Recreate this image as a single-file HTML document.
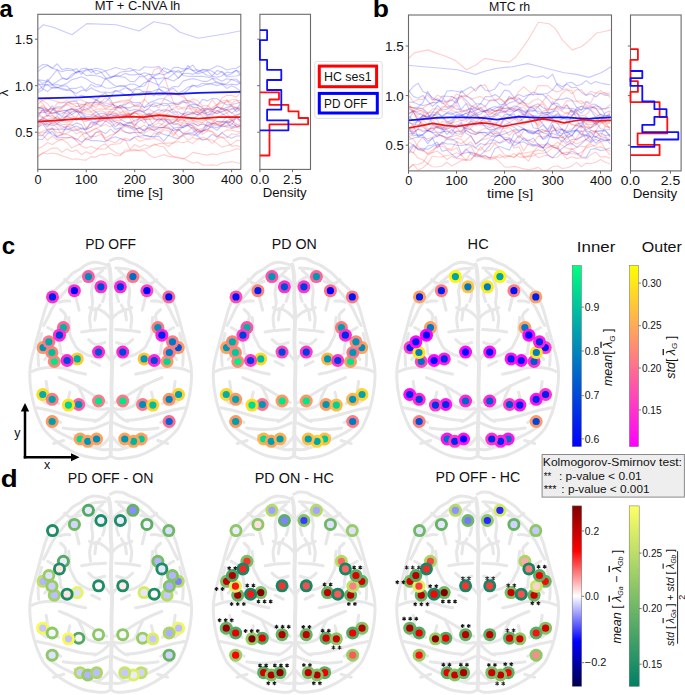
<!DOCTYPE html><html><head><meta charset="utf-8"><style>html,body{margin:0;padding:0;background:#fff;overflow:hidden;width:685px;height:695px;}svg{display:block;}text{font-family:"Liberation Sans",sans-serif;}</style></head><body>
<svg width="685" height="695" viewBox="0 0 685 695">
<rect width="685" height="695" fill="#fff"/>
<defs>
<linearGradient id="gwinter" x1="0" y1="1" x2="0" y2="0"><stop offset="0" stop-color="rgb(0,0,255)"/><stop offset="1" stop-color="rgb(0,255,128)"/></linearGradient>
<linearGradient id="gspring" x1="0" y1="1" x2="0" y2="0"><stop offset="0" stop-color="rgb(255,0,255)"/><stop offset="1" stop-color="rgb(255,255,0)"/></linearGradient>
<linearGradient id="gseismic" x1="0" y1="1" x2="0" y2="0"><stop offset="0" stop-color="rgb(0,0,77)"/><stop offset="0.25" stop-color="rgb(0,0,255)"/><stop offset="0.5" stop-color="rgb(255,255,255)"/><stop offset="0.75" stop-color="rgb(255,0,0)"/><stop offset="1" stop-color="rgb(128,0,0)"/></linearGradient>
<linearGradient id="gsummer" x1="0" y1="1" x2="0" y2="0"><stop offset="0" stop-color="rgb(0,128,102)"/><stop offset="1" stop-color="rgb(255,255,102)"/></linearGradient>
<filter id="soft" x="-10%" y="-10%" width="120%" height="120%"><feGaussianBlur stdDeviation="0.7"/></filter>
</defs>
<text x="-0.41" y="17.00" font-size="23.5" font-weight="bold" font-style="normal" fill="#000" textLength="13.20" lengthAdjust="spacingAndGlyphs">a</text>
<text x="94.76" y="10.00" font-size="12.0" font-weight="normal" font-style="normal" fill="#111" textLength="85.56" lengthAdjust="spacingAndGlyphs">MT + C-NVA lh</text>
<clipPath id="ca"><rect x="37.8" y="14.3" width="203" height="155.1"/></clipPath><g clip-path="url(#ca)">
<polyline points="37.8,71.6 42.6,67.8 47.5,65.4 52.3,68.3 57.2,70.0 62.0,71.8 66.9,70.1 71.7,70.5 76.6,68.6 81.4,74.4 86.2,69.2 91.1,69.9 95.9,68.3 100.8,69.3 105.6,70.8 110.5,69.5 115.3,67.5 120.2,68.8 125.0,69.7 129.9,68.0 134.7,71.0 139.5,75.1 144.4,72.8 149.2,74.0 154.1,78.4 158.9,78.6 163.8,77.8 168.6,79.1 173.5,81.0 178.3,78.1 183.1,73.5 188.0,73.2 192.8,74.4 197.7,72.1 202.5,69.4 207.4,70.3 212.2,68.5 217.1,65.8 221.9,67.2 226.8,70.0 231.6,68.8 236.4,68.2 241.3,65.3" fill="none" stroke="rgb(0,0,255)" stroke-width="1.15" stroke-opacity="0.21" stroke-linejoin="round" />
<polyline points="37.8,79.9 42.6,80.4 47.5,81.3 52.3,84.4 57.2,81.6 62.0,78.4 66.9,79.5 71.7,74.4 76.6,72.1 81.4,71.0 86.2,70.7 91.1,69.0 95.9,74.1 100.8,72.5 105.6,71.3 110.5,77.1 115.3,75.5 120.2,75.9 125.0,73.4 129.9,74.9 134.7,74.9 139.5,73.8 144.4,76.5 149.2,74.3 154.1,74.7 158.9,73.3 163.8,75.0 168.6,71.9 173.5,70.9 178.3,72.3 183.1,71.1 188.0,68.4 192.8,65.0 197.7,71.7 202.5,70.0 207.4,69.8 212.2,71.3 217.1,74.9 221.9,71.3 226.8,75.6 231.6,73.8 236.4,70.3 241.3,75.8" fill="none" stroke="rgb(0,0,255)" stroke-width="1.15" stroke-opacity="0.21" stroke-linejoin="round" />
<polyline points="37.8,79.7 42.6,83.6 47.5,81.4 52.3,75.6 57.2,69.6 62.0,77.5 66.9,79.4 71.7,76.7 76.6,71.7 81.4,71.8 86.2,75.6 91.1,75.1 95.9,75.7 100.8,76.7 105.6,79.2 110.5,77.3 115.3,76.2 120.2,76.7 125.0,77.4 129.9,81.4 134.7,81.7 139.5,76.5 144.4,77.0 149.2,81.5 154.1,75.8 158.9,74.2 163.8,67.7 168.6,69.6 173.5,72.6 178.3,78.1 183.1,73.2 188.0,65.4 192.8,70.6 197.7,73.9 202.5,72.3 207.4,75.7 212.2,76.4 217.1,77.2 221.9,76.0 226.8,72.1 231.6,72.7 236.4,70.2 241.3,72.7" fill="none" stroke="rgb(0,0,255)" stroke-width="1.15" stroke-opacity="0.21" stroke-linejoin="round" />
<polyline points="37.8,82.5 42.6,88.8 47.5,91.6 52.3,87.4 57.2,88.1 62.0,85.4 66.9,83.4 71.7,79.7 76.6,78.4 81.4,76.8 86.2,78.8 91.1,81.9 95.9,84.3 100.8,85.4 105.6,88.0 110.5,88.3 115.3,87.3 120.2,85.5 125.0,85.9 129.9,90.5 134.7,88.8 139.5,86.7 144.4,82.7 149.2,81.1 154.1,83.3 158.9,85.2 163.8,79.0 168.6,77.8 173.5,73.9 178.3,70.1 183.1,75.5 188.0,76.2 192.8,76.4 197.7,76.4 202.5,76.3 207.4,77.3 212.2,78.0 217.1,83.3 221.9,83.4 226.8,85.2 231.6,84.1 236.4,84.9 241.3,82.4" fill="none" stroke="rgb(0,0,255)" stroke-width="1.15" stroke-opacity="0.21" stroke-linejoin="round" />
<polyline points="37.8,84.5 42.6,84.5 47.5,84.5 52.3,85.2 57.2,87.5 62.0,88.2 66.9,89.9 71.7,88.3 76.6,88.3 81.4,86.5 86.2,91.3 91.1,87.7 95.9,90.4 100.8,92.3 105.6,92.0 110.5,92.9 115.3,90.9 120.2,92.2 125.0,94.7 129.9,95.9 134.7,89.8 139.5,89.3 144.4,92.9 149.2,91.8 154.1,96.0 158.9,88.3 163.8,93.3 168.6,90.6 173.5,88.3 178.3,93.0 183.1,90.9 188.0,87.1 192.8,85.9 197.7,85.7 202.5,83.3 207.4,84.1 212.2,84.1 217.1,85.6 221.9,84.3 226.8,88.4 231.6,85.8 236.4,88.1 241.3,91.8" fill="none" stroke="rgb(0,0,255)" stroke-width="1.15" stroke-opacity="0.21" stroke-linejoin="round" />
<polyline points="37.8,90.7 42.6,86.3 47.5,85.1 52.3,88.2 57.2,87.2 62.0,89.6 66.9,90.5 71.7,90.5 76.6,97.2 81.4,95.2 86.2,97.1 91.1,97.6 95.9,100.1 100.8,102.1 105.6,101.9 110.5,96.9 115.3,90.7 120.2,90.8 125.0,87.7 129.9,89.1 134.7,94.8 139.5,93.3 144.4,91.3 149.2,92.2 154.1,90.8 158.9,89.0 163.8,91.6 168.6,95.3 173.5,94.5 178.3,93.9 183.1,93.8 188.0,90.0 192.8,85.0 197.7,87.2 202.5,85.8 207.4,84.0 212.2,83.3 217.1,81.8 221.9,84.6 226.8,83.6 231.6,79.2 236.4,79.3 241.3,83.3" fill="none" stroke="rgb(0,0,255)" stroke-width="1.15" stroke-opacity="0.21" stroke-linejoin="round" />
<polyline points="37.8,67.9 42.6,64.5 47.5,64.9 52.3,68.2 57.2,63.8 62.0,69.6 66.9,68.3 71.7,69.0 76.6,73.3 81.4,68.7 86.2,68.1 91.1,72.6 95.9,70.2 100.8,71.8 105.6,77.7 110.5,78.2 115.3,75.5 120.2,72.3 125.0,71.4 129.9,71.1 134.7,69.5 139.5,70.5 144.4,66.8 149.2,67.3 154.1,67.2 158.9,66.4 163.8,70.9 168.6,73.2 173.5,67.6 178.3,67.3 183.1,69.1 188.0,68.4 192.8,70.6 197.7,69.7 202.5,72.2 207.4,70.9 212.2,76.0 217.1,70.4 221.9,72.2 226.8,77.0 231.6,76.2 236.4,76.0 241.3,74.2" fill="none" stroke="rgb(0,0,255)" stroke-width="1.15" stroke-opacity="0.21" stroke-linejoin="round" />
<polyline points="37.8,92.4 42.6,90.0 47.5,79.3 52.3,84.9 57.2,84.5 62.0,86.1 66.9,85.8 71.7,91.2 76.6,93.4 81.4,90.5 86.2,89.7 91.1,84.4 95.9,87.0 100.8,86.4 105.6,78.3 110.5,82.5 115.3,86.0 120.2,86.2 125.0,86.4 129.9,84.0 134.7,84.2 139.5,86.8 144.4,86.0 149.2,78.7 154.1,77.0 158.9,87.0 163.8,87.1 168.6,89.2 173.5,86.6 178.3,86.8 183.1,81.1 188.0,79.6 192.8,78.6 197.7,79.8 202.5,81.3 207.4,81.3 212.2,78.7 217.1,78.8 221.9,81.3 226.8,78.7 231.6,79.7 236.4,81.2 241.3,84.3" fill="none" stroke="rgb(0,0,255)" stroke-width="1.15" stroke-opacity="0.21" stroke-linejoin="round" />
<polyline points="37.8,107.1 42.6,108.4 47.5,116.5 52.3,110.1 57.2,106.8 62.0,106.9 66.9,102.8 71.7,101.8 76.6,101.2 81.4,110.0 86.2,109.4 91.1,106.4 95.9,100.6 100.8,95.5 105.6,93.1 110.5,99.7 115.3,108.0 120.2,105.2 125.0,104.9 129.9,101.6 134.7,102.7 139.5,102.4 144.4,107.7 149.2,105.4 154.1,106.6 158.9,104.9 163.8,103.2 168.6,103.9 173.5,103.0 178.3,103.3 183.1,101.1 188.0,100.3 192.8,103.1 197.7,105.3 202.5,99.4 207.4,100.9 212.2,98.5 217.1,98.7 221.9,101.9 226.8,105.0 231.6,104.4 236.4,103.5 241.3,101.7" fill="none" stroke="rgb(0,0,255)" stroke-width="1.15" stroke-opacity="0.21" stroke-linejoin="round" />
<polyline points="37.8,112.4 42.6,112.7 47.5,111.6 52.3,105.9 57.2,112.8 62.0,110.1 66.9,110.8 71.7,108.6 76.6,109.5 81.4,107.8 86.2,103.1 91.1,103.0 95.9,102.7 100.8,102.6 105.6,105.7 110.5,104.3 115.3,105.4 120.2,107.9 125.0,107.6 129.9,107.9 134.7,105.4 139.5,105.7 144.4,107.3 149.2,102.9 154.1,100.9 158.9,98.7 163.8,98.8 168.6,100.9 173.5,103.3 178.3,104.7 183.1,102.3 188.0,102.9 192.8,107.7 197.7,107.3 202.5,110.8 207.4,109.0 212.2,111.5 217.1,113.5 221.9,111.2 226.8,109.9 231.6,113.4 236.4,109.3 241.3,102.2" fill="none" stroke="rgb(0,0,255)" stroke-width="1.15" stroke-opacity="0.21" stroke-linejoin="round" />
<polyline points="37.8,117.1 42.6,109.4 47.5,111.7 52.3,112.9 57.2,112.7 62.0,116.7 66.9,110.8 71.7,108.9 76.6,111.6 81.4,112.1 86.2,116.5 91.1,116.0 95.9,111.4 100.8,116.6 105.6,116.3 110.5,114.2 115.3,109.7 120.2,105.4 125.0,108.0 129.9,110.9 134.7,109.2 139.5,110.5 144.4,111.4 149.2,107.5 154.1,102.6 158.9,103.5 163.8,105.8 168.6,104.9 173.5,112.3 178.3,111.8 183.1,114.7 188.0,105.7 192.8,104.4 197.7,105.3 202.5,107.1 207.4,116.0 212.2,112.1 217.1,106.3 221.9,109.5 226.8,107.4 231.6,105.7 236.4,111.8 241.3,108.2" fill="none" stroke="rgb(0,0,255)" stroke-width="1.15" stroke-opacity="0.21" stroke-linejoin="round" />
<polyline points="37.8,107.9 42.6,108.7 47.5,110.1 52.3,108.7 57.2,114.2 62.0,113.7 66.9,110.6 71.7,114.7 76.6,111.5 81.4,113.1 86.2,118.8 91.1,117.6 95.9,119.1 100.8,116.7 105.6,118.9 110.5,114.4 115.3,116.0 120.2,114.1 125.0,115.4 129.9,115.5 134.7,111.4 139.5,111.0 144.4,112.4 149.2,115.8 154.1,111.6 158.9,109.6 163.8,111.1 168.6,110.6 173.5,113.8 178.3,116.1 183.1,117.3 188.0,114.8 192.8,113.2 197.7,114.8 202.5,111.9 207.4,109.5 212.2,109.5 217.1,107.0 221.9,108.8 226.8,109.7 231.6,108.7 236.4,109.3 241.3,107.5" fill="none" stroke="rgb(0,0,255)" stroke-width="1.15" stroke-opacity="0.21" stroke-linejoin="round" />
<polyline points="37.8,123.4 42.6,117.3 47.5,119.8 52.3,119.7 57.2,123.6 62.0,120.1 66.9,115.2 71.7,112.3 76.6,110.8 81.4,117.5 86.2,120.0 91.1,120.8 95.9,123.0 100.8,117.9 105.6,117.2 110.5,117.3 115.3,115.7 120.2,119.2 125.0,121.7 129.9,123.5 134.7,120.3 139.5,118.5 144.4,116.3 149.2,113.0 154.1,118.5 158.9,120.0 163.8,118.9 168.6,122.9 173.5,123.2 178.3,118.4 183.1,114.6 188.0,111.8 192.8,113.0 197.7,114.8 202.5,111.9 207.4,114.5 212.2,114.1 217.1,110.6 221.9,113.5 226.8,116.4 231.6,116.7 236.4,114.9 241.3,113.9" fill="none" stroke="rgb(0,0,255)" stroke-width="1.15" stroke-opacity="0.21" stroke-linejoin="round" />
<polyline points="37.8,120.4 42.6,119.0 47.5,124.0 52.3,125.7 57.2,124.1 62.0,126.0 66.9,128.6 71.7,130.1 76.6,130.5 81.4,128.7 86.2,129.8 91.1,127.1 95.9,121.0 100.8,121.5 105.6,118.0 110.5,118.1 115.3,122.2 120.2,122.8 125.0,125.3 129.9,122.3 134.7,125.4 139.5,120.9 144.4,119.5 149.2,125.8 154.1,122.7 158.9,118.2 163.8,121.4 168.6,118.9 173.5,124.7 178.3,123.4 183.1,127.8 188.0,125.1 192.8,129.4 197.7,135.0 202.5,130.8 207.4,122.4 212.2,124.1 217.1,121.4 221.9,121.4 226.8,122.7 231.6,121.0 236.4,116.9 241.3,121.8" fill="none" stroke="rgb(0,0,255)" stroke-width="1.15" stroke-opacity="0.21" stroke-linejoin="round" />
<polyline points="37.8,122.0 42.6,121.6 47.5,127.0 52.3,121.2 57.2,115.7 62.0,121.1 66.9,116.4 71.7,118.3 76.6,120.4 81.4,116.6 86.2,117.9 91.1,118.6 95.9,115.2 100.8,113.4 105.6,113.3 110.5,120.7 115.3,126.9 120.2,122.7 125.0,126.2 129.9,125.4 134.7,128.7 139.5,128.3 144.4,131.6 149.2,124.6 154.1,127.9 158.9,127.5 163.8,127.5 168.6,122.9 173.5,128.0 178.3,127.3 183.1,127.3 188.0,125.0 192.8,123.4 197.7,125.2 202.5,124.3 207.4,125.7 212.2,123.9 217.1,124.5 221.9,126.7 226.8,126.3 231.6,124.7 236.4,117.4 241.3,120.8" fill="none" stroke="rgb(0,0,255)" stroke-width="1.15" stroke-opacity="0.21" stroke-linejoin="round" />
<polyline points="37.8,127.2 42.6,123.4 47.5,130.5 52.3,134.8 57.2,136.5 62.0,134.8 66.9,126.3 71.7,125.7 76.6,122.9 81.4,124.8 86.2,132.5 91.1,137.8 95.9,132.5 100.8,130.9 105.6,133.7 110.5,129.1 115.3,133.1 120.2,128.6 125.0,124.3 129.9,127.3 134.7,130.4 139.5,127.4 144.4,130.5 149.2,127.3 154.1,130.7 158.9,127.6 163.8,127.3 168.6,128.5 173.5,130.7 178.3,129.1 183.1,133.9 188.0,133.0 192.8,132.6 197.7,129.3 202.5,132.2 207.4,126.1 212.2,127.2 217.1,130.3 221.9,125.5 226.8,121.2 231.6,123.1 236.4,126.5 241.3,126.5" fill="none" stroke="rgb(0,0,255)" stroke-width="1.15" stroke-opacity="0.21" stroke-linejoin="round" />
<polyline points="37.8,135.6 42.6,135.7 47.5,129.8 52.3,129.1 57.2,129.4 62.0,129.0 66.9,130.0 71.7,127.8 76.6,126.0 81.4,128.8 86.2,129.3 91.1,122.2 95.9,123.3 100.8,126.1 105.6,121.0 110.5,123.8 115.3,129.4 120.2,127.9 125.0,131.9 129.9,133.6 134.7,132.2 139.5,132.6 144.4,135.0 149.2,136.1 154.1,137.0 158.9,132.0 163.8,134.4 168.6,135.7 173.5,128.2 178.3,131.0 183.1,126.5 188.0,123.6 192.8,126.3 197.7,132.4 202.5,130.8 207.4,129.0 212.2,126.6 217.1,127.8 221.9,125.0 226.8,122.3 231.6,128.2 236.4,124.5 241.3,125.9" fill="none" stroke="rgb(0,0,255)" stroke-width="1.15" stroke-opacity="0.21" stroke-linejoin="round" />
<polyline points="37.8,139.2 42.6,139.5 47.5,133.6 52.3,131.6 57.2,137.9 62.0,137.3 66.9,137.5 71.7,137.8 76.6,138.9 81.4,142.3 86.2,138.5 91.1,140.6 95.9,140.5 100.8,141.1 105.6,141.9 110.5,138.4 115.3,136.8 120.2,138.5 125.0,140.5 129.9,140.7 134.7,136.8 139.5,136.2 144.4,135.5 149.2,136.5 154.1,137.0 158.9,136.1 163.8,141.2 168.6,135.3 173.5,137.6 178.3,138.6 183.1,134.1 188.0,133.8 192.8,134.1 197.7,136.1 202.5,140.2 207.4,138.5 212.2,134.3 217.1,137.1 221.9,132.8 226.8,136.5 231.6,138.2 236.4,136.0 241.3,135.8" fill="none" stroke="rgb(0,0,255)" stroke-width="1.15" stroke-opacity="0.21" stroke-linejoin="round" />
<polyline points="37.8,97.2 42.6,100.5 47.5,103.9 52.3,109.1 57.2,110.9 62.0,111.8 66.9,113.7 71.7,109.4 76.6,109.3 81.4,113.6 86.2,102.3 91.1,104.6 95.9,107.7 100.8,101.9 105.6,97.7 110.5,102.2 115.3,106.6 120.2,108.3 125.0,102.7 129.9,103.2 134.7,105.2 139.5,104.1 144.4,99.3 149.2,104.2 154.1,104.5 158.9,108.0 163.8,99.1 168.6,93.6 173.5,92.2 178.3,94.7 183.1,94.1 188.0,102.5 192.8,101.1 197.7,105.3 202.5,108.5 207.4,108.8 212.2,107.9 217.1,104.2 221.9,101.0 226.8,100.0 231.6,103.3 236.4,100.4 241.3,100.8" fill="none" stroke="rgb(255,0,0)" stroke-width="1.15" stroke-opacity="0.19" stroke-linejoin="round" />
<polyline points="37.8,99.4 42.6,103.1 47.5,111.1 52.3,110.7 57.2,103.1 62.0,102.0 66.9,103.1 71.7,100.8 76.6,100.2 81.4,99.8 86.2,102.3 91.1,102.4 95.9,102.2 100.8,104.4 105.6,107.3 110.5,106.0 115.3,102.7 120.2,101.1 125.0,100.3 129.9,99.7 134.7,93.4 139.5,95.2 144.4,94.3 149.2,91.1 154.1,94.0 158.9,95.5 163.8,94.5 168.6,92.0 173.5,93.9 178.3,95.1 183.1,96.8 188.0,101.7 192.8,98.9 197.7,100.6 202.5,105.9 207.4,105.5 212.2,109.7 217.1,110.7 221.9,108.6 226.8,109.7 231.6,104.9 236.4,108.4 241.3,106.1" fill="none" stroke="rgb(255,0,0)" stroke-width="1.15" stroke-opacity="0.19" stroke-linejoin="round" />
<polyline points="37.8,104.3 42.6,100.2 47.5,98.9 52.3,100.2 57.2,101.6 62.0,103.2 66.9,100.4 71.7,104.2 76.6,103.2 81.4,104.4 86.2,104.3 91.1,105.8 95.9,99.1 100.8,103.2 105.6,103.3 110.5,103.3 115.3,102.3 120.2,102.0 125.0,101.8 129.9,99.9 134.7,106.6 139.5,106.6 144.4,110.7 149.2,109.0 154.1,112.3 158.9,114.1 163.8,112.5 168.6,106.6 173.5,104.8 178.3,104.4 183.1,100.4 188.0,105.1 192.8,112.4 197.7,112.4 202.5,111.9 207.4,106.7 212.2,99.8 217.1,105.9 221.9,98.1 226.8,95.2 231.6,95.4 236.4,97.1 241.3,91.6" fill="none" stroke="rgb(255,0,0)" stroke-width="1.15" stroke-opacity="0.19" stroke-linejoin="round" />
<polyline points="37.8,109.5 42.6,110.9 47.5,110.1 52.3,113.8 57.2,111.4 62.0,111.2 66.9,109.8 71.7,108.7 76.6,111.8 81.4,107.4 86.2,110.7 91.1,107.8 95.9,112.5 100.8,110.6 105.6,112.4 110.5,111.4 115.3,112.5 120.2,117.6 125.0,118.5 129.9,115.8 134.7,112.2 139.5,115.3 144.4,119.5 149.2,119.1 154.1,116.9 158.9,116.5 163.8,116.6 168.6,112.1 173.5,108.3 178.3,106.1 183.1,109.1 188.0,108.5 192.8,108.8 197.7,112.5 202.5,108.8 207.4,108.2 212.2,109.3 217.1,104.8 221.9,103.3 226.8,101.9 231.6,99.8 236.4,99.6 241.3,105.0" fill="none" stroke="rgb(255,0,0)" stroke-width="1.15" stroke-opacity="0.19" stroke-linejoin="round" />
<polyline points="37.8,114.5 42.6,110.7 47.5,113.7 52.3,113.2 57.2,111.8 62.0,107.2 66.9,104.3 71.7,103.4 76.6,106.3 81.4,104.9 86.2,105.1 91.1,107.4 95.9,104.3 100.8,104.7 105.6,109.1 110.5,105.9 115.3,108.3 120.2,107.5 125.0,113.7 129.9,113.4 134.7,116.3 139.5,118.5 144.4,123.2 149.2,113.6 154.1,113.8 158.9,112.7 163.8,109.1 168.6,110.3 173.5,109.2 178.3,114.5 183.1,113.3 188.0,114.5 192.8,112.4 197.7,111.8 202.5,116.5 207.4,121.6 212.2,122.6 217.1,117.7 221.9,115.0 226.8,113.1 231.6,119.5 236.4,126.5 241.3,125.1" fill="none" stroke="rgb(255,0,0)" stroke-width="1.15" stroke-opacity="0.19" stroke-linejoin="round" />
<polyline points="37.8,115.9 42.6,117.2 47.5,115.5 52.3,115.7 57.2,118.7 62.0,120.1 66.9,118.3 71.7,117.2 76.6,116.7 81.4,109.8 86.2,111.7 91.1,112.1 95.9,115.5 100.8,116.2 105.6,114.3 110.5,112.8 115.3,113.7 120.2,112.8 125.0,113.1 129.9,118.7 134.7,126.8 139.5,117.3 144.4,114.3 149.2,114.5 154.1,119.3 158.9,121.7 163.8,116.1 168.6,123.5 173.5,122.2 178.3,117.8 183.1,116.6 188.0,114.0 192.8,114.5 197.7,107.8 202.5,112.4 207.4,116.7 212.2,115.4 217.1,111.2 221.9,112.2 226.8,109.8 231.6,112.5 236.4,116.3 241.3,112.0" fill="none" stroke="rgb(255,0,0)" stroke-width="1.15" stroke-opacity="0.19" stroke-linejoin="round" />
<polyline points="37.8,108.7 42.6,105.6 47.5,109.7 52.3,115.1 57.2,119.2 62.0,119.1 66.9,116.4 71.7,114.7 76.6,119.6 81.4,118.0 86.2,117.4 91.1,116.7 95.9,116.5 100.8,116.9 105.6,114.6 110.5,114.4 115.3,113.9 120.2,116.5 125.0,114.9 129.9,115.3 134.7,122.1 139.5,118.8 144.4,118.7 149.2,114.7 154.1,115.3 158.9,115.4 163.8,114.6 168.6,114.6 173.5,116.0 178.3,121.5 183.1,113.7 188.0,119.0 192.8,118.9 197.7,115.6 202.5,114.0 207.4,112.2 212.2,110.1 217.1,107.0 221.9,107.7 226.8,99.8 231.6,106.6 236.4,107.6 241.3,110.3" fill="none" stroke="rgb(255,0,0)" stroke-width="1.15" stroke-opacity="0.19" stroke-linejoin="round" />
<polyline points="37.8,120.5 42.6,119.2 47.5,114.9 52.3,117.7 57.2,119.8 62.0,117.4 66.9,116.1 71.7,111.2 76.6,110.1 81.4,111.5 86.2,114.1 91.1,114.5 95.9,115.9 100.8,120.3 105.6,119.8 110.5,119.9 115.3,120.1 120.2,120.9 125.0,115.5 129.9,114.2 134.7,112.6 139.5,115.7 144.4,119.2 149.2,119.8 154.1,118.7 158.9,119.6 163.8,119.8 168.6,116.7 173.5,116.2 178.3,119.5 183.1,120.4 188.0,121.7 192.8,120.3 197.7,123.1 202.5,122.4 207.4,119.4 212.2,119.0 217.1,121.4 221.9,122.3 226.8,121.0 231.6,118.9 236.4,116.4 241.3,117.3" fill="none" stroke="rgb(255,0,0)" stroke-width="1.15" stroke-opacity="0.19" stroke-linejoin="round" />
<polyline points="37.8,126.5 42.6,120.3 47.5,119.3 52.3,118.2 57.2,117.7 62.0,121.6 66.9,122.3 71.7,120.9 76.6,117.4 81.4,117.8 86.2,128.6 91.1,127.2 95.9,124.3 100.8,119.0 105.6,117.0 110.5,109.7 115.3,107.6 120.2,106.4 125.0,106.7 129.9,114.6 134.7,113.2 139.5,113.0 144.4,116.5 149.2,115.5 154.1,115.3 158.9,118.0 163.8,118.9 168.6,120.1 173.5,119.3 178.3,120.9 183.1,118.9 188.0,125.5 192.8,125.0 197.7,129.3 202.5,128.6 207.4,124.8 212.2,123.5 217.1,123.0 221.9,122.1 226.8,116.5 231.6,121.0 236.4,117.9 241.3,123.4" fill="none" stroke="rgb(255,0,0)" stroke-width="1.15" stroke-opacity="0.19" stroke-linejoin="round" />
<polyline points="37.8,123.9 42.6,123.0 47.5,125.1 52.3,123.7 57.2,121.2 62.0,124.7 66.9,124.1 71.7,124.6 76.6,129.2 81.4,127.8 86.2,128.5 91.1,123.0 95.9,125.1 100.8,119.4 105.6,121.4 110.5,116.0 115.3,115.8 120.2,115.9 125.0,114.9 129.9,114.0 134.7,111.8 139.5,109.3 144.4,113.2 149.2,118.6 154.1,126.6 158.9,126.3 163.8,122.8 168.6,121.2 173.5,120.8 178.3,121.7 183.1,123.2 188.0,123.4 192.8,121.6 197.7,126.2 202.5,122.8 207.4,126.2 212.2,125.2 217.1,125.8 221.9,125.4 226.8,127.1 231.6,128.6 236.4,127.1 241.3,128.4" fill="none" stroke="rgb(255,0,0)" stroke-width="1.15" stroke-opacity="0.19" stroke-linejoin="round" />
<polyline points="37.8,112.8 42.6,117.1 47.5,121.2 52.3,123.9 57.2,127.6 62.0,134.9 66.9,133.2 71.7,130.1 76.6,133.7 81.4,131.5 86.2,133.8 91.1,131.6 95.9,128.8 100.8,126.2 105.6,124.5 110.5,126.9 115.3,123.5 120.2,125.3 125.0,124.0 129.9,122.0 134.7,123.7 139.5,128.2 144.4,125.3 149.2,128.9 154.1,130.8 158.9,132.9 163.8,128.1 168.6,127.9 173.5,134.4 178.3,129.6 183.1,121.7 188.0,116.6 192.8,120.6 197.7,121.4 202.5,120.6 207.4,118.8 212.2,120.2 217.1,124.9 221.9,122.5 226.8,121.1 231.6,126.4 236.4,127.2 241.3,125.7" fill="none" stroke="rgb(255,0,0)" stroke-width="1.15" stroke-opacity="0.19" stroke-linejoin="round" />
<polyline points="37.8,126.7 42.6,125.2 47.5,123.3 52.3,122.6 57.2,123.9 62.0,128.3 66.9,126.1 71.7,122.2 76.6,117.7 81.4,119.9 86.2,121.6 91.1,118.6 95.9,116.5 100.8,117.9 105.6,117.9 110.5,122.0 115.3,121.3 120.2,124.7 125.0,125.3 129.9,125.7 134.7,126.9 139.5,132.4 144.4,133.0 149.2,130.1 154.1,129.0 158.9,129.2 163.8,126.9 168.6,124.5 173.5,122.3 178.3,125.2 183.1,125.0 188.0,125.9 192.8,128.0 197.7,131.3 202.5,129.9 207.4,131.0 212.2,123.3 217.1,123.9 221.9,124.6 226.8,125.6 231.6,120.0 236.4,123.7 241.3,124.2" fill="none" stroke="rgb(255,0,0)" stroke-width="1.15" stroke-opacity="0.19" stroke-linejoin="round" />
<polyline points="37.8,133.2 42.6,132.7 47.5,132.1 52.3,127.9 57.2,132.9 62.0,132.2 66.9,126.3 71.7,128.8 76.6,129.6 81.4,132.5 86.2,140.3 91.1,138.0 95.9,132.0 100.8,133.0 105.6,138.1 110.5,135.1 115.3,133.5 120.2,129.3 125.0,126.4 129.9,128.1 134.7,127.2 139.5,133.6 144.4,129.0 149.2,128.6 154.1,125.3 158.9,122.9 163.8,125.5 168.6,127.0 173.5,130.5 178.3,137.0 183.1,135.6 188.0,133.6 192.8,136.2 197.7,132.2 202.5,131.2 207.4,129.4 212.2,131.9 217.1,137.1 221.9,132.7 226.8,129.9 231.6,130.2 236.4,131.4 241.3,131.9" fill="none" stroke="rgb(255,0,0)" stroke-width="1.15" stroke-opacity="0.19" stroke-linejoin="round" />
<polyline points="37.8,133.8 42.6,135.1 47.5,140.3 52.3,136.3 57.2,139.7 62.0,139.1 66.9,138.5 71.7,136.5 76.6,140.2 81.4,135.1 86.2,132.8 91.1,130.8 95.9,127.9 100.8,131.5 105.6,140.7 110.5,137.9 115.3,133.1 120.2,129.9 125.0,132.2 129.9,132.7 134.7,132.0 139.5,137.4 144.4,138.2 149.2,138.7 154.1,132.9 158.9,134.8 163.8,130.0 168.6,130.8 173.5,136.1 178.3,129.1 183.1,132.9 188.0,131.2 192.8,126.9 197.7,130.0 202.5,134.2 207.4,131.0 212.2,131.4 217.1,135.2 221.9,137.7 226.8,137.7 231.6,133.8 236.4,134.5 241.3,132.3" fill="none" stroke="rgb(255,0,0)" stroke-width="1.15" stroke-opacity="0.19" stroke-linejoin="round" />
<polyline points="37.8,133.4 42.6,131.3 47.5,129.1 52.3,128.1 57.2,136.6 62.0,133.7 66.9,134.4 71.7,136.4 76.6,141.0 81.4,146.0 86.2,148.2 91.1,146.3 95.9,148.6 100.8,149.1 105.6,148.8 110.5,144.4 115.3,144.2 120.2,143.5 125.0,138.2 129.9,139.6 134.7,137.5 139.5,141.4 144.4,139.7 149.2,139.2 154.1,138.5 158.9,140.1 163.8,143.1 168.6,142.9 173.5,143.3 178.3,138.7 183.1,135.6 188.0,140.1 192.8,137.5 197.7,139.2 202.5,137.3 207.4,139.0 212.2,143.4 217.1,138.6 221.9,136.8 226.8,140.9 231.6,146.1 236.4,145.5 241.3,147.2" fill="none" stroke="rgb(255,0,0)" stroke-width="1.15" stroke-opacity="0.19" stroke-linejoin="round" />
<polyline points="37.8,148.6 42.6,146.5 47.5,142.5 52.3,144.6 57.2,141.3 62.0,139.4 66.9,142.4 71.7,148.1 76.6,145.4 81.4,143.9 86.2,138.0 91.1,136.1 95.9,136.4 100.8,134.2 105.6,140.1 110.5,141.0 115.3,143.0 120.2,138.9 125.0,139.0 129.9,149.3 134.7,144.5 139.5,147.3 144.4,144.7 149.2,146.2 154.1,145.3 158.9,143.6 163.8,143.4 168.6,146.5 173.5,142.3 178.3,141.8 183.1,142.7 188.0,141.2 192.8,143.6 197.7,138.6 202.5,139.5 207.4,139.8 212.2,140.0 217.1,143.6 221.9,147.1 226.8,145.8 231.6,144.4 236.4,140.6 241.3,140.2" fill="none" stroke="rgb(255,0,0)" stroke-width="1.15" stroke-opacity="0.19" stroke-linejoin="round" />
<polyline points="37.8,156.2 42.6,153.6 47.5,150.7 52.3,148.1 57.2,148.1 62.0,152.3 66.9,148.9 71.7,151.6 76.6,150.0 81.4,154.7 86.2,151.8 91.1,153.9 95.9,150.3 100.8,145.7 105.6,143.9 110.5,149.0 115.3,152.3 120.2,154.5 125.0,151.9 129.9,150.9 134.7,150.6 139.5,150.0 144.4,148.7 149.2,147.6 154.1,143.9 158.9,146.0 163.8,146.8 168.6,153.2 173.5,156.5 178.3,157.2 183.1,159.1 188.0,156.6 192.8,152.4 197.7,153.4 202.5,154.3 207.4,155.1 212.2,153.9 217.1,154.8 221.9,152.8 226.8,151.7 231.6,150.7 236.4,148.8 241.3,149.5" fill="none" stroke="rgb(255,0,0)" stroke-width="1.15" stroke-opacity="0.19" stroke-linejoin="round" />
<polyline points="37.8,156.8 42.6,152.8 47.5,154.0 52.3,153.0 57.2,153.9 62.0,155.9 66.9,157.3 71.7,159.2 76.6,158.7 81.4,159.8 86.2,160.1 91.1,156.6 95.9,157.1 100.8,154.5 105.6,154.6 110.5,153.3 115.3,155.7 120.2,155.8 125.0,150.0 129.9,149.9 134.7,149.4 139.5,150.9 144.4,150.5 149.2,154.9 154.1,157.5 158.9,156.5 163.8,154.8 168.6,156.4 173.5,157.1 178.3,158.0 183.1,158.3 188.0,160.8 192.8,163.3 197.7,162.0 202.5,164.9 207.4,165.3 212.2,164.9 217.1,165.5 221.9,162.9 226.8,162.6 231.6,161.5 236.4,162.8 241.3,163.2" fill="none" stroke="rgb(255,0,0)" stroke-width="1.15" stroke-opacity="0.19" stroke-linejoin="round" />
<polyline points="37.8,107.8 42.6,107.4 47.5,109.4 52.3,108.5 57.2,108.4 62.0,108.4 66.9,104.4 71.7,107.0 76.6,106.6 81.4,106.3 86.2,107.9 91.1,111.8 95.9,109.4 100.8,108.9 105.6,109.1 110.5,109.3 115.3,109.5 120.2,112.2 125.0,110.8 129.9,115.2 134.7,112.2 139.5,110.5 144.4,99.7 149.2,81.9 154.1,69.7 158.9,67.9 163.8,74.7 168.6,89.5 173.5,102.3 178.3,109.6 183.1,107.4 188.0,106.8 192.8,106.5 197.7,110.8 202.5,109.0 207.4,113.0 212.2,111.0 217.1,114.0 221.9,107.7 226.8,113.1 231.6,109.0 236.4,107.2 241.3,113.0" fill="none" stroke="rgb(255,0,0)" stroke-width="1.15" stroke-opacity="0.19" stroke-linejoin="round" />
<polyline points="37.7,29.8 43.4,24.8 53.3,27.3 72.0,34.7 86.8,23.6 116.6,24.8 139.0,31.0 153.8,21.8 170.0,24.8 180.0,32.2 198.4,38.3 226.0,33.7 241.3,30.7" fill="none" stroke="rgb(0,0,255)" stroke-width="1.15" stroke-opacity="0.21" stroke-linejoin="round" />
<polyline points="37.2,98.3 59.6,97.8 79.4,97.3 99.3,96.3 119.1,95.3 139.0,94.3 158.8,93.3 178.7,93.8 198.5,92.8 218.4,92.3 241.2,91.8" fill="none" stroke="#1414f0" stroke-width="1.7" stroke-opacity="1" stroke-linejoin="round" />
<polyline points="37.2,121.6 54.6,120.6 74.4,119.1 94.3,118.6 114.1,117.6 129.0,116.6 143.9,117.1 158.8,115.1 178.7,117.1 198.5,118.6 218.4,117.1 241.2,117.1" fill="none" stroke="#f01414" stroke-width="1.7" stroke-opacity="1" stroke-linejoin="round" />
</g>
<rect x="37.8" y="14.3" width="203" height="155.1" fill="none" stroke="#6a6a6a" stroke-width="1.1"/>
<line x1="35" y1="39.20" x2="37.8" y2="39.20" stroke="#6a6a6a" stroke-width="1"/>
<text x="14.82" y="44.40" font-size="12.5" font-weight="normal" font-style="normal" fill="#111" textLength="18.10" lengthAdjust="spacingAndGlyphs">1.5</text>
<line x1="35" y1="85.70" x2="37.8" y2="85.70" stroke="#6a6a6a" stroke-width="1"/>
<text x="14.83" y="90.90" font-size="12.5" font-weight="normal" font-style="normal" fill="#111" textLength="18.03" lengthAdjust="spacingAndGlyphs">1.0</text>
<line x1="35" y1="132.20" x2="37.8" y2="132.20" stroke="#6a6a6a" stroke-width="1"/>
<text x="15.29" y="137.40" font-size="12.5" font-weight="normal" font-style="normal" fill="#111" textLength="17.62" lengthAdjust="spacingAndGlyphs">0.5</text>
<line x1="37.80" y1="169.4" x2="37.80" y2="172.2" stroke="#6a6a6a" stroke-width="1"/>
<text x="34.44" y="183.70" font-size="12.5" font-weight="normal" font-style="normal" fill="#111" textLength="7.07" lengthAdjust="spacingAndGlyphs">0</text>
<line x1="86.25" y1="169.4" x2="86.25" y2="172.2" stroke="#6a6a6a" stroke-width="1"/>
<text x="74.88" y="183.70" font-size="12.5" font-weight="normal" font-style="normal" fill="#111" textLength="22.64" lengthAdjust="spacingAndGlyphs">100</text>
<line x1="134.70" y1="169.4" x2="134.70" y2="172.2" stroke="#6a6a6a" stroke-width="1"/>
<text x="123.68" y="183.70" font-size="12.5" font-weight="normal" font-style="normal" fill="#111" textLength="22.28" lengthAdjust="spacingAndGlyphs">200</text>
<line x1="183.15" y1="169.4" x2="183.15" y2="172.2" stroke="#6a6a6a" stroke-width="1"/>
<text x="172.27" y="183.70" font-size="12.5" font-weight="normal" font-style="normal" fill="#111" textLength="22.14" lengthAdjust="spacingAndGlyphs">300</text>
<line x1="231.60" y1="169.4" x2="231.60" y2="172.2" stroke="#6a6a6a" stroke-width="1"/>
<text x="220.99" y="183.70" font-size="12.5" font-weight="normal" font-style="normal" fill="#111" textLength="21.87" lengthAdjust="spacingAndGlyphs">400</text>
<text x="116.99" y="196.50" font-size="12.5" font-weight="normal" font-style="normal" fill="#111" textLength="46.05" lengthAdjust="spacingAndGlyphs">time [s]</text>
<text x="0" y="0" font-size="13.5" fill="#111" transform="translate(8.3,92.8) rotate(-90)" text-anchor="middle">λ</text>
<rect x="259.9" y="14.3" width="50.6" height="155.1" fill="none" stroke="#6a6a6a" stroke-width="1.1"/>
<line x1="257.2" y1="39.20" x2="259.9" y2="39.20" stroke="#6a6a6a" stroke-width="1"/>
<line x1="257.2" y1="85.70" x2="259.9" y2="85.70" stroke="#6a6a6a" stroke-width="1"/>
<line x1="257.2" y1="132.20" x2="259.9" y2="132.20" stroke="#6a6a6a" stroke-width="1"/>
<line x1="259.9" y1="169.4" x2="259.9" y2="172.2" stroke="#6a6a6a" stroke-width="1"/>
<text x="250.46" y="183.60" font-size="12.5" font-weight="normal" font-style="normal" fill="#111" textLength="18.92" lengthAdjust="spacingAndGlyphs">0.0</text>
<line x1="292.5" y1="169.4" x2="292.5" y2="172.2" stroke="#6a6a6a" stroke-width="1"/>
<text x="283.03" y="183.60" font-size="12.5" font-weight="normal" font-style="normal" fill="#111" textLength="18.61" lengthAdjust="spacingAndGlyphs">2.5</text>
<text x="262.75" y="197.10" font-size="12.5" font-weight="normal" font-style="normal" fill="#111" textLength="43.95" lengthAdjust="spacingAndGlyphs">Density</text>
<polyline points="259.9,92.3 279.0,92.3 279.0,99.5 269.5,99.5 269.5,104.9 288.4,104.9 288.4,111.3 298.6,111.3 298.6,118.0 308.1,118.0 308.1,124.4 269.5,124.4 269.5,155.5 259.9,155.5" fill="none" stroke="#ff1010" stroke-width="1.8" stroke-opacity="1" stroke-linejoin="round" />
<polyline points="259.9,30.2 267.1,30.2 267.1,40.1 259.9,40.1 259.9,59.8 267.1,59.8 267.1,69.8 281.3,69.8 281.3,80.0 267.1,80.0 267.1,90.0 281.3,90.0 281.3,109.7 267.1,109.7 267.1,120.3 288.4,120.3 288.4,130.3 259.9,130.3" fill="none" stroke="#1010ff" stroke-width="1.8" stroke-opacity="1" stroke-linejoin="round" />
<rect x="314.8" y="61.4" width="67.4" height="56.9" rx="2.5" fill="#fff" stroke="#dedede" stroke-width="1"/>
<rect x="319.3" y="66.1" width="57.3" height="20.6" fill="#fff" stroke="#ff0000" stroke-width="3"/>
<rect x="319.3" y="93.4" width="58" height="19.6" fill="#fff" stroke="#0000ff" stroke-width="3"/>
<text x="324.01" y="80.70" font-size="12.2" font-weight="normal" font-style="normal" fill="#111" textLength="47.54" lengthAdjust="spacingAndGlyphs">HC ses1</text>
<text x="324.05" y="108.10" font-size="12.2" font-weight="normal" font-style="normal" fill="#111" textLength="43.34" lengthAdjust="spacingAndGlyphs">PD OFF</text>
<text x="372.88" y="17.20" font-size="23" font-weight="bold" font-style="normal" fill="#000" textLength="16.21" lengthAdjust="spacingAndGlyphs">b</text>
<text x="489.01" y="10.80" font-size="12.0" font-weight="normal" font-style="normal" fill="#111" textLength="41.23" lengthAdjust="spacingAndGlyphs">MTC rh</text>
<clipPath id="cb"><rect x="408.5" y="15" width="203" height="155.9"/></clipPath><g clip-path="url(#cb)">
<polyline points="408.5,92.4 413.3,86.5 418.1,83.1 422.9,91.5 427.7,93.5 432.5,97.6 437.3,100.2 442.1,100.7 446.9,91.1 451.7,90.5 456.5,91.3 461.3,92.4 466.1,89.3 470.9,86.7 475.7,91.0 480.5,84.9 485.3,90.2 490.1,91.1 494.9,88.9 499.7,82.2 504.5,85.0 509.3,84.7 514.1,80.4 518.9,79.8 523.7,77.2 528.5,75.5 533.3,77.3 538.1,77.1 542.9,75.8 547.7,78.6 552.5,74.2 557.3,85.0 562.1,89.1 566.9,83.0 571.7,82.2 576.5,85.7 581.3,84.5 586.1,80.6 590.9,84.1 595.7,81.5 600.5,83.0 605.3,84.1 610.1,84.8" fill="none" stroke="rgb(0,0,255)" stroke-width="1.15" stroke-opacity="0.21" stroke-linejoin="round" />
<polyline points="408.5,90.4 413.3,96.4 418.1,98.2 422.9,95.5 427.7,100.8 432.5,106.4 437.3,102.2 442.1,101.2 446.9,101.1 451.7,99.8 456.5,103.2 461.3,90.4 466.1,95.9 470.9,98.1 475.7,103.6 480.5,104.0 485.3,96.5 490.1,96.7 494.9,94.6 499.7,97.2 504.5,90.1 509.3,91.1 514.1,97.6 518.9,94.5 523.7,96.7 528.5,94.5 533.3,94.7 538.1,94.3 542.9,94.5 547.7,98.8 552.5,104.5 557.3,99.2 562.1,99.4 566.9,97.9 571.7,99.7 576.5,107.3 581.3,110.3 586.1,102.0 590.9,104.2 595.7,104.3 600.5,108.7 605.3,108.4 610.1,107.5" fill="none" stroke="rgb(0,0,255)" stroke-width="1.15" stroke-opacity="0.21" stroke-linejoin="round" />
<polyline points="408.5,102.1 413.3,102.2 418.1,104.2 422.9,105.5 427.7,104.5 432.5,102.5 437.3,102.6 442.1,96.0 446.9,96.2 451.7,96.5 456.5,99.5 461.3,95.9 466.1,100.2 470.9,105.6 475.7,107.6 480.5,103.5 485.3,106.4 490.1,100.1 494.9,99.8 499.7,104.7 504.5,104.0 509.3,96.4 514.1,99.6 518.9,103.7 523.7,100.5 528.5,95.2 533.3,92.0 538.1,94.1 542.9,94.0 547.7,93.3 552.5,89.9 557.3,83.7 562.1,86.7 566.9,84.1 571.7,87.8 576.5,87.3 581.3,92.2 586.1,95.4 590.9,93.8 595.7,97.0 600.5,93.3 605.3,95.4 610.1,94.7" fill="none" stroke="rgb(0,0,255)" stroke-width="1.15" stroke-opacity="0.21" stroke-linejoin="round" />
<polyline points="408.5,106.4 413.3,107.8 418.1,107.1 422.9,102.8 427.7,91.3 432.5,99.4 437.3,99.9 442.1,102.1 446.9,106.8 451.7,105.6 456.5,109.4 461.3,109.1 466.1,103.7 470.9,112.4 475.7,110.2 480.5,107.7 485.3,111.3 490.1,108.2 494.9,106.5 499.7,108.0 504.5,102.9 509.3,108.9 514.1,105.9 518.9,107.0 523.7,111.2 528.5,110.9 533.3,111.4 538.1,107.1 542.9,113.0 547.7,112.4 552.5,113.0 557.3,105.4 562.1,110.1 566.9,105.2 571.7,112.5 576.5,109.9 581.3,109.8 586.1,107.6 590.9,110.3 595.7,117.3 600.5,121.1 605.3,112.8 610.1,110.7" fill="none" stroke="rgb(0,0,255)" stroke-width="1.15" stroke-opacity="0.21" stroke-linejoin="round" />
<polyline points="408.5,114.4 413.3,110.5 418.1,113.1 422.9,115.2 427.7,118.4 432.5,112.7 437.3,105.4 442.1,110.0 446.9,109.2 451.7,106.1 456.5,99.8 461.3,110.6 466.1,110.2 470.9,108.1 475.7,113.9 480.5,111.8 485.3,110.9 490.1,108.4 494.9,111.0 499.7,109.5 504.5,112.0 509.3,109.6 514.1,109.4 518.9,111.0 523.7,115.9 528.5,109.1 533.3,105.7 538.1,103.8 542.9,107.7 547.7,109.6 552.5,104.1 557.3,103.1 562.1,107.8 566.9,108.3 571.7,108.4 576.5,109.7 581.3,113.2 586.1,108.4 590.9,106.9 595.7,108.5 600.5,114.5 605.3,115.7 610.1,114.7" fill="none" stroke="rgb(0,0,255)" stroke-width="1.15" stroke-opacity="0.21" stroke-linejoin="round" />
<polyline points="408.5,108.8 413.3,111.6 418.1,107.9 422.9,108.8 427.7,113.0 432.5,124.4 437.3,126.8 442.1,130.0 446.9,127.0 451.7,122.8 456.5,115.3 461.3,115.0 466.1,119.2 470.9,108.6 475.7,108.4 480.5,110.5 485.3,112.0 490.1,117.6 494.9,114.0 499.7,112.2 504.5,105.9 509.3,102.9 514.1,101.5 518.9,98.8 523.7,102.8 528.5,106.6 533.3,107.9 538.1,113.6 542.9,113.7 547.7,114.4 552.5,111.0 557.3,111.1 562.1,118.6 566.9,116.7 571.7,109.7 576.5,117.2 581.3,118.7 586.1,116.7 590.9,120.5 595.7,120.3 600.5,117.8 605.3,121.2 610.1,117.5" fill="none" stroke="rgb(0,0,255)" stroke-width="1.15" stroke-opacity="0.21" stroke-linejoin="round" />
<polyline points="408.5,115.6 413.3,120.6 418.1,119.9 422.9,115.8 427.7,116.9 432.5,115.7 437.3,114.0 442.1,115.7 446.9,112.9 451.7,112.7 456.5,117.3 461.3,115.7 466.1,113.2 470.9,111.5 475.7,115.2 480.5,114.2 485.3,110.3 490.1,111.2 494.9,108.5 499.7,106.1 504.5,108.8 509.3,108.5 514.1,111.6 518.9,109.3 523.7,111.5 528.5,114.8 533.3,115.6 538.1,116.3 542.9,115.3 547.7,114.3 552.5,119.1 557.3,121.1 562.1,119.1 566.9,117.1 571.7,117.0 576.5,108.0 581.3,106.3 586.1,109.0 590.9,108.4 595.7,105.8 600.5,107.1 605.3,115.5 610.1,115.6" fill="none" stroke="rgb(0,0,255)" stroke-width="1.15" stroke-opacity="0.21" stroke-linejoin="round" />
<polyline points="408.5,120.2 413.3,111.8 418.1,121.0 422.9,114.8 427.7,116.8 432.5,113.9 437.3,116.6 442.1,116.9 446.9,113.3 451.7,114.6 456.5,111.9 461.3,114.2 466.1,117.4 470.9,119.1 475.7,121.6 480.5,122.0 485.3,116.4 490.1,122.2 494.9,128.6 499.7,127.1 504.5,119.2 509.3,115.6 514.1,111.7 518.9,109.0 523.7,114.7 528.5,115.8 533.3,127.7 538.1,128.9 542.9,125.0 547.7,130.5 552.5,136.8 557.3,138.8 562.1,134.3 566.9,127.0 571.7,115.7 576.5,111.5 581.3,119.9 586.1,129.7 590.9,127.5 595.7,122.2 600.5,128.7 605.3,129.5 610.1,129.7" fill="none" stroke="rgb(0,0,255)" stroke-width="1.15" stroke-opacity="0.21" stroke-linejoin="round" />
<polyline points="408.5,123.0 413.3,123.5 418.1,121.5 422.9,118.1 427.7,118.8 432.5,117.0 437.3,111.3 442.1,117.3 446.9,122.1 451.7,120.4 456.5,114.4 461.3,115.6 466.1,113.3 470.9,116.3 475.7,114.5 480.5,118.4 485.3,116.9 490.1,116.7 494.9,116.5 499.7,113.0 504.5,111.3 509.3,115.7 514.1,114.0 518.9,121.7 523.7,118.3 528.5,109.6 533.3,110.4 538.1,111.2 542.9,113.3 547.7,112.3 552.5,115.9 557.3,114.9 562.1,117.3 566.9,119.7 571.7,119.7 576.5,120.3 581.3,126.6 586.1,118.3 590.9,118.5 595.7,125.0 600.5,120.5 605.3,120.8 610.1,120.2" fill="none" stroke="rgb(0,0,255)" stroke-width="1.15" stroke-opacity="0.21" stroke-linejoin="round" />
<polyline points="408.5,121.4 413.3,125.5 418.1,136.9 422.9,134.4 427.7,131.1 432.5,125.5 437.3,128.1 442.1,128.2 446.9,125.6 451.7,126.4 456.5,126.7 461.3,124.9 466.1,128.5 470.9,121.1 475.7,125.2 480.5,124.6 485.3,125.5 490.1,127.7 494.9,124.5 499.7,120.1 504.5,114.9 509.3,114.3 514.1,117.9 518.9,115.5 523.7,122.8 528.5,122.5 533.3,120.4 538.1,118.6 542.9,123.9 547.7,129.5 552.5,121.3 557.3,123.5 562.1,129.7 566.9,132.9 571.7,130.5 576.5,123.9 581.3,123.5 586.1,118.4 590.9,118.2 595.7,117.1 600.5,114.2 605.3,117.4 610.1,117.1" fill="none" stroke="rgb(0,0,255)" stroke-width="1.15" stroke-opacity="0.21" stroke-linejoin="round" />
<polyline points="408.5,130.9 413.3,132.4 418.1,129.1 422.9,131.7 427.7,130.6 432.5,132.8 437.3,132.0 442.1,133.0 446.9,128.1 451.7,127.8 456.5,127.6 461.3,122.0 466.1,133.4 470.9,136.1 475.7,143.9 480.5,140.5 485.3,136.3 490.1,132.4 494.9,130.6 499.7,133.2 504.5,126.1 509.3,125.5 514.1,127.1 518.9,131.3 523.7,129.3 528.5,130.9 533.3,132.0 538.1,130.5 542.9,129.4 547.7,132.1 552.5,127.0 557.3,130.9 562.1,134.3 566.9,132.1 571.7,130.9 576.5,130.2 581.3,131.4 586.1,130.7 590.9,132.3 595.7,137.3 600.5,132.9 605.3,135.5 610.1,134.9" fill="none" stroke="rgb(0,0,255)" stroke-width="1.15" stroke-opacity="0.21" stroke-linejoin="round" />
<polyline points="408.5,127.8 413.3,128.6 418.1,118.5 422.9,127.0 427.7,131.1 432.5,130.9 437.3,125.8 442.1,128.1 446.9,134.7 451.7,129.5 456.5,133.7 461.3,134.2 466.1,130.2 470.9,133.3 475.7,134.8 480.5,132.3 485.3,133.0 490.1,131.7 494.9,135.5 499.7,135.3 504.5,138.9 509.3,143.6 514.1,134.1 518.9,131.9 523.7,128.3 528.5,133.0 533.3,132.9 538.1,133.6 542.9,138.9 547.7,135.3 552.5,137.5 557.3,137.1 562.1,142.1 566.9,136.0 571.7,132.1 576.5,130.6 581.3,134.6 586.1,136.2 590.9,130.5 595.7,132.0 600.5,131.0 605.3,130.7 610.1,135.5" fill="none" stroke="rgb(0,0,255)" stroke-width="1.15" stroke-opacity="0.21" stroke-linejoin="round" />
<polyline points="408.5,127.3 413.3,135.9 418.1,135.0 422.9,135.3 427.7,140.9 432.5,138.4 437.3,135.8 442.1,135.5 446.9,138.2 451.7,135.9 456.5,131.8 461.3,131.6 466.1,126.3 470.9,125.2 475.7,124.5 480.5,121.9 485.3,127.0 490.1,130.4 494.9,129.5 499.7,128.7 504.5,124.7 509.3,122.8 514.1,124.7 518.9,126.0 523.7,128.7 528.5,131.1 533.3,133.3 538.1,130.3 542.9,132.7 547.7,134.1 552.5,133.5 557.3,135.3 562.1,135.7 566.9,142.8 571.7,139.4 576.5,139.1 581.3,137.1 586.1,135.0 590.9,141.0 595.7,130.9 600.5,130.7 605.3,130.5 610.1,137.1" fill="none" stroke="rgb(0,0,255)" stroke-width="1.15" stroke-opacity="0.21" stroke-linejoin="round" />
<polyline points="408.5,134.1 413.3,133.1 418.1,135.3 422.9,134.6 427.7,129.9 432.5,132.6 437.3,136.9 442.1,131.4 446.9,131.3 451.7,133.0 456.5,124.5 461.3,126.3 466.1,129.0 470.9,129.4 475.7,132.4 480.5,132.2 485.3,132.4 490.1,135.7 494.9,136.7 499.7,135.3 504.5,133.9 509.3,132.0 514.1,129.7 518.9,130.0 523.7,129.3 528.5,132.2 533.3,134.1 538.1,130.4 542.9,139.4 547.7,137.2 552.5,124.4 557.3,134.3 562.1,128.8 566.9,137.4 571.7,135.8 576.5,129.5 581.3,125.2 586.1,131.3 590.9,137.7 595.7,143.2 600.5,139.0 605.3,140.1 610.1,139.4" fill="none" stroke="rgb(0,0,255)" stroke-width="1.15" stroke-opacity="0.21" stroke-linejoin="round" />
<polyline points="408.5,139.6 413.3,138.3 418.1,136.9 422.9,137.3 427.7,143.6 432.5,137.9 437.3,148.1 442.1,142.2 446.9,144.0 451.7,144.0 456.5,145.2 461.3,145.5 466.1,144.6 470.9,144.9 475.7,147.9 480.5,143.5 485.3,145.0 490.1,139.6 494.9,140.5 499.7,143.2 504.5,141.3 509.3,138.3 514.1,142.3 518.9,143.1 523.7,137.9 528.5,142.2 533.3,145.1 538.1,143.8 542.9,147.6 547.7,154.9 552.5,157.9 557.3,153.1 562.1,148.4 566.9,145.0 571.7,143.1 576.5,147.2 581.3,143.8 586.1,139.5 590.9,142.5 595.7,139.3 600.5,141.2 605.3,140.9 610.1,140.0" fill="none" stroke="rgb(0,0,255)" stroke-width="1.15" stroke-opacity="0.21" stroke-linejoin="round" />
<polyline points="408.5,153.8 413.3,146.0 418.1,149.0 422.9,148.4 427.7,149.5 432.5,146.6 437.3,144.4 442.1,144.3 446.9,138.8 451.7,138.9 456.5,141.7 461.3,153.7 466.1,152.8 470.9,152.1 475.7,153.9 480.5,155.2 485.3,150.5 490.1,145.0 494.9,137.4 499.7,134.4 504.5,139.4 509.3,139.5 514.1,146.0 518.9,142.8 523.7,141.7 528.5,144.7 533.3,145.1 538.1,146.0 542.9,148.2 547.7,142.1 552.5,130.3 557.3,130.1 562.1,129.1 566.9,131.8 571.7,136.0 576.5,129.1 581.3,134.0 586.1,134.7 590.9,137.3 595.7,136.5 600.5,138.5 605.3,137.4 610.1,144.0" fill="none" stroke="rgb(0,0,255)" stroke-width="1.15" stroke-opacity="0.21" stroke-linejoin="round" />
<polyline points="408.5,149.5 413.3,144.5 418.1,149.0 422.9,151.2 427.7,145.8 432.5,145.0 437.3,142.1 442.1,151.3 446.9,150.1 451.7,154.2 456.5,157.8 461.3,154.3 466.1,148.9 470.9,154.0 475.7,156.7 480.5,156.9 485.3,155.5 490.1,158.6 494.9,148.5 499.7,146.5 504.5,148.2 509.3,150.1 514.1,141.7 518.9,135.4 523.7,140.0 528.5,140.7 533.3,138.1 538.1,144.5 542.9,147.5 547.7,143.0 552.5,146.7 557.3,148.6 562.1,153.3 566.9,155.0 571.7,151.2 576.5,153.5 581.3,157.0 586.1,157.4 590.9,149.3 595.7,148.6 600.5,150.6 605.3,149.7 610.1,148.0" fill="none" stroke="rgb(0,0,255)" stroke-width="1.15" stroke-opacity="0.21" stroke-linejoin="round" />
<polyline points="408.5,94.8 413.3,102.1 418.1,99.4 422.9,99.4 427.7,95.1 432.5,100.6 437.3,95.2 442.1,97.2 446.9,103.7 451.7,96.5 456.5,98.4 461.3,96.2 466.1,96.7 470.9,92.1 475.7,88.4 480.5,85.5 485.3,84.9 490.1,93.7 494.9,100.8 499.7,98.8 504.5,101.9 509.3,98.7 514.1,97.3 518.9,102.6 523.7,105.2 528.5,107.6 533.3,108.5 538.1,106.5 542.9,101.4 547.7,94.8 552.5,98.8 557.3,100.4 562.1,93.1 566.9,90.1 571.7,90.4 576.5,100.9 581.3,103.8 586.1,101.4 590.9,102.5 595.7,93.0 600.5,93.2 605.3,92.6 610.1,97.7" fill="none" stroke="rgb(255,0,0)" stroke-width="1.15" stroke-opacity="0.19" stroke-linejoin="round" />
<polyline points="408.5,106.9 413.3,108.1 418.1,108.9 422.9,108.0 427.7,104.7 432.5,102.8 437.3,98.1 442.1,103.9 446.9,102.1 451.7,100.6 456.5,94.0 461.3,96.0 466.1,95.4 470.9,99.5 475.7,97.7 480.5,96.4 485.3,99.4 490.1,101.0 494.9,100.6 499.7,97.8 504.5,102.5 509.3,98.0 514.1,99.3 518.9,91.4 523.7,86.9 528.5,90.9 533.3,94.9 538.1,85.6 542.9,85.6 547.7,85.9 552.5,90.1 557.3,92.1 562.1,89.9 566.9,88.9 571.7,93.9 576.5,89.5 581.3,89.8 586.1,95.0 590.9,91.3 595.7,93.0 600.5,90.5 605.3,93.9 610.1,92.8" fill="none" stroke="rgb(255,0,0)" stroke-width="1.15" stroke-opacity="0.19" stroke-linejoin="round" />
<polyline points="408.5,114.1 413.3,110.9 418.1,115.0 422.9,112.4 427.7,119.8 432.5,116.9 437.3,111.8 442.1,108.8 446.9,103.9 451.7,108.0 456.5,102.0 461.3,97.1 466.1,103.2 470.9,106.5 475.7,108.3 480.5,107.8 485.3,106.6 490.1,115.0 494.9,110.9 499.7,110.6 504.5,113.1 509.3,108.1 514.1,108.7 518.9,104.1 523.7,102.5 528.5,104.3 533.3,100.5 538.1,98.8 542.9,102.1 547.7,108.5 552.5,109.8 557.3,106.7 562.1,107.3 566.9,100.7 571.7,100.9 576.5,101.2 581.3,100.8 586.1,104.9 590.9,105.5 595.7,107.8 600.5,115.6 605.3,119.6 610.1,113.9" fill="none" stroke="rgb(255,0,0)" stroke-width="1.15" stroke-opacity="0.19" stroke-linejoin="round" />
<polyline points="408.5,112.2 413.3,112.1 418.1,117.5 422.9,118.1 427.7,113.1 432.5,111.9 437.3,113.5 442.1,106.5 446.9,107.4 451.7,109.3 456.5,104.8 461.3,112.8 466.1,109.9 470.9,114.3 475.7,116.4 480.5,117.6 485.3,115.3 490.1,113.7 494.9,111.5 499.7,110.3 504.5,104.5 509.3,98.9 514.1,98.4 518.9,97.8 523.7,101.9 528.5,108.0 533.3,106.0 538.1,106.6 542.9,103.9 547.7,112.4 552.5,101.1 557.3,108.0 562.1,108.2 566.9,104.6 571.7,111.2 576.5,113.0 581.3,120.4 586.1,123.7 590.9,128.3 595.7,123.8 600.5,119.5 605.3,118.6 610.1,111.5" fill="none" stroke="rgb(255,0,0)" stroke-width="1.15" stroke-opacity="0.19" stroke-linejoin="round" />
<polyline points="408.5,106.2 413.3,107.8 418.1,109.8 422.9,111.5 427.7,113.5 432.5,108.8 437.3,108.9 442.1,111.0 446.9,112.2 451.7,110.4 456.5,112.3 461.3,111.3 466.1,111.7 470.9,107.2 475.7,104.3 480.5,111.0 485.3,111.9 490.1,109.5 494.9,111.6 499.7,108.9 504.5,108.4 509.3,107.1 514.1,108.4 518.9,108.1 523.7,107.0 528.5,113.2 533.3,116.0 538.1,118.6 542.9,111.1 547.7,110.1 552.5,109.1 557.3,109.0 562.1,111.2 566.9,113.8 571.7,110.2 576.5,111.7 581.3,106.0 586.1,106.4 590.9,107.0 595.7,108.6 600.5,109.3 605.3,109.4 610.1,104.3" fill="none" stroke="rgb(255,0,0)" stroke-width="1.15" stroke-opacity="0.19" stroke-linejoin="round" />
<polyline points="408.5,103.4 413.3,111.1 418.1,111.4 422.9,109.9 427.7,115.1 432.5,118.1 437.3,119.8 442.1,128.8 446.9,123.7 451.7,122.5 456.5,121.7 461.3,120.4 466.1,118.7 470.9,109.2 475.7,110.2 480.5,108.5 485.3,112.5 490.1,112.1 494.9,114.5 499.7,115.7 504.5,119.6 509.3,122.4 514.1,119.4 518.9,116.0 523.7,114.4 528.5,117.7 533.3,116.3 538.1,126.6 542.9,120.8 547.7,120.1 552.5,118.4 557.3,113.5 562.1,116.0 566.9,112.4 571.7,115.2 576.5,113.5 581.3,115.9 586.1,114.9 590.9,109.6 595.7,113.9 600.5,117.0 605.3,118.3 610.1,116.8" fill="none" stroke="rgb(255,0,0)" stroke-width="1.15" stroke-opacity="0.19" stroke-linejoin="round" />
<polyline points="408.5,106.9 413.3,112.0 418.1,121.1 422.9,123.4 427.7,128.4 432.5,128.7 437.3,126.9 442.1,129.0 446.9,129.6 451.7,134.2 456.5,130.6 461.3,131.1 466.1,125.1 470.9,120.5 475.7,123.6 480.5,124.3 485.3,123.4 490.1,120.2 494.9,126.2 499.7,125.2 504.5,117.8 509.3,118.8 514.1,118.5 518.9,119.0 523.7,123.5 528.5,119.6 533.3,118.9 538.1,118.8 542.9,116.7 547.7,114.8 552.5,122.7 557.3,120.6 562.1,122.7 566.9,121.7 571.7,124.0 576.5,126.3 581.3,121.7 586.1,121.5 590.9,122.3 595.7,122.9 600.5,122.2 605.3,121.9 610.1,129.8" fill="none" stroke="rgb(255,0,0)" stroke-width="1.15" stroke-opacity="0.19" stroke-linejoin="round" />
<polyline points="408.5,130.3 413.3,129.9 418.1,125.7 422.9,120.0 427.7,124.6 432.5,116.8 437.3,118.0 442.1,117.3 446.9,120.9 451.7,123.9 456.5,118.2 461.3,120.2 466.1,121.3 470.9,117.2 475.7,111.7 480.5,120.2 485.3,121.6 490.1,122.0 494.9,115.0 499.7,107.0 504.5,110.7 509.3,111.9 514.1,110.8 518.9,108.9 523.7,113.2 528.5,111.8 533.3,116.9 538.1,128.8 542.9,132.8 547.7,129.7 552.5,124.9 557.3,133.3 562.1,138.0 566.9,134.6 571.7,145.2 576.5,137.8 581.3,130.2 586.1,140.1 590.9,133.0 595.7,131.2 600.5,123.4 605.3,121.8 610.1,122.6" fill="none" stroke="rgb(255,0,0)" stroke-width="1.15" stroke-opacity="0.19" stroke-linejoin="round" />
<polyline points="408.5,128.1 413.3,124.6 418.1,124.6 422.9,125.0 427.7,130.5 432.5,128.1 437.3,127.8 442.1,121.3 446.9,122.6 451.7,123.9 456.5,126.8 461.3,124.4 466.1,125.7 470.9,128.5 475.7,122.6 480.5,117.4 485.3,121.1 490.1,126.0 494.9,122.3 499.7,126.2 504.5,116.6 509.3,119.3 514.1,117.7 518.9,124.2 523.7,125.0 528.5,121.6 533.3,121.3 538.1,124.4 542.9,116.4 547.7,116.1 552.5,119.3 557.3,123.1 562.1,124.9 566.9,120.6 571.7,124.7 576.5,125.1 581.3,128.3 586.1,123.6 590.9,124.9 595.7,122.4 600.5,121.4 605.3,124.6 610.1,122.7" fill="none" stroke="rgb(255,0,0)" stroke-width="1.15" stroke-opacity="0.19" stroke-linejoin="round" />
<polyline points="408.5,126.8 413.3,132.2 418.1,129.0 422.9,115.1 427.7,119.7 432.5,119.5 437.3,127.3 442.1,126.1 446.9,129.4 451.7,126.6 456.5,127.7 461.3,133.0 466.1,128.0 470.9,129.4 475.7,133.7 480.5,132.8 485.3,136.1 490.1,133.3 494.9,132.9 499.7,133.9 504.5,130.5 509.3,135.6 514.1,130.6 518.9,138.6 523.7,130.4 528.5,129.7 533.3,130.9 538.1,133.8 542.9,130.8 547.7,131.4 552.5,131.9 557.3,127.5 562.1,129.9 566.9,130.9 571.7,129.1 576.5,125.1 581.3,126.9 586.1,127.0 590.9,127.6 595.7,125.3 600.5,120.4 605.3,126.4 610.1,127.8" fill="none" stroke="rgb(255,0,0)" stroke-width="1.15" stroke-opacity="0.19" stroke-linejoin="round" />
<polyline points="408.5,136.7 413.3,134.2 418.1,129.0 422.9,130.3 427.7,130.5 432.5,127.4 437.3,133.3 442.1,136.2 446.9,137.4 451.7,136.7 456.5,135.3 461.3,136.9 466.1,130.1 470.9,133.4 475.7,134.2 480.5,130.3 485.3,128.3 490.1,129.6 494.9,129.1 499.7,127.2 504.5,128.6 509.3,127.4 514.1,131.9 518.9,132.0 523.7,138.0 528.5,140.1 533.3,142.6 538.1,136.1 542.9,137.1 547.7,135.1 552.5,137.9 557.3,137.5 562.1,137.4 566.9,139.4 571.7,134.9 576.5,140.3 581.3,136.4 586.1,126.2 590.9,130.5 595.7,130.8 600.5,136.6 605.3,135.8 610.1,141.2" fill="none" stroke="rgb(255,0,0)" stroke-width="1.15" stroke-opacity="0.19" stroke-linejoin="round" />
<polyline points="408.5,136.7 413.3,139.2 418.1,146.7 422.9,150.3 427.7,154.3 432.5,152.1 437.3,145.9 442.1,146.1 446.9,149.4 451.7,150.6 456.5,147.7 461.3,155.8 466.1,149.9 470.9,146.1 475.7,154.7 480.5,146.7 485.3,151.8 490.1,150.1 494.9,143.2 499.7,149.1 504.5,154.7 509.3,156.0 514.1,157.0 518.9,153.9 523.7,153.0 528.5,152.3 533.3,151.6 538.1,149.9 542.9,151.3 547.7,147.6 552.5,146.1 557.3,149.0 562.1,139.7 566.9,145.0 571.7,141.1 576.5,144.0 581.3,141.7 586.1,139.3 590.9,136.1 595.7,131.3 600.5,136.7 605.3,125.9 610.1,127.4" fill="none" stroke="rgb(255,0,0)" stroke-width="1.15" stroke-opacity="0.19" stroke-linejoin="round" />
<polyline points="408.5,149.2 413.3,153.0 418.1,142.7 422.9,137.2 427.7,138.8 432.5,137.3 437.3,134.1 442.1,136.0 446.9,139.3 451.7,140.4 456.5,138.2 461.3,139.4 466.1,144.8 470.9,142.0 475.7,148.5 480.5,150.2 485.3,144.4 490.1,143.5 494.9,142.8 499.7,142.7 504.5,139.3 509.3,140.5 514.1,148.2 518.9,146.4 523.7,156.8 528.5,161.2 533.3,151.8 538.1,146.4 542.9,147.5 547.7,147.0 552.5,146.1 557.3,142.1 562.1,145.2 566.9,148.1 571.7,149.4 576.5,147.8 581.3,146.0 586.1,147.0 590.9,143.6 595.7,147.4 600.5,146.9 605.3,148.8 610.1,151.3" fill="none" stroke="rgb(255,0,0)" stroke-width="1.15" stroke-opacity="0.19" stroke-linejoin="round" />
<polyline points="408.5,142.3 413.3,145.0 418.1,149.9 422.9,149.6 427.7,153.5 432.5,150.0 437.3,146.3 442.1,142.7 446.9,148.4 451.7,149.1 456.5,141.5 461.3,144.0 466.1,140.0 470.9,135.7 475.7,144.2 480.5,140.3 485.3,139.1 490.1,137.7 494.9,133.3 499.7,134.8 504.5,137.6 509.3,137.6 514.1,141.4 518.9,141.0 523.7,150.9 528.5,143.4 533.3,146.8 538.1,145.0 542.9,144.6 547.7,145.1 552.5,145.5 557.3,145.9 562.1,153.2 566.9,154.5 571.7,148.4 576.5,152.6 581.3,156.1 586.1,145.9 590.9,141.6 595.7,136.9 600.5,139.6 605.3,140.5 610.1,139.3" fill="none" stroke="rgb(255,0,0)" stroke-width="1.15" stroke-opacity="0.19" stroke-linejoin="round" />
<polyline points="408.5,151.8 413.3,152.5 418.1,158.0 422.9,159.7 427.7,163.8 432.5,156.0 437.3,157.0 442.1,156.9 446.9,155.2 451.7,154.8 456.5,152.7 461.3,155.1 466.1,160.2 470.9,152.6 475.7,155.3 480.5,156.6 485.3,158.8 490.1,159.6 494.9,158.2 499.7,154.5 504.5,158.0 509.3,156.0 514.1,157.8 518.9,152.6 523.7,157.1 528.5,155.9 533.3,152.8 538.1,157.7 542.9,156.3 547.7,155.1 552.5,157.5 557.3,157.3 562.1,152.9 566.9,152.1 571.7,153.8 576.5,154.3 581.3,152.5 586.1,148.1 590.9,146.4 595.7,145.2 600.5,141.4 605.3,149.3 610.1,155.1" fill="none" stroke="rgb(255,0,0)" stroke-width="1.15" stroke-opacity="0.19" stroke-linejoin="round" />
<polyline points="408.5,169.3 413.3,164.4 418.1,170.1 422.9,167.8 427.7,163.5 432.5,166.7 437.3,167.0 442.1,166.0 446.9,162.2 451.7,166.1 456.5,163.5 461.3,160.4 466.1,159.7 470.9,159.0 475.7,155.3 480.5,155.4 485.3,156.3 490.1,157.9 494.9,156.2 499.7,157.7 504.5,156.0 509.3,156.4 514.1,153.6 518.9,157.1 523.7,157.3 528.5,156.6 533.3,155.9 538.1,153.2 542.9,153.3 547.7,151.9 552.5,147.6 557.3,147.6 562.1,153.3 566.9,158.8 571.7,156.8 576.5,158.4 581.3,157.7 586.1,158.5 590.9,154.7 595.7,152.1 600.5,157.0 605.3,156.6 610.1,158.1" fill="none" stroke="rgb(255,0,0)" stroke-width="1.15" stroke-opacity="0.19" stroke-linejoin="round" />
<polyline points="408.5,167.9 413.3,164.7 418.1,164.5 422.9,162.6 427.7,155.0 432.5,152.5 437.3,151.2 442.1,154.7 446.9,159.7 451.7,156.4 456.5,158.4 461.3,158.9 466.1,160.5 470.9,160.3 475.7,153.3 480.5,155.9 485.3,157.9 490.1,157.9 494.9,157.7 499.7,161.9 504.5,166.9 509.3,167.3 514.1,166.4 518.9,167.5 523.7,168.9 528.5,169.8 533.3,168.9 538.1,167.4 542.9,170.7 547.7,170.0 552.5,166.8 557.3,165.7 562.1,168.5 566.9,167.7 571.7,166.1 576.5,162.4 581.3,166.7 586.1,163.1 590.9,163.8 595.7,162.3 600.5,159.6 605.3,162.2 610.1,164.0" fill="none" stroke="rgb(255,0,0)" stroke-width="1.15" stroke-opacity="0.19" stroke-linejoin="round" />
<polyline points="408.1,65.2 423.4,66.7 441.8,68.2 457.1,69.8 475.5,74.4 484.7,71.3 497.0,68.2 512.3,66.7 527.6,63.6 536.8,65.8 546.0,68.2 564.4,72.8 576.7,74.4 588.9,77.4 601.2,72.8 611.0,66.7" fill="none" stroke="rgb(0,0,255)" stroke-width="1.15" stroke-opacity="0.21" stroke-linejoin="round" />
<polyline points="408.1,59.0 414.2,52.9 428.0,49.9 435.7,52.9 444.9,56.0 455.6,60.6 466.3,69.8 475.5,65.2 484.7,58.4 497.0,60.6 509.2,62.1 515.4,57.5 527.6,40.7 538.4,22.3 549.1,23.8 555.2,28.4 562.9,40.7 572.1,49.9 581.3,46.8 588.9,40.7 596.6,33.0 604.3,31.5 611.0,29.9" fill="none" stroke="rgb(255,0,0)" stroke-width="1.15" stroke-opacity="0.19" stroke-linejoin="round" />
<polyline points="408.1,120.4 420.3,119.4 435.7,117.9 451.0,117.3 466.3,117.3 481.6,117.9 497.0,119.7 509.2,117.9 518.4,116.7 530.7,117.3 543.0,117.9 553.7,117.3 564.4,117.3 576.7,118.2 588.9,118.8 599.7,117.9 611.0,117.3" fill="none" stroke="#1414f0" stroke-width="1.7" stroke-opacity="1" stroke-linejoin="round" />
<polyline points="408.1,128.0 420.3,125.9 432.6,123.4 444.9,125.3 457.1,126.5 469.4,124.3 481.6,122.8 492.4,124.0 503.1,126.5 515.4,124.0 527.6,121.9 543.0,118.8 555.2,121.0 564.4,122.8 573.6,121.0 582.8,119.7 595.1,121.0 611.0,120.4" fill="none" stroke="#f01414" stroke-width="1.7" stroke-opacity="1" stroke-linejoin="round" />
</g>
<rect x="408.5" y="15" width="203" height="155.9" fill="none" stroke="#6a6a6a" stroke-width="1.1"/>
<line x1="405.7" y1="46.00" x2="408.5" y2="46.00" stroke="#6a6a6a" stroke-width="1"/>
<text x="384.99" y="51.20" font-size="12.5" font-weight="normal" font-style="normal" fill="#111" textLength="18.75" lengthAdjust="spacingAndGlyphs">1.5</text>
<line x1="405.7" y1="95.60" x2="408.5" y2="95.60" stroke="#6a6a6a" stroke-width="1"/>
<text x="384.99" y="100.80" font-size="12.5" font-weight="normal" font-style="normal" fill="#111" textLength="18.68" lengthAdjust="spacingAndGlyphs">1.0</text>
<line x1="405.7" y1="145.20" x2="408.5" y2="145.20" stroke="#6a6a6a" stroke-width="1"/>
<text x="385.47" y="150.40" font-size="12.5" font-weight="normal" font-style="normal" fill="#111" textLength="18.25" lengthAdjust="spacingAndGlyphs">0.5</text>
<line x1="408.50" y1="170.9" x2="408.50" y2="173.7" stroke="#6a6a6a" stroke-width="1"/>
<text x="405.24" y="184.90" font-size="12.5" font-weight="normal" font-style="normal" fill="#111" textLength="7.07" lengthAdjust="spacingAndGlyphs">0</text>
<line x1="456.50" y1="170.9" x2="456.50" y2="173.7" stroke="#6a6a6a" stroke-width="1"/>
<text x="445.29" y="184.90" font-size="12.5" font-weight="normal" font-style="normal" fill="#111" textLength="22.53" lengthAdjust="spacingAndGlyphs">100</text>
<line x1="504.50" y1="170.9" x2="504.50" y2="173.7" stroke="#6a6a6a" stroke-width="1"/>
<text x="493.64" y="184.90" font-size="12.5" font-weight="normal" font-style="normal" fill="#111" textLength="22.18" lengthAdjust="spacingAndGlyphs">200</text>
<line x1="552.50" y1="170.9" x2="552.50" y2="173.7" stroke="#6a6a6a" stroke-width="1"/>
<text x="541.77" y="184.90" font-size="12.5" font-weight="normal" font-style="normal" fill="#111" textLength="22.04" lengthAdjust="spacingAndGlyphs">300</text>
<line x1="600.50" y1="170.9" x2="600.50" y2="173.7" stroke="#6a6a6a" stroke-width="1"/>
<text x="590.04" y="184.90" font-size="12.5" font-weight="normal" font-style="normal" fill="#111" textLength="21.76" lengthAdjust="spacingAndGlyphs">400</text>
<text x="487.09" y="197.80" font-size="12.5" font-weight="normal" font-style="normal" fill="#111" textLength="46.05" lengthAdjust="spacingAndGlyphs">time [s]</text>
<rect x="630.5" y="15" width="50.6" height="155.9" fill="none" stroke="#6a6a6a" stroke-width="1.1"/>
<line x1="627.8" y1="46.00" x2="630.5" y2="46.00" stroke="#6a6a6a" stroke-width="1"/>
<line x1="627.8" y1="95.60" x2="630.5" y2="95.60" stroke="#6a6a6a" stroke-width="1"/>
<line x1="627.8" y1="145.20" x2="630.5" y2="145.20" stroke="#6a6a6a" stroke-width="1"/>
<line x1="630.5" y1="170.9" x2="630.5" y2="173.7" stroke="#6a6a6a" stroke-width="1"/>
<text x="620.75" y="184.90" font-size="12.5" font-weight="normal" font-style="normal" fill="#111" textLength="19.24" lengthAdjust="spacingAndGlyphs">0.0</text>
<line x1="670.4" y1="170.9" x2="670.4" y2="173.7" stroke="#6a6a6a" stroke-width="1"/>
<text x="660.80" y="184.90" font-size="12.5" font-weight="normal" font-style="normal" fill="#111" textLength="19.46" lengthAdjust="spacingAndGlyphs">2.5</text>
<text x="632.73" y="197.90" font-size="12.5" font-weight="normal" font-style="normal" fill="#111" textLength="44.46" lengthAdjust="spacingAndGlyphs">Density</text>
<polyline points="630.5,49.1 637.9,49.1 637.9,59.8 630.5,59.8 630.5,81.2 637.9,81.2 637.9,91.9 630.5,91.9 630.5,102.1 659.6,102.1 659.6,117.2 667.3,117.2 667.3,133.4 637.6,133.4 637.6,144.8 659.6,144.8 659.6,155.2 630.5,155.2" fill="none" stroke="#ff1010" stroke-width="1.8" stroke-opacity="1" stroke-linejoin="round" />
<polyline points="630.5,71.0 642.3,71.0 642.3,78.1 630.5,78.1 630.5,85.9 642.3,85.9 642.3,101.3 654.4,101.3 654.4,109.2 666.5,109.2 666.5,116.8 654.4,116.8 654.4,124.8 642.3,124.8 642.3,132.2 678.3,132.2 678.3,139.5 654.4,139.5 654.4,146.9 630.5,146.9" fill="none" stroke="#1010ff" stroke-width="1.8" stroke-opacity="1" stroke-linejoin="round" />
<text x="1.84" y="253.70" font-size="23" font-weight="bold" font-style="normal" fill="#000" textLength="13.42" lengthAdjust="spacingAndGlyphs">c</text>
<text x="85.29" y="249.00" font-size="14.3" font-weight="normal" font-style="normal" fill="#111" textLength="50.78" lengthAdjust="spacingAndGlyphs">PD OFF</text>
<text x="271.86" y="248.80" font-size="14.3" font-weight="normal" font-style="normal" fill="#111" textLength="45.00" lengthAdjust="spacingAndGlyphs">PD ON</text>
<text x="467.63" y="248.80" font-size="14.3" font-weight="normal" font-style="normal" fill="#111" textLength="21.04" lengthAdjust="spacingAndGlyphs">HC</text>
<g transform="translate(110.65,257.50)" fill="none" stroke="#e7e7e7" stroke-width="3" stroke-linecap="round" stroke-linejoin="round" filter="url(#soft)">
<path d="M-3.00,7.80 C-4.17,7.43 -7.67,6.10 -10.00,5.60 C-12.33,5.10 -14.67,4.57 -17.00,4.80 C-19.33,5.03 -21.75,5.88 -24.00,7.00 C-26.25,8.12 -28.23,10.08 -30.50,11.50 C-32.77,12.92 -35.43,13.83 -37.60,15.50 C-39.77,17.17 -41.43,19.50 -43.50,21.50 C-45.57,23.50 -48.17,25.83 -50.00,27.50 C-51.83,29.17 -52.87,29.68 -54.50,31.50 C-56.13,33.32 -58.08,35.38 -59.80,38.40 C-61.52,41.42 -63.35,45.67 -64.80,49.60 C-66.25,53.53 -67.30,57.77 -68.50,62.00 C-69.70,66.23 -70.83,70.67 -72.00,75.00 C-73.17,79.33 -74.42,84.00 -75.50,88.00 C-76.58,92.00 -77.67,95.33 -78.50,99.00 C-79.33,102.67 -80.12,106.33 -80.50,110.00 C-80.88,113.67 -80.92,117.33 -80.80,121.00 C-80.68,124.67 -80.30,128.33 -79.80,132.00 C-79.30,135.67 -78.63,139.33 -77.80,143.00 C-76.97,146.67 -75.93,150.58 -74.80,154.00 C-73.67,157.42 -72.30,160.58 -71.00,163.50 C-69.70,166.42 -68.75,169.00 -67.00,171.50 C-65.25,174.00 -62.75,176.33 -60.50,178.50 C-58.25,180.67 -55.92,182.67 -53.50,184.50 C-51.08,186.33 -48.75,187.83 -46.00,189.50 C-43.25,191.17 -40.17,193.00 -37.00,194.50 C-33.83,196.00 -30.50,197.50 -27.00,198.50 C-23.50,199.50 -19.50,200.08 -16.00,200.50 C-12.50,200.92 -8.67,201.33 -6.00,201.00 C-3.33,200.67 -1.00,198.92 0.00,198.50"/><path d="M-0.30,3.00 C0.58,2.65 2.95,1.18 5.00,0.90 C7.05,0.62 9.67,0.65 12.00,1.30 C14.33,1.95 16.83,3.82 19.00,4.80 C21.17,5.78 23.08,6.25 25.00,7.20 C26.92,8.15 28.40,9.12 30.50,10.50 C32.60,11.88 35.43,13.67 37.60,15.50 C39.77,17.33 41.43,19.50 43.50,21.50 C45.57,23.50 48.17,25.83 50.00,27.50 C51.83,29.17 52.87,29.68 54.50,31.50 C56.13,33.32 58.08,35.38 59.80,38.40 C61.52,41.42 63.35,45.67 64.80,49.60 C66.25,53.53 67.30,57.77 68.50,62.00 C69.70,66.23 70.83,70.67 72.00,75.00 C73.17,79.33 74.42,84.00 75.50,88.00 C76.58,92.00 77.67,95.33 78.50,99.00 C79.33,102.67 80.12,106.33 80.50,110.00 C80.88,113.67 80.92,117.33 80.80,121.00 C80.68,124.67 80.30,128.33 79.80,132.00 C79.30,135.67 78.63,139.33 77.80,143.00 C76.97,146.67 75.93,150.58 74.80,154.00 C73.67,157.42 72.30,160.58 71.00,163.50 C69.70,166.42 68.75,169.00 67.00,171.50 C65.25,174.00 62.75,176.33 60.50,178.50 C58.25,180.67 55.92,182.67 53.50,184.50 C51.08,186.33 48.75,187.83 46.00,189.50 C43.25,191.17 40.17,193.00 37.00,194.50 C33.83,196.00 30.50,197.50 27.00,198.50 C23.50,199.50 19.50,200.08 16.00,200.50 C12.50,200.92 8.67,201.33 6.00,201.00 C3.33,200.67 1.00,198.92 0.00,198.50"/>
<path d="M-2,7 C2,20 -1,35 0.5,50 C2,65 -1,80 0.8,95 C2.5,110 0,125 1,140 C2,155 -1,170 0.5,185 L0,197" stroke-width="4"/>
<path d="M0.5,30 C-3,24 -7,20 -12,18 M0.5,30 C4,24 8,21 13,19 M0.8,62 C-4,56 -9,52 -15,51 M0.8,62 C5,56 10,53 16,52 M0.8,104 C-4,97 -8,93 -13,92 M0.8,104 C5,97 9,94 14,93 M1,150 C-5,158 -10,162 -16,164 M1,150 C6,158 11,162 17,164 M0.5,178 C-4,184 -8,188 -13,190 M0.5,178 C5,184 9,188 14,190" stroke-width="3"/>
<path d="M-5.30,10.60 C-7.50,10.83 -14.78,10.90 -18.50,12.00 C-22.22,13.10 -24.77,15.23 -27.60,17.20 C-30.43,19.17 -32.77,21.33 -35.50,23.80 C-38.23,26.27 -41.37,29.15 -44.00,32.00 C-46.63,34.85 -48.98,37.88 -51.30,40.90 C-53.62,43.92 -55.93,46.82 -57.90,50.10 C-59.87,53.38 -61.58,57.62 -63.10,60.60 C-64.62,63.58 -66.35,66.77 -67.00,68.00"/>
<path d="M5.30,10.60 C7.50,10.83 14.78,10.90 18.50,12.00 C22.22,13.10 24.77,15.23 27.60,17.20 C30.43,19.17 32.77,21.33 35.50,23.80 C38.23,26.27 41.37,29.15 44.00,32.00 C46.63,34.85 48.98,37.88 51.30,40.90 C53.62,43.92 55.93,46.82 57.90,50.10 C59.87,53.38 61.58,57.62 63.10,60.60 C64.62,63.58 66.35,66.77 67.00,68.00"/>
<path d="M-69.00,76.00 C-69.42,77.67 -70.92,82.33 -71.50,86.00 C-72.08,89.67 -72.42,94.33 -72.50,98.00 C-72.58,101.67 -72.08,106.33 -72.00,108.00"/>
<path d="M69.00,76.00 C69.42,77.67 70.92,82.33 71.50,86.00 C72.08,89.67 72.42,94.33 72.50,98.00 C72.58,101.67 72.08,106.33 72.00,108.00"/>
<path d="M-35.50,36.90 C-35.17,38.25 -34.15,42.37 -33.50,45.00 C-32.85,47.63 -31.92,51.42 -31.60,52.70"/>
<path d="M35.50,36.90 C35.17,38.25 34.15,42.37 33.50,45.00 C32.85,47.63 31.92,51.42 31.60,52.70"/>
<path d="M-51.30,44.80 C-50.42,44.58 -47.75,43.72 -46.00,43.50 C-44.25,43.28 -41.67,43.50 -40.80,43.50"/>
<path d="M51.30,44.80 C50.42,44.58 47.75,43.72 46.00,43.50 C44.25,43.28 41.67,43.50 40.80,43.50"/>
<path d="M-21.10,50.10 C-20.00,50.53 -16.25,53.15 -14.50,52.70 C-12.75,52.25 -11.25,48.28 -10.60,47.40"/>
<path d="M21.10,50.10 C20.00,50.53 16.25,53.15 14.50,52.70 C12.75,52.25 11.25,48.28 10.60,47.40"/>
<path d="M-14.50,52.70 C-14.72,54.33 -15.58,60.87 -15.80,62.50"/>
<path d="M14.50,52.70 C14.72,54.33 15.58,60.87 15.80,62.50"/>
<path d="M-42.00,60.00 C-41.83,61.67 -41.20,67.13 -41.00,70.00 C-40.80,72.87 -41.47,74.70 -40.80,77.20 C-40.13,79.70 -38.10,82.82 -37.00,85.00 C-35.90,87.18 -35.70,88.63 -34.20,90.30 C-32.70,91.97 -30.18,93.68 -28.00,95.00 C-25.82,96.32 -23.77,97.53 -21.10,98.20 C-18.43,98.87 -13.52,98.87 -12.00,99.00"/>
<path d="M42.00,60.00 C41.83,61.67 41.20,67.13 41.00,70.00 C40.80,72.87 41.47,74.70 40.80,77.20 C40.13,79.70 38.10,82.82 37.00,85.00 C35.90,87.18 35.70,88.63 34.20,90.30 C32.70,91.97 30.18,93.68 28.00,95.00 C25.82,96.32 23.77,97.53 21.10,98.20 C18.43,98.87 13.52,98.87 12.00,99.00"/>
<path d="M-29.00,74.60 C-27.50,74.33 -22.83,73.35 -20.00,73.00 C-17.17,72.65 -14.50,72.67 -12.00,72.50 C-9.50,72.33 -6.17,72.08 -5.00,72.00"/>
<path d="M29.00,74.60 C27.50,74.33 22.83,73.35 20.00,73.00 C17.17,72.65 14.50,72.67 12.00,72.50 C9.50,72.33 6.17,72.08 5.00,72.00"/>
<path d="M-79.00,114.00 C-77.50,113.50 -73.52,111.67 -70.00,111.00 C-66.48,110.33 -61.57,110.08 -57.90,110.00 C-54.23,109.92 -50.85,110.05 -48.00,110.50 C-45.15,110.95 -43.30,111.95 -40.80,112.70 C-38.30,113.45 -35.63,114.35 -33.00,115.00 C-30.37,115.65 -26.33,116.33 -25.00,116.60"/>
<path d="M79.00,114.00 C77.50,113.50 73.52,111.67 70.00,111.00 C66.48,110.33 61.57,110.08 57.90,110.00 C54.23,109.92 50.85,110.05 48.00,110.50 C45.15,110.95 43.30,111.95 40.80,112.70 C38.30,113.45 35.63,114.35 33.00,115.00 C30.37,115.65 26.33,116.33 25.00,116.60"/>
<path d="M-51.30,120.10 C-49.75,120.75 -45.72,122.25 -42.00,124.00 C-38.28,125.75 -33.37,128.18 -29.00,130.60 C-24.63,133.02 -19.97,136.10 -15.80,138.50 C-11.63,140.90 -5.97,143.92 -4.00,145.00"/>
<path d="M51.30,120.10 C49.75,120.75 45.72,122.25 42.00,124.00 C38.28,125.75 33.37,128.18 29.00,130.60 C24.63,133.02 19.97,136.10 15.80,138.50 C11.63,140.90 5.97,143.92 4.00,145.00"/>
<path d="M-32.90,128.00 C-32.08,129.67 -29.53,134.72 -28.00,138.00 C-26.47,141.28 -26.60,145.42 -23.70,147.70 C-20.80,149.98 -14.05,151.15 -10.60,151.70 C-7.15,152.25 -4.27,151.12 -3.00,151.00"/>
<path d="M32.90,128.00 C32.08,129.67 29.53,134.72 28.00,138.00 C26.47,141.28 26.60,145.42 23.70,147.70 C20.80,149.98 14.05,151.15 10.60,151.70 C7.15,152.25 4.27,151.12 3.00,151.00"/>
<path d="M-73.60,150.30 C-71.42,150.75 -65.32,151.80 -60.50,153.00 C-55.68,154.20 -49.95,156.08 -44.70,157.50 C-39.45,158.92 -34.03,160.58 -29.00,161.50 C-23.97,162.42 -16.92,162.75 -14.50,163.00"/>
<path d="M73.60,150.30 C71.42,150.75 65.32,151.80 60.50,153.00 C55.68,154.20 49.95,156.08 44.70,157.50 C39.45,158.92 34.03,160.58 29.00,161.50 C23.97,162.42 16.92,162.75 14.50,163.00"/>
<path d="M-64.50,124.00 C-64.27,125.55 -63.33,131.75 -63.10,133.30"/>
<path d="M64.50,124.00 C64.27,125.55 63.33,131.75 63.10,133.30"/>
<path d="M-40.80,134.60 C-41.02,135.47 -41.88,138.93 -42.10,139.80"/>
<path d="M40.80,134.60 C41.02,135.47 41.88,138.93 42.10,139.80"/>
<path d="M-60.50,169.30 C-58.32,170.62 -52.48,174.58 -47.40,177.20 C-42.32,179.82 -36.13,182.58 -30.00,185.00 C-23.87,187.42 -15.27,190.53 -10.60,191.70 C-5.93,192.87 -3.43,191.95 -2.00,192.00"/>
<path d="M60.50,169.30 C58.32,170.62 52.48,174.58 47.40,177.20 C42.32,179.82 36.13,182.58 30.00,185.00 C23.87,187.42 15.27,190.53 10.60,191.70 C5.93,192.87 3.43,191.95 2.00,192.00"/>
<path d="M-47.40,170.60 C-44.77,170.83 -36.87,172.00 -31.60,172.00 C-26.33,172.00 -20.62,171.70 -15.80,170.60 C-10.98,169.50 -4.88,166.27 -2.70,165.40"/>
<path d="M47.40,170.60 C44.77,170.83 36.87,172.00 31.60,172.00 C26.33,172.00 20.62,171.70 15.80,170.60 C10.98,169.50 4.88,166.27 2.70,165.40"/>
<path d="M-8.00,13.00 C-9.17,14.17 -13.17,16.67 -15.00,20.00 C-16.83,23.33 -18.50,28.67 -19.00,33.00 C-19.50,37.33 -17.67,41.50 -18.00,46.00 C-18.33,50.50 -20.67,56.00 -21.00,60.00 C-21.33,64.00 -20.17,68.33 -20.00,70.00"/>
<path d="M8.00,13.00 C9.17,14.17 13.17,16.67 15.00,20.00 C16.83,23.33 18.50,28.67 19.00,33.00 C19.50,37.33 17.67,41.50 18.00,46.00 C18.33,50.50 20.67,56.00 21.00,60.00 C21.33,64.00 20.17,68.33 20.00,70.00"/>
<path d="M-60.00,80.00 C-58.67,80.67 -53.67,81.67 -52.00,84.00 C-50.33,86.33 -50.33,92.33 -50.00,94.00"/>
<path d="M60.00,80.00 C58.67,80.67 53.67,81.67 52.00,84.00 C50.33,86.33 50.33,92.33 50.00,94.00"/>
<path d="M-66.00,132.00 C-64.67,133.33 -60.33,137.67 -58.00,140.00 C-55.67,142.33 -53.00,145.00 -52.00,146.00"/>
<path d="M66.00,132.00 C64.67,133.33 60.33,137.67 58.00,140.00 C55.67,142.33 53.00,145.00 52.00,146.00"/>
<path d="M-50.00,52.00 C-49.17,53.00 -45.50,55.33 -45.00,58.00 C-44.50,60.67 -46.67,66.33 -47.00,68.00"/>
<path d="M50.00,52.00 C49.17,53.00 45.50,55.33 45.00,58.00 C44.50,60.67 46.67,66.33 47.00,68.00"/>
<path d="M-60.00,95.00 C-61.00,96.17 -65.00,100.83 -66.00,102.00"/>
<path d="M60.00,95.00 C61.00,96.17 65.00,100.83 66.00,102.00"/>
<path d="M-50.00,96.00 C-48.83,96.67 -45.00,98.33 -43.00,100.00 C-41.00,101.67 -38.83,105.00 -38.00,106.00"/>
<path d="M50.00,96.00 C48.83,96.67 45.00,98.33 43.00,100.00 C41.00,101.67 38.83,105.00 38.00,106.00"/>
<path d="M-22.00,82.00 C-20.83,82.83 -17.67,86.50 -15.00,87.00 C-12.33,87.50 -7.50,85.33 -6.00,85.00"/>
<path d="M22.00,82.00 C20.83,82.83 17.67,86.50 15.00,87.00 C12.33,87.50 7.50,85.33 6.00,85.00"/>
<path d="M-19.00,104.00 C-17.67,104.67 -12.33,107.33 -11.00,108.00"/>
<path d="M19.00,104.00 C17.67,104.67 12.33,107.33 11.00,108.00"/>
<path d="M-72.00,140.00 C-70.67,141.00 -65.33,145.00 -64.00,146.00"/>
<path d="M72.00,140.00 C70.67,141.00 65.33,145.00 64.00,146.00"/>
<path d="M-36.00,178.00 C-34.17,178.50 -28.67,180.83 -25.00,181.00 C-21.33,181.17 -15.83,179.33 -14.00,179.00"/>
<path d="M36.00,178.00 C34.17,178.50 28.67,180.83 25.00,181.00 C21.33,181.17 15.83,179.33 14.00,179.00"/>
<path d="M-57.00,186.00 C-55.33,185.50 -48.67,183.50 -47.00,183.00"/>
<path d="M57.00,186.00 C55.33,185.50 48.67,183.50 47.00,183.00"/>
<path d="M-9.00,26.00 C-8.50,27.67 -6.17,33.00 -6.00,36.00 C-5.83,39.00 -7.67,42.67 -8.00,44.00"/>
<path d="M9.00,26.00 C8.50,27.67 6.17,33.00 6.00,36.00 C5.83,39.00 7.67,42.67 8.00,44.00"/>
<path d="M-63.00,70.00 C-61.83,70.67 -57.17,73.33 -56.00,74.00"/>
<path d="M63.00,70.00 C61.83,70.67 57.17,73.33 56.00,74.00"/>
<path d="M-30.00,24.00 C-31.67,24.33 -37.33,26.33 -40.00,26.00 C-42.67,25.67 -45.00,22.67 -46.00,22.00"/>
<path d="M30.00,24.00 C31.67,24.33 37.33,26.33 40.00,26.00 C42.67,25.67 45.00,22.67 46.00,22.00"/>
<path d="M-58.00,160.00 C-56.67,160.83 -51.33,164.17 -50.00,165.00"/>
<path d="M58.00,160.00 C56.67,160.83 51.33,164.17 50.00,165.00"/>
</g>
<circle cx="88.40" cy="276.60" r="6.5" fill="rgb(255,90,165)"/><circle cx="88.40" cy="276.60" r="3.6" fill="rgb(0,140,185)"/>
<circle cx="74.40" cy="290.70" r="6.5" fill="rgb(255,50,200)"/><circle cx="74.40" cy="290.70" r="3.6" fill="rgb(0,0,255)"/>
<circle cx="52.50" cy="296.90" r="6.5" fill="rgb(255,50,200)"/><circle cx="52.50" cy="296.90" r="3.6" fill="rgb(0,30,235)"/>
<circle cx="100.90" cy="286.80" r="6.5" fill="rgb(255,50,200)"/><circle cx="100.90" cy="286.80" r="3.6" fill="rgb(0,70,220)"/>
<circle cx="63.40" cy="327.60" r="6.5" fill="rgb(255,100,150)"/><circle cx="63.40" cy="327.60" r="3.6" fill="rgb(0,180,160)"/>
<circle cx="43.05" cy="347.60" r="6.5" fill="rgb(255,150,100)"/><circle cx="43.05" cy="347.60" r="3.6" fill="rgb(0,145,180)"/>
<circle cx="54.25" cy="361.50" r="6.5" fill="rgb(255,135,120)"/><circle cx="54.25" cy="361.50" r="3.6" fill="rgb(0,230,140)"/>
<circle cx="51.95" cy="352.50" r="6.5" fill="rgb(255,130,120)"/><circle cx="51.95" cy="352.50" r="3.6" fill="rgb(0,190,155)"/>
<circle cx="48.85" cy="341.80" r="6.5" fill="rgb(255,120,135)"/><circle cx="48.85" cy="341.80" r="3.6" fill="rgb(0,170,165)"/>
<circle cx="59.45" cy="335.20" r="6.5" fill="rgb(255,40,210)"/><circle cx="59.45" cy="335.20" r="3.6" fill="rgb(0,60,225)"/>
<circle cx="77.25" cy="358.90" r="6.5" fill="rgb(255,200,55)"/><circle cx="77.25" cy="358.90" r="3.6" fill="rgb(0,180,160)"/>
<circle cx="67.05" cy="360.50" r="6.5" fill="rgb(255,40,210)"/><circle cx="67.05" cy="360.50" r="3.6" fill="rgb(0,70,220)"/>
<circle cx="98.55" cy="352.10" r="6.5" fill="rgb(255,40,210)"/><circle cx="98.55" cy="352.10" r="3.6" fill="rgb(0,85,213)"/>
<circle cx="42.75" cy="394.50" r="6.5" fill="rgb(255,220,35)"/><circle cx="42.75" cy="394.50" r="3.6" fill="rgb(0,175,165)"/>
<circle cx="52.15" cy="399.30" r="6.5" fill="rgb(255,125,130)"/><circle cx="52.15" cy="399.30" r="3.6" fill="rgb(0,165,170)"/>
<circle cx="78.75" cy="404.50" r="6.5" fill="rgb(255,95,160)"/><circle cx="78.75" cy="404.50" r="3.6" fill="rgb(0,145,180)"/>
<circle cx="68.45" cy="405.10" r="6.5" fill="rgb(255,225,30)"/><circle cx="68.45" cy="405.10" r="3.6" fill="rgb(0,210,150)"/>
<circle cx="98.55" cy="401.00" r="6.5" fill="rgb(255,120,135)"/><circle cx="98.55" cy="401.00" r="3.6" fill="rgb(0,230,140)"/>
<circle cx="52.15" cy="421.50" r="6.5" fill="rgb(255,150,100)"/><circle cx="52.15" cy="421.50" r="3.6" fill="rgb(0,160,170)"/>
<circle cx="80.15" cy="439.00" r="6.5" fill="rgb(255,160,95)"/><circle cx="80.15" cy="439.00" r="3.6" fill="rgb(0,220,145)"/>
<circle cx="87.75" cy="441.30" r="6.5" fill="rgb(255,160,95)"/><circle cx="87.75" cy="441.30" r="3.6" fill="rgb(0,150,175)"/>
<circle cx="96.55" cy="439.00" r="6.5" fill="rgb(255,160,95)"/><circle cx="96.55" cy="439.00" r="3.6" fill="rgb(0,140,185)"/>
<circle cx="132.90" cy="276.60" r="6.5" fill="rgb(255,120,135)"/><circle cx="132.90" cy="276.60" r="3.6" fill="rgb(0,110,200)"/>
<circle cx="146.90" cy="290.70" r="6.5" fill="rgb(255,70,190)"/><circle cx="146.90" cy="290.70" r="3.6" fill="rgb(0,0,255)"/>
<circle cx="168.80" cy="296.90" r="6.5" fill="rgb(255,100,150)"/><circle cx="168.80" cy="296.90" r="3.6" fill="rgb(0,20,240)"/>
<circle cx="120.40" cy="286.80" r="6.5" fill="rgb(255,40,210)"/><circle cx="120.40" cy="286.80" r="3.6" fill="rgb(0,50,230)"/>
<circle cx="157.90" cy="327.60" r="6.5" fill="rgb(255,120,135)"/><circle cx="157.90" cy="327.60" r="3.6" fill="rgb(0,145,180)"/>
<circle cx="178.25" cy="347.60" r="6.5" fill="rgb(255,150,100)"/><circle cx="178.25" cy="347.60" r="3.6" fill="rgb(0,80,220)"/>
<circle cx="167.05" cy="361.50" r="6.5" fill="rgb(255,150,100)"/><circle cx="167.05" cy="361.50" r="3.6" fill="rgb(0,215,150)"/>
<circle cx="169.35" cy="352.50" r="6.5" fill="rgb(255,125,130)"/><circle cx="169.35" cy="352.50" r="3.6" fill="rgb(0,120,195)"/>
<circle cx="172.45" cy="341.80" r="6.5" fill="rgb(255,125,130)"/><circle cx="172.45" cy="341.80" r="3.6" fill="rgb(0,120,195)"/>
<circle cx="161.85" cy="335.20" r="6.5" fill="rgb(255,30,220)"/><circle cx="161.85" cy="335.20" r="3.6" fill="rgb(0,30,240)"/>
<circle cx="144.05" cy="358.90" r="6.5" fill="rgb(255,195,60)"/><circle cx="144.05" cy="358.90" r="3.6" fill="rgb(0,150,180)"/>
<circle cx="154.25" cy="360.50" r="6.5" fill="rgb(255,40,210)"/><circle cx="154.25" cy="360.50" r="3.6" fill="rgb(0,70,220)"/>
<circle cx="122.75" cy="352.10" r="6.5" fill="rgb(255,40,210)"/><circle cx="122.75" cy="352.10" r="3.6" fill="rgb(0,70,220)"/>
<circle cx="178.55" cy="394.50" r="6.5" fill="rgb(255,210,45)"/><circle cx="178.55" cy="394.50" r="3.6" fill="rgb(0,160,175)"/>
<circle cx="169.15" cy="399.30" r="6.5" fill="rgb(255,150,100)"/><circle cx="169.15" cy="399.30" r="3.6" fill="rgb(0,130,190)"/>
<circle cx="142.55" cy="404.50" r="6.5" fill="rgb(255,120,135)"/><circle cx="142.55" cy="404.50" r="3.6" fill="rgb(0,140,185)"/>
<circle cx="152.85" cy="405.10" r="6.5" fill="rgb(255,210,45)"/><circle cx="152.85" cy="405.10" r="3.6" fill="rgb(0,190,155)"/>
<circle cx="122.75" cy="401.00" r="6.5" fill="rgb(255,120,135)"/><circle cx="122.75" cy="401.00" r="3.6" fill="rgb(0,230,140)"/>
<circle cx="169.15" cy="421.50" r="6.5" fill="rgb(255,105,150)"/><circle cx="169.15" cy="421.50" r="3.6" fill="rgb(0,100,210)"/>
<circle cx="141.15" cy="439.00" r="6.5" fill="rgb(255,160,95)"/><circle cx="141.15" cy="439.00" r="3.6" fill="rgb(0,200,155)"/>
<circle cx="133.55" cy="441.30" r="6.5" fill="rgb(255,165,90)"/><circle cx="133.55" cy="441.30" r="3.6" fill="rgb(0,180,160)"/>
<circle cx="124.75" cy="439.00" r="6.5" fill="rgb(255,165,90)"/><circle cx="124.75" cy="439.00" r="3.6" fill="rgb(0,150,180)"/>
<g transform="translate(294.15,257.50)" fill="none" stroke="#e7e7e7" stroke-width="3" stroke-linecap="round" stroke-linejoin="round" filter="url(#soft)">
<path d="M-3.00,7.80 C-4.17,7.43 -7.67,6.10 -10.00,5.60 C-12.33,5.10 -14.67,4.57 -17.00,4.80 C-19.33,5.03 -21.75,5.88 -24.00,7.00 C-26.25,8.12 -28.23,10.08 -30.50,11.50 C-32.77,12.92 -35.43,13.83 -37.60,15.50 C-39.77,17.17 -41.43,19.50 -43.50,21.50 C-45.57,23.50 -48.17,25.83 -50.00,27.50 C-51.83,29.17 -52.87,29.68 -54.50,31.50 C-56.13,33.32 -58.08,35.38 -59.80,38.40 C-61.52,41.42 -63.35,45.67 -64.80,49.60 C-66.25,53.53 -67.30,57.77 -68.50,62.00 C-69.70,66.23 -70.83,70.67 -72.00,75.00 C-73.17,79.33 -74.42,84.00 -75.50,88.00 C-76.58,92.00 -77.67,95.33 -78.50,99.00 C-79.33,102.67 -80.12,106.33 -80.50,110.00 C-80.88,113.67 -80.92,117.33 -80.80,121.00 C-80.68,124.67 -80.30,128.33 -79.80,132.00 C-79.30,135.67 -78.63,139.33 -77.80,143.00 C-76.97,146.67 -75.93,150.58 -74.80,154.00 C-73.67,157.42 -72.30,160.58 -71.00,163.50 C-69.70,166.42 -68.75,169.00 -67.00,171.50 C-65.25,174.00 -62.75,176.33 -60.50,178.50 C-58.25,180.67 -55.92,182.67 -53.50,184.50 C-51.08,186.33 -48.75,187.83 -46.00,189.50 C-43.25,191.17 -40.17,193.00 -37.00,194.50 C-33.83,196.00 -30.50,197.50 -27.00,198.50 C-23.50,199.50 -19.50,200.08 -16.00,200.50 C-12.50,200.92 -8.67,201.33 -6.00,201.00 C-3.33,200.67 -1.00,198.92 0.00,198.50"/><path d="M-0.30,3.00 C0.58,2.65 2.95,1.18 5.00,0.90 C7.05,0.62 9.67,0.65 12.00,1.30 C14.33,1.95 16.83,3.82 19.00,4.80 C21.17,5.78 23.08,6.25 25.00,7.20 C26.92,8.15 28.40,9.12 30.50,10.50 C32.60,11.88 35.43,13.67 37.60,15.50 C39.77,17.33 41.43,19.50 43.50,21.50 C45.57,23.50 48.17,25.83 50.00,27.50 C51.83,29.17 52.87,29.68 54.50,31.50 C56.13,33.32 58.08,35.38 59.80,38.40 C61.52,41.42 63.35,45.67 64.80,49.60 C66.25,53.53 67.30,57.77 68.50,62.00 C69.70,66.23 70.83,70.67 72.00,75.00 C73.17,79.33 74.42,84.00 75.50,88.00 C76.58,92.00 77.67,95.33 78.50,99.00 C79.33,102.67 80.12,106.33 80.50,110.00 C80.88,113.67 80.92,117.33 80.80,121.00 C80.68,124.67 80.30,128.33 79.80,132.00 C79.30,135.67 78.63,139.33 77.80,143.00 C76.97,146.67 75.93,150.58 74.80,154.00 C73.67,157.42 72.30,160.58 71.00,163.50 C69.70,166.42 68.75,169.00 67.00,171.50 C65.25,174.00 62.75,176.33 60.50,178.50 C58.25,180.67 55.92,182.67 53.50,184.50 C51.08,186.33 48.75,187.83 46.00,189.50 C43.25,191.17 40.17,193.00 37.00,194.50 C33.83,196.00 30.50,197.50 27.00,198.50 C23.50,199.50 19.50,200.08 16.00,200.50 C12.50,200.92 8.67,201.33 6.00,201.00 C3.33,200.67 1.00,198.92 0.00,198.50"/>
<path d="M-2,7 C2,20 -1,35 0.5,50 C2,65 -1,80 0.8,95 C2.5,110 0,125 1,140 C2,155 -1,170 0.5,185 L0,197" stroke-width="4"/>
<path d="M0.5,30 C-3,24 -7,20 -12,18 M0.5,30 C4,24 8,21 13,19 M0.8,62 C-4,56 -9,52 -15,51 M0.8,62 C5,56 10,53 16,52 M0.8,104 C-4,97 -8,93 -13,92 M0.8,104 C5,97 9,94 14,93 M1,150 C-5,158 -10,162 -16,164 M1,150 C6,158 11,162 17,164 M0.5,178 C-4,184 -8,188 -13,190 M0.5,178 C5,184 9,188 14,190" stroke-width="3"/>
<path d="M-5.30,10.60 C-7.50,10.83 -14.78,10.90 -18.50,12.00 C-22.22,13.10 -24.77,15.23 -27.60,17.20 C-30.43,19.17 -32.77,21.33 -35.50,23.80 C-38.23,26.27 -41.37,29.15 -44.00,32.00 C-46.63,34.85 -48.98,37.88 -51.30,40.90 C-53.62,43.92 -55.93,46.82 -57.90,50.10 C-59.87,53.38 -61.58,57.62 -63.10,60.60 C-64.62,63.58 -66.35,66.77 -67.00,68.00"/>
<path d="M5.30,10.60 C7.50,10.83 14.78,10.90 18.50,12.00 C22.22,13.10 24.77,15.23 27.60,17.20 C30.43,19.17 32.77,21.33 35.50,23.80 C38.23,26.27 41.37,29.15 44.00,32.00 C46.63,34.85 48.98,37.88 51.30,40.90 C53.62,43.92 55.93,46.82 57.90,50.10 C59.87,53.38 61.58,57.62 63.10,60.60 C64.62,63.58 66.35,66.77 67.00,68.00"/>
<path d="M-69.00,76.00 C-69.42,77.67 -70.92,82.33 -71.50,86.00 C-72.08,89.67 -72.42,94.33 -72.50,98.00 C-72.58,101.67 -72.08,106.33 -72.00,108.00"/>
<path d="M69.00,76.00 C69.42,77.67 70.92,82.33 71.50,86.00 C72.08,89.67 72.42,94.33 72.50,98.00 C72.58,101.67 72.08,106.33 72.00,108.00"/>
<path d="M-35.50,36.90 C-35.17,38.25 -34.15,42.37 -33.50,45.00 C-32.85,47.63 -31.92,51.42 -31.60,52.70"/>
<path d="M35.50,36.90 C35.17,38.25 34.15,42.37 33.50,45.00 C32.85,47.63 31.92,51.42 31.60,52.70"/>
<path d="M-51.30,44.80 C-50.42,44.58 -47.75,43.72 -46.00,43.50 C-44.25,43.28 -41.67,43.50 -40.80,43.50"/>
<path d="M51.30,44.80 C50.42,44.58 47.75,43.72 46.00,43.50 C44.25,43.28 41.67,43.50 40.80,43.50"/>
<path d="M-21.10,50.10 C-20.00,50.53 -16.25,53.15 -14.50,52.70 C-12.75,52.25 -11.25,48.28 -10.60,47.40"/>
<path d="M21.10,50.10 C20.00,50.53 16.25,53.15 14.50,52.70 C12.75,52.25 11.25,48.28 10.60,47.40"/>
<path d="M-14.50,52.70 C-14.72,54.33 -15.58,60.87 -15.80,62.50"/>
<path d="M14.50,52.70 C14.72,54.33 15.58,60.87 15.80,62.50"/>
<path d="M-42.00,60.00 C-41.83,61.67 -41.20,67.13 -41.00,70.00 C-40.80,72.87 -41.47,74.70 -40.80,77.20 C-40.13,79.70 -38.10,82.82 -37.00,85.00 C-35.90,87.18 -35.70,88.63 -34.20,90.30 C-32.70,91.97 -30.18,93.68 -28.00,95.00 C-25.82,96.32 -23.77,97.53 -21.10,98.20 C-18.43,98.87 -13.52,98.87 -12.00,99.00"/>
<path d="M42.00,60.00 C41.83,61.67 41.20,67.13 41.00,70.00 C40.80,72.87 41.47,74.70 40.80,77.20 C40.13,79.70 38.10,82.82 37.00,85.00 C35.90,87.18 35.70,88.63 34.20,90.30 C32.70,91.97 30.18,93.68 28.00,95.00 C25.82,96.32 23.77,97.53 21.10,98.20 C18.43,98.87 13.52,98.87 12.00,99.00"/>
<path d="M-29.00,74.60 C-27.50,74.33 -22.83,73.35 -20.00,73.00 C-17.17,72.65 -14.50,72.67 -12.00,72.50 C-9.50,72.33 -6.17,72.08 -5.00,72.00"/>
<path d="M29.00,74.60 C27.50,74.33 22.83,73.35 20.00,73.00 C17.17,72.65 14.50,72.67 12.00,72.50 C9.50,72.33 6.17,72.08 5.00,72.00"/>
<path d="M-79.00,114.00 C-77.50,113.50 -73.52,111.67 -70.00,111.00 C-66.48,110.33 -61.57,110.08 -57.90,110.00 C-54.23,109.92 -50.85,110.05 -48.00,110.50 C-45.15,110.95 -43.30,111.95 -40.80,112.70 C-38.30,113.45 -35.63,114.35 -33.00,115.00 C-30.37,115.65 -26.33,116.33 -25.00,116.60"/>
<path d="M79.00,114.00 C77.50,113.50 73.52,111.67 70.00,111.00 C66.48,110.33 61.57,110.08 57.90,110.00 C54.23,109.92 50.85,110.05 48.00,110.50 C45.15,110.95 43.30,111.95 40.80,112.70 C38.30,113.45 35.63,114.35 33.00,115.00 C30.37,115.65 26.33,116.33 25.00,116.60"/>
<path d="M-51.30,120.10 C-49.75,120.75 -45.72,122.25 -42.00,124.00 C-38.28,125.75 -33.37,128.18 -29.00,130.60 C-24.63,133.02 -19.97,136.10 -15.80,138.50 C-11.63,140.90 -5.97,143.92 -4.00,145.00"/>
<path d="M51.30,120.10 C49.75,120.75 45.72,122.25 42.00,124.00 C38.28,125.75 33.37,128.18 29.00,130.60 C24.63,133.02 19.97,136.10 15.80,138.50 C11.63,140.90 5.97,143.92 4.00,145.00"/>
<path d="M-32.90,128.00 C-32.08,129.67 -29.53,134.72 -28.00,138.00 C-26.47,141.28 -26.60,145.42 -23.70,147.70 C-20.80,149.98 -14.05,151.15 -10.60,151.70 C-7.15,152.25 -4.27,151.12 -3.00,151.00"/>
<path d="M32.90,128.00 C32.08,129.67 29.53,134.72 28.00,138.00 C26.47,141.28 26.60,145.42 23.70,147.70 C20.80,149.98 14.05,151.15 10.60,151.70 C7.15,152.25 4.27,151.12 3.00,151.00"/>
<path d="M-73.60,150.30 C-71.42,150.75 -65.32,151.80 -60.50,153.00 C-55.68,154.20 -49.95,156.08 -44.70,157.50 C-39.45,158.92 -34.03,160.58 -29.00,161.50 C-23.97,162.42 -16.92,162.75 -14.50,163.00"/>
<path d="M73.60,150.30 C71.42,150.75 65.32,151.80 60.50,153.00 C55.68,154.20 49.95,156.08 44.70,157.50 C39.45,158.92 34.03,160.58 29.00,161.50 C23.97,162.42 16.92,162.75 14.50,163.00"/>
<path d="M-64.50,124.00 C-64.27,125.55 -63.33,131.75 -63.10,133.30"/>
<path d="M64.50,124.00 C64.27,125.55 63.33,131.75 63.10,133.30"/>
<path d="M-40.80,134.60 C-41.02,135.47 -41.88,138.93 -42.10,139.80"/>
<path d="M40.80,134.60 C41.02,135.47 41.88,138.93 42.10,139.80"/>
<path d="M-60.50,169.30 C-58.32,170.62 -52.48,174.58 -47.40,177.20 C-42.32,179.82 -36.13,182.58 -30.00,185.00 C-23.87,187.42 -15.27,190.53 -10.60,191.70 C-5.93,192.87 -3.43,191.95 -2.00,192.00"/>
<path d="M60.50,169.30 C58.32,170.62 52.48,174.58 47.40,177.20 C42.32,179.82 36.13,182.58 30.00,185.00 C23.87,187.42 15.27,190.53 10.60,191.70 C5.93,192.87 3.43,191.95 2.00,192.00"/>
<path d="M-47.40,170.60 C-44.77,170.83 -36.87,172.00 -31.60,172.00 C-26.33,172.00 -20.62,171.70 -15.80,170.60 C-10.98,169.50 -4.88,166.27 -2.70,165.40"/>
<path d="M47.40,170.60 C44.77,170.83 36.87,172.00 31.60,172.00 C26.33,172.00 20.62,171.70 15.80,170.60 C10.98,169.50 4.88,166.27 2.70,165.40"/>
<path d="M-8.00,13.00 C-9.17,14.17 -13.17,16.67 -15.00,20.00 C-16.83,23.33 -18.50,28.67 -19.00,33.00 C-19.50,37.33 -17.67,41.50 -18.00,46.00 C-18.33,50.50 -20.67,56.00 -21.00,60.00 C-21.33,64.00 -20.17,68.33 -20.00,70.00"/>
<path d="M8.00,13.00 C9.17,14.17 13.17,16.67 15.00,20.00 C16.83,23.33 18.50,28.67 19.00,33.00 C19.50,37.33 17.67,41.50 18.00,46.00 C18.33,50.50 20.67,56.00 21.00,60.00 C21.33,64.00 20.17,68.33 20.00,70.00"/>
<path d="M-60.00,80.00 C-58.67,80.67 -53.67,81.67 -52.00,84.00 C-50.33,86.33 -50.33,92.33 -50.00,94.00"/>
<path d="M60.00,80.00 C58.67,80.67 53.67,81.67 52.00,84.00 C50.33,86.33 50.33,92.33 50.00,94.00"/>
<path d="M-66.00,132.00 C-64.67,133.33 -60.33,137.67 -58.00,140.00 C-55.67,142.33 -53.00,145.00 -52.00,146.00"/>
<path d="M66.00,132.00 C64.67,133.33 60.33,137.67 58.00,140.00 C55.67,142.33 53.00,145.00 52.00,146.00"/>
<path d="M-50.00,52.00 C-49.17,53.00 -45.50,55.33 -45.00,58.00 C-44.50,60.67 -46.67,66.33 -47.00,68.00"/>
<path d="M50.00,52.00 C49.17,53.00 45.50,55.33 45.00,58.00 C44.50,60.67 46.67,66.33 47.00,68.00"/>
<path d="M-60.00,95.00 C-61.00,96.17 -65.00,100.83 -66.00,102.00"/>
<path d="M60.00,95.00 C61.00,96.17 65.00,100.83 66.00,102.00"/>
<path d="M-50.00,96.00 C-48.83,96.67 -45.00,98.33 -43.00,100.00 C-41.00,101.67 -38.83,105.00 -38.00,106.00"/>
<path d="M50.00,96.00 C48.83,96.67 45.00,98.33 43.00,100.00 C41.00,101.67 38.83,105.00 38.00,106.00"/>
<path d="M-22.00,82.00 C-20.83,82.83 -17.67,86.50 -15.00,87.00 C-12.33,87.50 -7.50,85.33 -6.00,85.00"/>
<path d="M22.00,82.00 C20.83,82.83 17.67,86.50 15.00,87.00 C12.33,87.50 7.50,85.33 6.00,85.00"/>
<path d="M-19.00,104.00 C-17.67,104.67 -12.33,107.33 -11.00,108.00"/>
<path d="M19.00,104.00 C17.67,104.67 12.33,107.33 11.00,108.00"/>
<path d="M-72.00,140.00 C-70.67,141.00 -65.33,145.00 -64.00,146.00"/>
<path d="M72.00,140.00 C70.67,141.00 65.33,145.00 64.00,146.00"/>
<path d="M-36.00,178.00 C-34.17,178.50 -28.67,180.83 -25.00,181.00 C-21.33,181.17 -15.83,179.33 -14.00,179.00"/>
<path d="M36.00,178.00 C34.17,178.50 28.67,180.83 25.00,181.00 C21.33,181.17 15.83,179.33 14.00,179.00"/>
<path d="M-57.00,186.00 C-55.33,185.50 -48.67,183.50 -47.00,183.00"/>
<path d="M57.00,186.00 C55.33,185.50 48.67,183.50 47.00,183.00"/>
<path d="M-9.00,26.00 C-8.50,27.67 -6.17,33.00 -6.00,36.00 C-5.83,39.00 -7.67,42.67 -8.00,44.00"/>
<path d="M9.00,26.00 C8.50,27.67 6.17,33.00 6.00,36.00 C5.83,39.00 7.67,42.67 8.00,44.00"/>
<path d="M-63.00,70.00 C-61.83,70.67 -57.17,73.33 -56.00,74.00"/>
<path d="M63.00,70.00 C61.83,70.67 57.17,73.33 56.00,74.00"/>
<path d="M-30.00,24.00 C-31.67,24.33 -37.33,26.33 -40.00,26.00 C-42.67,25.67 -45.00,22.67 -46.00,22.00"/>
<path d="M30.00,24.00 C31.67,24.33 37.33,26.33 40.00,26.00 C42.67,25.67 45.00,22.67 46.00,22.00"/>
<path d="M-58.00,160.00 C-56.67,160.83 -51.33,164.17 -50.00,165.00"/>
<path d="M58.00,160.00 C56.67,160.83 51.33,164.17 50.00,165.00"/>
</g>
<circle cx="271.90" cy="276.60" r="6.5" fill="rgb(255,80,170)"/><circle cx="271.90" cy="276.60" r="3.6" fill="rgb(0,150,180)"/>
<circle cx="257.90" cy="290.70" r="6.5" fill="rgb(255,130,120)"/><circle cx="257.90" cy="290.70" r="3.6" fill="rgb(0,30,240)"/>
<circle cx="236.00" cy="296.90" r="6.5" fill="rgb(255,80,170)"/><circle cx="236.00" cy="296.90" r="3.6" fill="rgb(0,20,245)"/>
<circle cx="284.40" cy="286.80" r="6.5" fill="rgb(255,50,200)"/><circle cx="284.40" cy="286.80" r="3.6" fill="rgb(0,80,215)"/>
<circle cx="246.90" cy="327.60" r="6.5" fill="rgb(255,80,170)"/><circle cx="246.90" cy="327.60" r="3.6" fill="rgb(0,180,160)"/>
<circle cx="226.55" cy="347.60" r="6.5" fill="rgb(255,165,90)"/><circle cx="226.55" cy="347.60" r="3.6" fill="rgb(0,150,175)"/>
<circle cx="237.75" cy="361.50" r="6.5" fill="rgb(255,135,120)"/><circle cx="237.75" cy="361.50" r="3.6" fill="rgb(0,240,135)"/>
<circle cx="235.45" cy="352.50" r="6.5" fill="rgb(255,135,120)"/><circle cx="235.45" cy="352.50" r="3.6" fill="rgb(0,200,150)"/>
<circle cx="232.35" cy="341.80" r="6.5" fill="rgb(255,130,120)"/><circle cx="232.35" cy="341.80" r="3.6" fill="rgb(0,170,165)"/>
<circle cx="242.95" cy="335.20" r="6.5" fill="rgb(255,60,195)"/><circle cx="242.95" cy="335.20" r="3.6" fill="rgb(0,60,225)"/>
<circle cx="260.75" cy="358.90" r="6.5" fill="rgb(255,215,40)"/><circle cx="260.75" cy="358.90" r="3.6" fill="rgb(0,190,155)"/>
<circle cx="250.55" cy="360.50" r="6.5" fill="rgb(255,60,195)"/><circle cx="250.55" cy="360.50" r="3.6" fill="rgb(0,60,225)"/>
<circle cx="282.05" cy="352.10" r="6.5" fill="rgb(255,70,185)"/><circle cx="282.05" cy="352.10" r="3.6" fill="rgb(0,70,220)"/>
<circle cx="226.25" cy="394.50" r="6.5" fill="rgb(255,215,40)"/><circle cx="226.25" cy="394.50" r="3.6" fill="rgb(0,175,165)"/>
<circle cx="235.65" cy="399.30" r="6.5" fill="rgb(255,150,100)"/><circle cx="235.65" cy="399.30" r="3.6" fill="rgb(0,165,170)"/>
<circle cx="262.25" cy="404.50" r="6.5" fill="rgb(255,115,140)"/><circle cx="262.25" cy="404.50" r="3.6" fill="rgb(0,150,180)"/>
<circle cx="251.95" cy="405.10" r="6.5" fill="rgb(255,220,35)"/><circle cx="251.95" cy="405.10" r="3.6" fill="rgb(0,220,145)"/>
<circle cx="282.05" cy="401.00" r="6.5" fill="rgb(255,150,100)"/><circle cx="282.05" cy="401.00" r="3.6" fill="rgb(0,230,140)"/>
<circle cx="235.65" cy="421.50" r="6.5" fill="rgb(255,150,100)"/><circle cx="235.65" cy="421.50" r="3.6" fill="rgb(0,160,170)"/>
<circle cx="263.65" cy="439.00" r="6.5" fill="rgb(255,180,75)"/><circle cx="263.65" cy="439.00" r="3.6" fill="rgb(0,220,145)"/>
<circle cx="271.25" cy="441.30" r="6.5" fill="rgb(255,160,95)"/><circle cx="271.25" cy="441.30" r="3.6" fill="rgb(0,160,170)"/>
<circle cx="280.05" cy="439.00" r="6.5" fill="rgb(255,175,80)"/><circle cx="280.05" cy="439.00" r="3.6" fill="rgb(0,160,170)"/>
<circle cx="316.40" cy="276.60" r="6.5" fill="rgb(255,100,150)"/><circle cx="316.40" cy="276.60" r="3.6" fill="rgb(0,150,180)"/>
<circle cx="330.40" cy="290.70" r="6.5" fill="rgb(255,110,140)"/><circle cx="330.40" cy="290.70" r="3.6" fill="rgb(0,0,255)"/>
<circle cx="352.30" cy="296.90" r="6.5" fill="rgb(255,120,130)"/><circle cx="352.30" cy="296.90" r="3.6" fill="rgb(0,20,245)"/>
<circle cx="303.90" cy="286.80" r="6.5" fill="rgb(255,55,200)"/><circle cx="303.90" cy="286.80" r="3.6" fill="rgb(0,60,225)"/>
<circle cx="341.40" cy="327.60" r="6.5" fill="rgb(255,120,130)"/><circle cx="341.40" cy="327.60" r="3.6" fill="rgb(0,160,170)"/>
<circle cx="361.75" cy="347.60" r="6.5" fill="rgb(255,165,90)"/><circle cx="361.75" cy="347.60" r="3.6" fill="rgb(0,140,185)"/>
<circle cx="350.55" cy="361.50" r="6.5" fill="rgb(255,155,95)"/><circle cx="350.55" cy="361.50" r="3.6" fill="rgb(0,230,140)"/>
<circle cx="352.85" cy="352.50" r="6.5" fill="rgb(255,110,140)"/><circle cx="352.85" cy="352.50" r="3.6" fill="rgb(0,150,180)"/>
<circle cx="355.95" cy="341.80" r="6.5" fill="rgb(255,135,115)"/><circle cx="355.95" cy="341.80" r="3.6" fill="rgb(0,145,180)"/>
<circle cx="345.35" cy="335.20" r="6.5" fill="rgb(255,45,210)"/><circle cx="345.35" cy="335.20" r="3.6" fill="rgb(0,40,235)"/>
<circle cx="327.55" cy="358.90" r="6.5" fill="rgb(255,180,70)"/><circle cx="327.55" cy="358.90" r="3.6" fill="rgb(0,150,180)"/>
<circle cx="337.75" cy="360.50" r="6.5" fill="rgb(255,55,200)"/><circle cx="337.75" cy="360.50" r="3.6" fill="rgb(0,60,225)"/>
<circle cx="306.25" cy="352.10" r="6.5" fill="rgb(255,55,200)"/><circle cx="306.25" cy="352.10" r="3.6" fill="rgb(0,60,225)"/>
<circle cx="362.05" cy="394.50" r="6.5" fill="rgb(255,215,40)"/><circle cx="362.05" cy="394.50" r="3.6" fill="rgb(0,165,170)"/>
<circle cx="352.65" cy="399.30" r="6.5" fill="rgb(255,180,75)"/><circle cx="352.65" cy="399.30" r="3.6" fill="rgb(0,150,180)"/>
<circle cx="326.05" cy="404.50" r="6.5" fill="rgb(255,155,95)"/><circle cx="326.05" cy="404.50" r="3.6" fill="rgb(0,150,180)"/>
<circle cx="336.35" cy="405.10" r="6.5" fill="rgb(255,185,70)"/><circle cx="336.35" cy="405.10" r="3.6" fill="rgb(0,210,150)"/>
<circle cx="306.25" cy="401.00" r="6.5" fill="rgb(255,150,100)"/><circle cx="306.25" cy="401.00" r="3.6" fill="rgb(0,230,140)"/>
<circle cx="352.65" cy="421.50" r="6.5" fill="rgb(255,125,130)"/><circle cx="352.65" cy="421.50" r="3.6" fill="rgb(0,120,195)"/>
<circle cx="324.65" cy="439.00" r="6.5" fill="rgb(255,190,65)"/><circle cx="324.65" cy="439.00" r="3.6" fill="rgb(0,200,150)"/>
<circle cx="317.05" cy="441.30" r="6.5" fill="rgb(255,210,45)"/><circle cx="317.05" cy="441.30" r="3.6" fill="rgb(0,165,170)"/>
<circle cx="308.25" cy="439.00" r="6.5" fill="rgb(255,190,65)"/><circle cx="308.25" cy="439.00" r="3.6" fill="rgb(0,160,170)"/>
<g transform="translate(477.65,257.50)" fill="none" stroke="#e7e7e7" stroke-width="3" stroke-linecap="round" stroke-linejoin="round" filter="url(#soft)">
<path d="M-3.00,7.80 C-4.17,7.43 -7.67,6.10 -10.00,5.60 C-12.33,5.10 -14.67,4.57 -17.00,4.80 C-19.33,5.03 -21.75,5.88 -24.00,7.00 C-26.25,8.12 -28.23,10.08 -30.50,11.50 C-32.77,12.92 -35.43,13.83 -37.60,15.50 C-39.77,17.17 -41.43,19.50 -43.50,21.50 C-45.57,23.50 -48.17,25.83 -50.00,27.50 C-51.83,29.17 -52.87,29.68 -54.50,31.50 C-56.13,33.32 -58.08,35.38 -59.80,38.40 C-61.52,41.42 -63.35,45.67 -64.80,49.60 C-66.25,53.53 -67.30,57.77 -68.50,62.00 C-69.70,66.23 -70.83,70.67 -72.00,75.00 C-73.17,79.33 -74.42,84.00 -75.50,88.00 C-76.58,92.00 -77.67,95.33 -78.50,99.00 C-79.33,102.67 -80.12,106.33 -80.50,110.00 C-80.88,113.67 -80.92,117.33 -80.80,121.00 C-80.68,124.67 -80.30,128.33 -79.80,132.00 C-79.30,135.67 -78.63,139.33 -77.80,143.00 C-76.97,146.67 -75.93,150.58 -74.80,154.00 C-73.67,157.42 -72.30,160.58 -71.00,163.50 C-69.70,166.42 -68.75,169.00 -67.00,171.50 C-65.25,174.00 -62.75,176.33 -60.50,178.50 C-58.25,180.67 -55.92,182.67 -53.50,184.50 C-51.08,186.33 -48.75,187.83 -46.00,189.50 C-43.25,191.17 -40.17,193.00 -37.00,194.50 C-33.83,196.00 -30.50,197.50 -27.00,198.50 C-23.50,199.50 -19.50,200.08 -16.00,200.50 C-12.50,200.92 -8.67,201.33 -6.00,201.00 C-3.33,200.67 -1.00,198.92 0.00,198.50"/><path d="M-0.30,3.00 C0.58,2.65 2.95,1.18 5.00,0.90 C7.05,0.62 9.67,0.65 12.00,1.30 C14.33,1.95 16.83,3.82 19.00,4.80 C21.17,5.78 23.08,6.25 25.00,7.20 C26.92,8.15 28.40,9.12 30.50,10.50 C32.60,11.88 35.43,13.67 37.60,15.50 C39.77,17.33 41.43,19.50 43.50,21.50 C45.57,23.50 48.17,25.83 50.00,27.50 C51.83,29.17 52.87,29.68 54.50,31.50 C56.13,33.32 58.08,35.38 59.80,38.40 C61.52,41.42 63.35,45.67 64.80,49.60 C66.25,53.53 67.30,57.77 68.50,62.00 C69.70,66.23 70.83,70.67 72.00,75.00 C73.17,79.33 74.42,84.00 75.50,88.00 C76.58,92.00 77.67,95.33 78.50,99.00 C79.33,102.67 80.12,106.33 80.50,110.00 C80.88,113.67 80.92,117.33 80.80,121.00 C80.68,124.67 80.30,128.33 79.80,132.00 C79.30,135.67 78.63,139.33 77.80,143.00 C76.97,146.67 75.93,150.58 74.80,154.00 C73.67,157.42 72.30,160.58 71.00,163.50 C69.70,166.42 68.75,169.00 67.00,171.50 C65.25,174.00 62.75,176.33 60.50,178.50 C58.25,180.67 55.92,182.67 53.50,184.50 C51.08,186.33 48.75,187.83 46.00,189.50 C43.25,191.17 40.17,193.00 37.00,194.50 C33.83,196.00 30.50,197.50 27.00,198.50 C23.50,199.50 19.50,200.08 16.00,200.50 C12.50,200.92 8.67,201.33 6.00,201.00 C3.33,200.67 1.00,198.92 0.00,198.50"/>
<path d="M-2,7 C2,20 -1,35 0.5,50 C2,65 -1,80 0.8,95 C2.5,110 0,125 1,140 C2,155 -1,170 0.5,185 L0,197" stroke-width="4"/>
<path d="M0.5,30 C-3,24 -7,20 -12,18 M0.5,30 C4,24 8,21 13,19 M0.8,62 C-4,56 -9,52 -15,51 M0.8,62 C5,56 10,53 16,52 M0.8,104 C-4,97 -8,93 -13,92 M0.8,104 C5,97 9,94 14,93 M1,150 C-5,158 -10,162 -16,164 M1,150 C6,158 11,162 17,164 M0.5,178 C-4,184 -8,188 -13,190 M0.5,178 C5,184 9,188 14,190" stroke-width="3"/>
<path d="M-5.30,10.60 C-7.50,10.83 -14.78,10.90 -18.50,12.00 C-22.22,13.10 -24.77,15.23 -27.60,17.20 C-30.43,19.17 -32.77,21.33 -35.50,23.80 C-38.23,26.27 -41.37,29.15 -44.00,32.00 C-46.63,34.85 -48.98,37.88 -51.30,40.90 C-53.62,43.92 -55.93,46.82 -57.90,50.10 C-59.87,53.38 -61.58,57.62 -63.10,60.60 C-64.62,63.58 -66.35,66.77 -67.00,68.00"/>
<path d="M5.30,10.60 C7.50,10.83 14.78,10.90 18.50,12.00 C22.22,13.10 24.77,15.23 27.60,17.20 C30.43,19.17 32.77,21.33 35.50,23.80 C38.23,26.27 41.37,29.15 44.00,32.00 C46.63,34.85 48.98,37.88 51.30,40.90 C53.62,43.92 55.93,46.82 57.90,50.10 C59.87,53.38 61.58,57.62 63.10,60.60 C64.62,63.58 66.35,66.77 67.00,68.00"/>
<path d="M-69.00,76.00 C-69.42,77.67 -70.92,82.33 -71.50,86.00 C-72.08,89.67 -72.42,94.33 -72.50,98.00 C-72.58,101.67 -72.08,106.33 -72.00,108.00"/>
<path d="M69.00,76.00 C69.42,77.67 70.92,82.33 71.50,86.00 C72.08,89.67 72.42,94.33 72.50,98.00 C72.58,101.67 72.08,106.33 72.00,108.00"/>
<path d="M-35.50,36.90 C-35.17,38.25 -34.15,42.37 -33.50,45.00 C-32.85,47.63 -31.92,51.42 -31.60,52.70"/>
<path d="M35.50,36.90 C35.17,38.25 34.15,42.37 33.50,45.00 C32.85,47.63 31.92,51.42 31.60,52.70"/>
<path d="M-51.30,44.80 C-50.42,44.58 -47.75,43.72 -46.00,43.50 C-44.25,43.28 -41.67,43.50 -40.80,43.50"/>
<path d="M51.30,44.80 C50.42,44.58 47.75,43.72 46.00,43.50 C44.25,43.28 41.67,43.50 40.80,43.50"/>
<path d="M-21.10,50.10 C-20.00,50.53 -16.25,53.15 -14.50,52.70 C-12.75,52.25 -11.25,48.28 -10.60,47.40"/>
<path d="M21.10,50.10 C20.00,50.53 16.25,53.15 14.50,52.70 C12.75,52.25 11.25,48.28 10.60,47.40"/>
<path d="M-14.50,52.70 C-14.72,54.33 -15.58,60.87 -15.80,62.50"/>
<path d="M14.50,52.70 C14.72,54.33 15.58,60.87 15.80,62.50"/>
<path d="M-42.00,60.00 C-41.83,61.67 -41.20,67.13 -41.00,70.00 C-40.80,72.87 -41.47,74.70 -40.80,77.20 C-40.13,79.70 -38.10,82.82 -37.00,85.00 C-35.90,87.18 -35.70,88.63 -34.20,90.30 C-32.70,91.97 -30.18,93.68 -28.00,95.00 C-25.82,96.32 -23.77,97.53 -21.10,98.20 C-18.43,98.87 -13.52,98.87 -12.00,99.00"/>
<path d="M42.00,60.00 C41.83,61.67 41.20,67.13 41.00,70.00 C40.80,72.87 41.47,74.70 40.80,77.20 C40.13,79.70 38.10,82.82 37.00,85.00 C35.90,87.18 35.70,88.63 34.20,90.30 C32.70,91.97 30.18,93.68 28.00,95.00 C25.82,96.32 23.77,97.53 21.10,98.20 C18.43,98.87 13.52,98.87 12.00,99.00"/>
<path d="M-29.00,74.60 C-27.50,74.33 -22.83,73.35 -20.00,73.00 C-17.17,72.65 -14.50,72.67 -12.00,72.50 C-9.50,72.33 -6.17,72.08 -5.00,72.00"/>
<path d="M29.00,74.60 C27.50,74.33 22.83,73.35 20.00,73.00 C17.17,72.65 14.50,72.67 12.00,72.50 C9.50,72.33 6.17,72.08 5.00,72.00"/>
<path d="M-79.00,114.00 C-77.50,113.50 -73.52,111.67 -70.00,111.00 C-66.48,110.33 -61.57,110.08 -57.90,110.00 C-54.23,109.92 -50.85,110.05 -48.00,110.50 C-45.15,110.95 -43.30,111.95 -40.80,112.70 C-38.30,113.45 -35.63,114.35 -33.00,115.00 C-30.37,115.65 -26.33,116.33 -25.00,116.60"/>
<path d="M79.00,114.00 C77.50,113.50 73.52,111.67 70.00,111.00 C66.48,110.33 61.57,110.08 57.90,110.00 C54.23,109.92 50.85,110.05 48.00,110.50 C45.15,110.95 43.30,111.95 40.80,112.70 C38.30,113.45 35.63,114.35 33.00,115.00 C30.37,115.65 26.33,116.33 25.00,116.60"/>
<path d="M-51.30,120.10 C-49.75,120.75 -45.72,122.25 -42.00,124.00 C-38.28,125.75 -33.37,128.18 -29.00,130.60 C-24.63,133.02 -19.97,136.10 -15.80,138.50 C-11.63,140.90 -5.97,143.92 -4.00,145.00"/>
<path d="M51.30,120.10 C49.75,120.75 45.72,122.25 42.00,124.00 C38.28,125.75 33.37,128.18 29.00,130.60 C24.63,133.02 19.97,136.10 15.80,138.50 C11.63,140.90 5.97,143.92 4.00,145.00"/>
<path d="M-32.90,128.00 C-32.08,129.67 -29.53,134.72 -28.00,138.00 C-26.47,141.28 -26.60,145.42 -23.70,147.70 C-20.80,149.98 -14.05,151.15 -10.60,151.70 C-7.15,152.25 -4.27,151.12 -3.00,151.00"/>
<path d="M32.90,128.00 C32.08,129.67 29.53,134.72 28.00,138.00 C26.47,141.28 26.60,145.42 23.70,147.70 C20.80,149.98 14.05,151.15 10.60,151.70 C7.15,152.25 4.27,151.12 3.00,151.00"/>
<path d="M-73.60,150.30 C-71.42,150.75 -65.32,151.80 -60.50,153.00 C-55.68,154.20 -49.95,156.08 -44.70,157.50 C-39.45,158.92 -34.03,160.58 -29.00,161.50 C-23.97,162.42 -16.92,162.75 -14.50,163.00"/>
<path d="M73.60,150.30 C71.42,150.75 65.32,151.80 60.50,153.00 C55.68,154.20 49.95,156.08 44.70,157.50 C39.45,158.92 34.03,160.58 29.00,161.50 C23.97,162.42 16.92,162.75 14.50,163.00"/>
<path d="M-64.50,124.00 C-64.27,125.55 -63.33,131.75 -63.10,133.30"/>
<path d="M64.50,124.00 C64.27,125.55 63.33,131.75 63.10,133.30"/>
<path d="M-40.80,134.60 C-41.02,135.47 -41.88,138.93 -42.10,139.80"/>
<path d="M40.80,134.60 C41.02,135.47 41.88,138.93 42.10,139.80"/>
<path d="M-60.50,169.30 C-58.32,170.62 -52.48,174.58 -47.40,177.20 C-42.32,179.82 -36.13,182.58 -30.00,185.00 C-23.87,187.42 -15.27,190.53 -10.60,191.70 C-5.93,192.87 -3.43,191.95 -2.00,192.00"/>
<path d="M60.50,169.30 C58.32,170.62 52.48,174.58 47.40,177.20 C42.32,179.82 36.13,182.58 30.00,185.00 C23.87,187.42 15.27,190.53 10.60,191.70 C5.93,192.87 3.43,191.95 2.00,192.00"/>
<path d="M-47.40,170.60 C-44.77,170.83 -36.87,172.00 -31.60,172.00 C-26.33,172.00 -20.62,171.70 -15.80,170.60 C-10.98,169.50 -4.88,166.27 -2.70,165.40"/>
<path d="M47.40,170.60 C44.77,170.83 36.87,172.00 31.60,172.00 C26.33,172.00 20.62,171.70 15.80,170.60 C10.98,169.50 4.88,166.27 2.70,165.40"/>
<path d="M-8.00,13.00 C-9.17,14.17 -13.17,16.67 -15.00,20.00 C-16.83,23.33 -18.50,28.67 -19.00,33.00 C-19.50,37.33 -17.67,41.50 -18.00,46.00 C-18.33,50.50 -20.67,56.00 -21.00,60.00 C-21.33,64.00 -20.17,68.33 -20.00,70.00"/>
<path d="M8.00,13.00 C9.17,14.17 13.17,16.67 15.00,20.00 C16.83,23.33 18.50,28.67 19.00,33.00 C19.50,37.33 17.67,41.50 18.00,46.00 C18.33,50.50 20.67,56.00 21.00,60.00 C21.33,64.00 20.17,68.33 20.00,70.00"/>
<path d="M-60.00,80.00 C-58.67,80.67 -53.67,81.67 -52.00,84.00 C-50.33,86.33 -50.33,92.33 -50.00,94.00"/>
<path d="M60.00,80.00 C58.67,80.67 53.67,81.67 52.00,84.00 C50.33,86.33 50.33,92.33 50.00,94.00"/>
<path d="M-66.00,132.00 C-64.67,133.33 -60.33,137.67 -58.00,140.00 C-55.67,142.33 -53.00,145.00 -52.00,146.00"/>
<path d="M66.00,132.00 C64.67,133.33 60.33,137.67 58.00,140.00 C55.67,142.33 53.00,145.00 52.00,146.00"/>
<path d="M-50.00,52.00 C-49.17,53.00 -45.50,55.33 -45.00,58.00 C-44.50,60.67 -46.67,66.33 -47.00,68.00"/>
<path d="M50.00,52.00 C49.17,53.00 45.50,55.33 45.00,58.00 C44.50,60.67 46.67,66.33 47.00,68.00"/>
<path d="M-60.00,95.00 C-61.00,96.17 -65.00,100.83 -66.00,102.00"/>
<path d="M60.00,95.00 C61.00,96.17 65.00,100.83 66.00,102.00"/>
<path d="M-50.00,96.00 C-48.83,96.67 -45.00,98.33 -43.00,100.00 C-41.00,101.67 -38.83,105.00 -38.00,106.00"/>
<path d="M50.00,96.00 C48.83,96.67 45.00,98.33 43.00,100.00 C41.00,101.67 38.83,105.00 38.00,106.00"/>
<path d="M-22.00,82.00 C-20.83,82.83 -17.67,86.50 -15.00,87.00 C-12.33,87.50 -7.50,85.33 -6.00,85.00"/>
<path d="M22.00,82.00 C20.83,82.83 17.67,86.50 15.00,87.00 C12.33,87.50 7.50,85.33 6.00,85.00"/>
<path d="M-19.00,104.00 C-17.67,104.67 -12.33,107.33 -11.00,108.00"/>
<path d="M19.00,104.00 C17.67,104.67 12.33,107.33 11.00,108.00"/>
<path d="M-72.00,140.00 C-70.67,141.00 -65.33,145.00 -64.00,146.00"/>
<path d="M72.00,140.00 C70.67,141.00 65.33,145.00 64.00,146.00"/>
<path d="M-36.00,178.00 C-34.17,178.50 -28.67,180.83 -25.00,181.00 C-21.33,181.17 -15.83,179.33 -14.00,179.00"/>
<path d="M36.00,178.00 C34.17,178.50 28.67,180.83 25.00,181.00 C21.33,181.17 15.83,179.33 14.00,179.00"/>
<path d="M-57.00,186.00 C-55.33,185.50 -48.67,183.50 -47.00,183.00"/>
<path d="M57.00,186.00 C55.33,185.50 48.67,183.50 47.00,183.00"/>
<path d="M-9.00,26.00 C-8.50,27.67 -6.17,33.00 -6.00,36.00 C-5.83,39.00 -7.67,42.67 -8.00,44.00"/>
<path d="M9.00,26.00 C8.50,27.67 6.17,33.00 6.00,36.00 C5.83,39.00 7.67,42.67 8.00,44.00"/>
<path d="M-63.00,70.00 C-61.83,70.67 -57.17,73.33 -56.00,74.00"/>
<path d="M63.00,70.00 C61.83,70.67 57.17,73.33 56.00,74.00"/>
<path d="M-30.00,24.00 C-31.67,24.33 -37.33,26.33 -40.00,26.00 C-42.67,25.67 -45.00,22.67 -46.00,22.00"/>
<path d="M30.00,24.00 C31.67,24.33 37.33,26.33 40.00,26.00 C42.67,25.67 45.00,22.67 46.00,22.00"/>
<path d="M-58.00,160.00 C-56.67,160.83 -51.33,164.17 -50.00,165.00"/>
<path d="M58.00,160.00 C56.67,160.83 51.33,164.17 50.00,165.00"/>
</g>
<circle cx="455.40" cy="276.60" r="6.5" fill="rgb(255,245,10)"/><circle cx="455.40" cy="276.60" r="3.6" fill="rgb(0,165,170)"/>
<circle cx="441.40" cy="290.70" r="6.5" fill="rgb(255,125,130)"/><circle cx="441.40" cy="290.70" r="3.6" fill="rgb(0,30,240)"/>
<circle cx="419.50" cy="296.90" r="6.5" fill="rgb(255,160,95)"/><circle cx="419.50" cy="296.90" r="3.6" fill="rgb(0,30,240)"/>
<circle cx="467.90" cy="286.80" r="6.5" fill="rgb(255,195,60)"/><circle cx="467.90" cy="286.80" r="3.6" fill="rgb(0,120,195)"/>
<circle cx="430.40" cy="327.60" r="6.5" fill="rgb(255,160,95)"/><circle cx="430.40" cy="327.60" r="3.6" fill="rgb(0,120,195)"/>
<circle cx="410.05" cy="347.60" r="6.5" fill="rgb(255,60,200)"/><circle cx="410.05" cy="347.60" r="3.6" fill="rgb(0,30,240)"/>
<circle cx="421.25" cy="361.50" r="6.5" fill="rgb(255,70,185)"/><circle cx="421.25" cy="361.50" r="3.6" fill="rgb(0,110,200)"/>
<circle cx="418.95" cy="352.50" r="6.5" fill="rgb(255,230,25)"/><circle cx="418.95" cy="352.50" r="3.6" fill="rgb(0,130,190)"/>
<circle cx="415.85" cy="341.80" r="6.5" fill="rgb(255,10,245)"/><circle cx="415.85" cy="341.80" r="3.6" fill="rgb(0,20,245)"/>
<circle cx="426.45" cy="335.20" r="6.5" fill="rgb(255,0,255)"/><circle cx="426.45" cy="335.20" r="3.6" fill="rgb(0,0,255)"/>
<circle cx="444.25" cy="358.90" r="6.5" fill="rgb(255,30,230)"/><circle cx="444.25" cy="358.90" r="3.6" fill="rgb(0,40,235)"/>
<circle cx="434.05" cy="360.50" r="6.5" fill="rgb(255,10,245)"/><circle cx="434.05" cy="360.50" r="3.6" fill="rgb(0,10,250)"/>
<circle cx="465.55" cy="352.10" r="6.5" fill="rgb(255,10,245)"/><circle cx="465.55" cy="352.10" r="3.6" fill="rgb(0,10,250)"/>
<circle cx="409.75" cy="394.50" r="6.5" fill="rgb(255,10,245)"/><circle cx="409.75" cy="394.50" r="3.6" fill="rgb(0,40,235)"/>
<circle cx="419.15" cy="399.30" r="6.5" fill="rgb(255,40,215)"/><circle cx="419.15" cy="399.30" r="3.6" fill="rgb(0,60,225)"/>
<circle cx="445.75" cy="404.50" r="6.5" fill="rgb(255,20,235)"/><circle cx="445.75" cy="404.50" r="3.6" fill="rgb(0,40,235)"/>
<circle cx="435.45" cy="405.10" r="6.5" fill="rgb(255,60,200)"/><circle cx="435.45" cy="405.10" r="3.6" fill="rgb(0,50,230)"/>
<circle cx="465.55" cy="401.00" r="6.5" fill="rgb(255,40,215)"/><circle cx="465.55" cy="401.00" r="3.6" fill="rgb(0,100,205)"/>
<circle cx="419.15" cy="421.50" r="6.5" fill="rgb(255,125,130)"/><circle cx="419.15" cy="421.50" r="3.6" fill="rgb(0,80,215)"/>
<circle cx="447.15" cy="439.00" r="6.5" fill="rgb(255,20,235)"/><circle cx="447.15" cy="439.00" r="3.6" fill="rgb(0,110,200)"/>
<circle cx="454.75" cy="441.30" r="6.5" fill="rgb(255,60,200)"/><circle cx="454.75" cy="441.30" r="3.6" fill="rgb(0,40,235)"/>
<circle cx="463.55" cy="439.00" r="6.5" fill="rgb(255,20,235)"/><circle cx="463.55" cy="439.00" r="3.6" fill="rgb(0,0,255)"/>
<circle cx="499.90" cy="276.60" r="6.5" fill="rgb(255,245,10)"/><circle cx="499.90" cy="276.60" r="3.6" fill="rgb(0,165,170)"/>
<circle cx="513.90" cy="290.70" r="6.5" fill="rgb(255,125,130)"/><circle cx="513.90" cy="290.70" r="3.6" fill="rgb(0,20,245)"/>
<circle cx="535.80" cy="296.90" r="6.5" fill="rgb(255,160,95)"/><circle cx="535.80" cy="296.90" r="3.6" fill="rgb(0,30,240)"/>
<circle cx="487.40" cy="286.80" r="6.5" fill="rgb(255,235,20)"/><circle cx="487.40" cy="286.80" r="3.6" fill="rgb(0,125,195)"/>
<circle cx="524.90" cy="327.60" r="6.5" fill="rgb(255,160,95)"/><circle cx="524.90" cy="327.60" r="3.6" fill="rgb(0,120,195)"/>
<circle cx="545.25" cy="347.60" r="6.5" fill="rgb(255,60,200)"/><circle cx="545.25" cy="347.60" r="3.6" fill="rgb(0,20,245)"/>
<circle cx="534.05" cy="361.50" r="6.5" fill="rgb(255,50,205)"/><circle cx="534.05" cy="361.50" r="3.6" fill="rgb(0,90,210)"/>
<circle cx="536.35" cy="352.50" r="6.5" fill="rgb(255,230,25)"/><circle cx="536.35" cy="352.50" r="3.6" fill="rgb(0,125,195)"/>
<circle cx="539.45" cy="341.80" r="6.5" fill="rgb(255,30,225)"/><circle cx="539.45" cy="341.80" r="3.6" fill="rgb(0,40,235)"/>
<circle cx="528.85" cy="335.20" r="6.5" fill="rgb(255,10,245)"/><circle cx="528.85" cy="335.20" r="3.6" fill="rgb(0,10,250)"/>
<circle cx="511.05" cy="358.90" r="6.5" fill="rgb(255,20,235)"/><circle cx="511.05" cy="358.90" r="3.6" fill="rgb(0,30,240)"/>
<circle cx="521.25" cy="360.50" r="6.5" fill="rgb(255,10,245)"/><circle cx="521.25" cy="360.50" r="3.6" fill="rgb(0,20,245)"/>
<circle cx="489.75" cy="352.10" r="6.5" fill="rgb(255,20,235)"/><circle cx="489.75" cy="352.10" r="3.6" fill="rgb(0,20,245)"/>
<circle cx="545.55" cy="394.50" r="6.5" fill="rgb(255,50,205)"/><circle cx="545.55" cy="394.50" r="3.6" fill="rgb(0,30,240)"/>
<circle cx="536.15" cy="399.30" r="6.5" fill="rgb(255,20,235)"/><circle cx="536.15" cy="399.30" r="3.6" fill="rgb(0,40,235)"/>
<circle cx="509.55" cy="404.50" r="6.5" fill="rgb(255,60,200)"/><circle cx="509.55" cy="404.50" r="3.6" fill="rgb(0,80,215)"/>
<circle cx="519.85" cy="405.10" r="6.5" fill="rgb(255,20,235)"/><circle cx="519.85" cy="405.10" r="3.6" fill="rgb(0,30,240)"/>
<circle cx="489.75" cy="401.00" r="6.5" fill="rgb(255,40,215)"/><circle cx="489.75" cy="401.00" r="3.6" fill="rgb(0,90,210)"/>
<circle cx="536.15" cy="421.50" r="6.5" fill="rgb(255,150,100)"/><circle cx="536.15" cy="421.50" r="3.6" fill="rgb(0,70,220)"/>
<circle cx="508.15" cy="439.00" r="6.5" fill="rgb(255,20,235)"/><circle cx="508.15" cy="439.00" r="3.6" fill="rgb(0,110,200)"/>
<circle cx="500.55" cy="441.30" r="6.5" fill="rgb(255,30,225)"/><circle cx="500.55" cy="441.30" r="3.6" fill="rgb(0,40,235)"/>
<circle cx="491.75" cy="439.00" r="6.5" fill="rgb(255,50,205)"/><circle cx="491.75" cy="439.00" r="3.6" fill="rgb(0,40,235)"/>
<g stroke="#000" stroke-width="2.5" fill="none"><line x1="25" y1="458.4" x2="25" y2="410"/><line x1="23.75" y1="457.2" x2="72" y2="457.2"/></g>
<path d="M20.8,411.5 L25,403 L29.2,411.5 Z" fill="#000"/>
<path d="M71,453.2 L79.5,457.2 L71,461.2 Z" fill="#000"/>
<text x="14.14" y="437.20" font-size="13" font-weight="normal" font-style="normal" fill="#111" textLength="6.26" lengthAdjust="spacingAndGlyphs">y</text>
<text x="43.88" y="468.60" font-size="13" font-weight="normal" font-style="normal" fill="#111" textLength="6.25" lengthAdjust="spacingAndGlyphs">x</text>
<rect x="572.2" y="265.5" width="9.2" height="181.1" fill="url(#gwinter)" stroke="#6a6a6a" stroke-width="0.5"/>
<rect x="629.4" y="265.5" width="9.1" height="181.1" fill="url(#gspring)" stroke="#6a6a6a" stroke-width="0.5"/>
<text x="576.88" y="252.30" font-size="14.1" font-weight="normal" font-style="normal" fill="#111" textLength="38.44" lengthAdjust="spacingAndGlyphs">Inner</text>
<text x="641.78" y="252.30" font-size="14.1" font-weight="normal" font-style="normal" fill="#111" textLength="40.08" lengthAdjust="spacingAndGlyphs">Outer</text>
<line x1="581.4" y1="307.1" x2="583.8" y2="307.1" stroke="#6a6a6a" stroke-width="0.9"/>
<text x="584.78" y="310.70" font-size="10.0" font-weight="normal" font-style="normal" fill="#111" textLength="14.59" lengthAdjust="spacingAndGlyphs">0.9</text>
<line x1="581.4" y1="351.0" x2="583.8" y2="351.0" stroke="#6a6a6a" stroke-width="0.9"/>
<text x="584.78" y="354.60" font-size="10.0" font-weight="normal" font-style="normal" fill="#111" textLength="14.54" lengthAdjust="spacingAndGlyphs">0.8</text>
<line x1="581.4" y1="395.7" x2="583.8" y2="395.7" stroke="#6a6a6a" stroke-width="0.9"/>
<text x="584.78" y="399.30" font-size="10.0" font-weight="normal" font-style="normal" fill="#111" textLength="14.65" lengthAdjust="spacingAndGlyphs">0.7</text>
<line x1="581.4" y1="438.9" x2="583.8" y2="438.9" stroke="#6a6a6a" stroke-width="0.9"/>
<text x="584.78" y="442.50" font-size="10.0" font-weight="normal" font-style="normal" fill="#111" textLength="14.54" lengthAdjust="spacingAndGlyphs">0.6</text>
<line x1="638.5" y1="283.1" x2="640.9" y2="283.1" stroke="#6a6a6a" stroke-width="0.9"/>
<text x="641.90" y="286.70" font-size="10.0" font-weight="normal" font-style="normal" fill="#111" textLength="19.57" lengthAdjust="spacingAndGlyphs">0.30</text>
<line x1="638.5" y1="325.7" x2="640.9" y2="325.7" stroke="#6a6a6a" stroke-width="0.9"/>
<text x="641.90" y="329.30" font-size="10.0" font-weight="normal" font-style="normal" fill="#111" textLength="19.62" lengthAdjust="spacingAndGlyphs">0.25</text>
<line x1="638.5" y1="368.0" x2="640.9" y2="368.0" stroke="#6a6a6a" stroke-width="0.9"/>
<text x="641.90" y="371.60" font-size="10.0" font-weight="normal" font-style="normal" fill="#111" textLength="19.57" lengthAdjust="spacingAndGlyphs">0.20</text>
<line x1="638.5" y1="409.9" x2="640.9" y2="409.9" stroke="#6a6a6a" stroke-width="0.9"/>
<text x="641.90" y="413.50" font-size="10.0" font-weight="normal" font-style="normal" fill="#111" textLength="19.62" lengthAdjust="spacingAndGlyphs">0.15</text>
<g transform="translate(612.4,357.3) rotate(-90)"><text font-size="12.5" fill="#111" text-anchor="middle"><tspan font-style="italic">mean</tspan>[ <tspan font-style="italic" text-decoration="overline">λ</tspan><tspan font-size="8" dy="2.5" font-style="italic">G</tspan><tspan dy="-2.5"> ]</tspan></text></g>
<g transform="translate(674.6,357.3) rotate(-90)"><text font-size="12.5" fill="#111" text-anchor="middle"><tspan font-style="italic">std</tspan>[ <tspan font-style="italic" text-decoration="overline">λ</tspan><tspan font-size="8" dy="2.5" font-style="italic">G</tspan><tspan dy="-2.5"> ]</tspan></text></g>
<text x="0.89" y="487.00" font-size="23" font-weight="bold" font-style="normal" fill="#000" textLength="16.93" lengthAdjust="spacingAndGlyphs">d</text>
<text x="67.87" y="482.50" font-size="14.3" font-weight="normal" font-style="normal" fill="#111" textLength="85.56" lengthAdjust="spacingAndGlyphs">PD OFF - ON</text>
<text x="254.75" y="482.70" font-size="14.3" font-weight="normal" font-style="normal" fill="#111" textLength="79.16" lengthAdjust="spacingAndGlyphs">PD ON - HC</text>
<text x="435.47" y="482.30" font-size="14.3" font-weight="normal" font-style="normal" fill="#111" textLength="84.79" lengthAdjust="spacingAndGlyphs">PD OFF - HC</text>
<g transform="translate(110.65,491.20)" fill="none" stroke="#e7e7e7" stroke-width="3" stroke-linecap="round" stroke-linejoin="round" filter="url(#soft)">
<path d="M-3.00,7.80 C-4.17,7.43 -7.67,6.10 -10.00,5.60 C-12.33,5.10 -14.67,4.57 -17.00,4.80 C-19.33,5.03 -21.75,5.88 -24.00,7.00 C-26.25,8.12 -28.23,10.08 -30.50,11.50 C-32.77,12.92 -35.43,13.83 -37.60,15.50 C-39.77,17.17 -41.43,19.50 -43.50,21.50 C-45.57,23.50 -48.17,25.83 -50.00,27.50 C-51.83,29.17 -52.87,29.68 -54.50,31.50 C-56.13,33.32 -58.08,35.38 -59.80,38.40 C-61.52,41.42 -63.35,45.67 -64.80,49.60 C-66.25,53.53 -67.30,57.77 -68.50,62.00 C-69.70,66.23 -70.83,70.67 -72.00,75.00 C-73.17,79.33 -74.42,84.00 -75.50,88.00 C-76.58,92.00 -77.67,95.33 -78.50,99.00 C-79.33,102.67 -80.12,106.33 -80.50,110.00 C-80.88,113.67 -80.92,117.33 -80.80,121.00 C-80.68,124.67 -80.30,128.33 -79.80,132.00 C-79.30,135.67 -78.63,139.33 -77.80,143.00 C-76.97,146.67 -75.93,150.58 -74.80,154.00 C-73.67,157.42 -72.30,160.58 -71.00,163.50 C-69.70,166.42 -68.75,169.00 -67.00,171.50 C-65.25,174.00 -62.75,176.33 -60.50,178.50 C-58.25,180.67 -55.92,182.67 -53.50,184.50 C-51.08,186.33 -48.75,187.83 -46.00,189.50 C-43.25,191.17 -40.17,193.00 -37.00,194.50 C-33.83,196.00 -30.50,197.50 -27.00,198.50 C-23.50,199.50 -19.50,200.08 -16.00,200.50 C-12.50,200.92 -8.67,201.33 -6.00,201.00 C-3.33,200.67 -1.00,198.92 0.00,198.50"/><path d="M-0.30,3.00 C0.58,2.65 2.95,1.18 5.00,0.90 C7.05,0.62 9.67,0.65 12.00,1.30 C14.33,1.95 16.83,3.82 19.00,4.80 C21.17,5.78 23.08,6.25 25.00,7.20 C26.92,8.15 28.40,9.12 30.50,10.50 C32.60,11.88 35.43,13.67 37.60,15.50 C39.77,17.33 41.43,19.50 43.50,21.50 C45.57,23.50 48.17,25.83 50.00,27.50 C51.83,29.17 52.87,29.68 54.50,31.50 C56.13,33.32 58.08,35.38 59.80,38.40 C61.52,41.42 63.35,45.67 64.80,49.60 C66.25,53.53 67.30,57.77 68.50,62.00 C69.70,66.23 70.83,70.67 72.00,75.00 C73.17,79.33 74.42,84.00 75.50,88.00 C76.58,92.00 77.67,95.33 78.50,99.00 C79.33,102.67 80.12,106.33 80.50,110.00 C80.88,113.67 80.92,117.33 80.80,121.00 C80.68,124.67 80.30,128.33 79.80,132.00 C79.30,135.67 78.63,139.33 77.80,143.00 C76.97,146.67 75.93,150.58 74.80,154.00 C73.67,157.42 72.30,160.58 71.00,163.50 C69.70,166.42 68.75,169.00 67.00,171.50 C65.25,174.00 62.75,176.33 60.50,178.50 C58.25,180.67 55.92,182.67 53.50,184.50 C51.08,186.33 48.75,187.83 46.00,189.50 C43.25,191.17 40.17,193.00 37.00,194.50 C33.83,196.00 30.50,197.50 27.00,198.50 C23.50,199.50 19.50,200.08 16.00,200.50 C12.50,200.92 8.67,201.33 6.00,201.00 C3.33,200.67 1.00,198.92 0.00,198.50"/>
<path d="M-2,7 C2,20 -1,35 0.5,50 C2,65 -1,80 0.8,95 C2.5,110 0,125 1,140 C2,155 -1,170 0.5,185 L0,197" stroke-width="4"/>
<path d="M0.5,30 C-3,24 -7,20 -12,18 M0.5,30 C4,24 8,21 13,19 M0.8,62 C-4,56 -9,52 -15,51 M0.8,62 C5,56 10,53 16,52 M0.8,104 C-4,97 -8,93 -13,92 M0.8,104 C5,97 9,94 14,93 M1,150 C-5,158 -10,162 -16,164 M1,150 C6,158 11,162 17,164 M0.5,178 C-4,184 -8,188 -13,190 M0.5,178 C5,184 9,188 14,190" stroke-width="3"/>
<path d="M-5.30,10.60 C-7.50,10.83 -14.78,10.90 -18.50,12.00 C-22.22,13.10 -24.77,15.23 -27.60,17.20 C-30.43,19.17 -32.77,21.33 -35.50,23.80 C-38.23,26.27 -41.37,29.15 -44.00,32.00 C-46.63,34.85 -48.98,37.88 -51.30,40.90 C-53.62,43.92 -55.93,46.82 -57.90,50.10 C-59.87,53.38 -61.58,57.62 -63.10,60.60 C-64.62,63.58 -66.35,66.77 -67.00,68.00"/>
<path d="M5.30,10.60 C7.50,10.83 14.78,10.90 18.50,12.00 C22.22,13.10 24.77,15.23 27.60,17.20 C30.43,19.17 32.77,21.33 35.50,23.80 C38.23,26.27 41.37,29.15 44.00,32.00 C46.63,34.85 48.98,37.88 51.30,40.90 C53.62,43.92 55.93,46.82 57.90,50.10 C59.87,53.38 61.58,57.62 63.10,60.60 C64.62,63.58 66.35,66.77 67.00,68.00"/>
<path d="M-69.00,76.00 C-69.42,77.67 -70.92,82.33 -71.50,86.00 C-72.08,89.67 -72.42,94.33 -72.50,98.00 C-72.58,101.67 -72.08,106.33 -72.00,108.00"/>
<path d="M69.00,76.00 C69.42,77.67 70.92,82.33 71.50,86.00 C72.08,89.67 72.42,94.33 72.50,98.00 C72.58,101.67 72.08,106.33 72.00,108.00"/>
<path d="M-35.50,36.90 C-35.17,38.25 -34.15,42.37 -33.50,45.00 C-32.85,47.63 -31.92,51.42 -31.60,52.70"/>
<path d="M35.50,36.90 C35.17,38.25 34.15,42.37 33.50,45.00 C32.85,47.63 31.92,51.42 31.60,52.70"/>
<path d="M-51.30,44.80 C-50.42,44.58 -47.75,43.72 -46.00,43.50 C-44.25,43.28 -41.67,43.50 -40.80,43.50"/>
<path d="M51.30,44.80 C50.42,44.58 47.75,43.72 46.00,43.50 C44.25,43.28 41.67,43.50 40.80,43.50"/>
<path d="M-21.10,50.10 C-20.00,50.53 -16.25,53.15 -14.50,52.70 C-12.75,52.25 -11.25,48.28 -10.60,47.40"/>
<path d="M21.10,50.10 C20.00,50.53 16.25,53.15 14.50,52.70 C12.75,52.25 11.25,48.28 10.60,47.40"/>
<path d="M-14.50,52.70 C-14.72,54.33 -15.58,60.87 -15.80,62.50"/>
<path d="M14.50,52.70 C14.72,54.33 15.58,60.87 15.80,62.50"/>
<path d="M-42.00,60.00 C-41.83,61.67 -41.20,67.13 -41.00,70.00 C-40.80,72.87 -41.47,74.70 -40.80,77.20 C-40.13,79.70 -38.10,82.82 -37.00,85.00 C-35.90,87.18 -35.70,88.63 -34.20,90.30 C-32.70,91.97 -30.18,93.68 -28.00,95.00 C-25.82,96.32 -23.77,97.53 -21.10,98.20 C-18.43,98.87 -13.52,98.87 -12.00,99.00"/>
<path d="M42.00,60.00 C41.83,61.67 41.20,67.13 41.00,70.00 C40.80,72.87 41.47,74.70 40.80,77.20 C40.13,79.70 38.10,82.82 37.00,85.00 C35.90,87.18 35.70,88.63 34.20,90.30 C32.70,91.97 30.18,93.68 28.00,95.00 C25.82,96.32 23.77,97.53 21.10,98.20 C18.43,98.87 13.52,98.87 12.00,99.00"/>
<path d="M-29.00,74.60 C-27.50,74.33 -22.83,73.35 -20.00,73.00 C-17.17,72.65 -14.50,72.67 -12.00,72.50 C-9.50,72.33 -6.17,72.08 -5.00,72.00"/>
<path d="M29.00,74.60 C27.50,74.33 22.83,73.35 20.00,73.00 C17.17,72.65 14.50,72.67 12.00,72.50 C9.50,72.33 6.17,72.08 5.00,72.00"/>
<path d="M-79.00,114.00 C-77.50,113.50 -73.52,111.67 -70.00,111.00 C-66.48,110.33 -61.57,110.08 -57.90,110.00 C-54.23,109.92 -50.85,110.05 -48.00,110.50 C-45.15,110.95 -43.30,111.95 -40.80,112.70 C-38.30,113.45 -35.63,114.35 -33.00,115.00 C-30.37,115.65 -26.33,116.33 -25.00,116.60"/>
<path d="M79.00,114.00 C77.50,113.50 73.52,111.67 70.00,111.00 C66.48,110.33 61.57,110.08 57.90,110.00 C54.23,109.92 50.85,110.05 48.00,110.50 C45.15,110.95 43.30,111.95 40.80,112.70 C38.30,113.45 35.63,114.35 33.00,115.00 C30.37,115.65 26.33,116.33 25.00,116.60"/>
<path d="M-51.30,120.10 C-49.75,120.75 -45.72,122.25 -42.00,124.00 C-38.28,125.75 -33.37,128.18 -29.00,130.60 C-24.63,133.02 -19.97,136.10 -15.80,138.50 C-11.63,140.90 -5.97,143.92 -4.00,145.00"/>
<path d="M51.30,120.10 C49.75,120.75 45.72,122.25 42.00,124.00 C38.28,125.75 33.37,128.18 29.00,130.60 C24.63,133.02 19.97,136.10 15.80,138.50 C11.63,140.90 5.97,143.92 4.00,145.00"/>
<path d="M-32.90,128.00 C-32.08,129.67 -29.53,134.72 -28.00,138.00 C-26.47,141.28 -26.60,145.42 -23.70,147.70 C-20.80,149.98 -14.05,151.15 -10.60,151.70 C-7.15,152.25 -4.27,151.12 -3.00,151.00"/>
<path d="M32.90,128.00 C32.08,129.67 29.53,134.72 28.00,138.00 C26.47,141.28 26.60,145.42 23.70,147.70 C20.80,149.98 14.05,151.15 10.60,151.70 C7.15,152.25 4.27,151.12 3.00,151.00"/>
<path d="M-73.60,150.30 C-71.42,150.75 -65.32,151.80 -60.50,153.00 C-55.68,154.20 -49.95,156.08 -44.70,157.50 C-39.45,158.92 -34.03,160.58 -29.00,161.50 C-23.97,162.42 -16.92,162.75 -14.50,163.00"/>
<path d="M73.60,150.30 C71.42,150.75 65.32,151.80 60.50,153.00 C55.68,154.20 49.95,156.08 44.70,157.50 C39.45,158.92 34.03,160.58 29.00,161.50 C23.97,162.42 16.92,162.75 14.50,163.00"/>
<path d="M-64.50,124.00 C-64.27,125.55 -63.33,131.75 -63.10,133.30"/>
<path d="M64.50,124.00 C64.27,125.55 63.33,131.75 63.10,133.30"/>
<path d="M-40.80,134.60 C-41.02,135.47 -41.88,138.93 -42.10,139.80"/>
<path d="M40.80,134.60 C41.02,135.47 41.88,138.93 42.10,139.80"/>
<path d="M-60.50,169.30 C-58.32,170.62 -52.48,174.58 -47.40,177.20 C-42.32,179.82 -36.13,182.58 -30.00,185.00 C-23.87,187.42 -15.27,190.53 -10.60,191.70 C-5.93,192.87 -3.43,191.95 -2.00,192.00"/>
<path d="M60.50,169.30 C58.32,170.62 52.48,174.58 47.40,177.20 C42.32,179.82 36.13,182.58 30.00,185.00 C23.87,187.42 15.27,190.53 10.60,191.70 C5.93,192.87 3.43,191.95 2.00,192.00"/>
<path d="M-47.40,170.60 C-44.77,170.83 -36.87,172.00 -31.60,172.00 C-26.33,172.00 -20.62,171.70 -15.80,170.60 C-10.98,169.50 -4.88,166.27 -2.70,165.40"/>
<path d="M47.40,170.60 C44.77,170.83 36.87,172.00 31.60,172.00 C26.33,172.00 20.62,171.70 15.80,170.60 C10.98,169.50 4.88,166.27 2.70,165.40"/>
<path d="M-8.00,13.00 C-9.17,14.17 -13.17,16.67 -15.00,20.00 C-16.83,23.33 -18.50,28.67 -19.00,33.00 C-19.50,37.33 -17.67,41.50 -18.00,46.00 C-18.33,50.50 -20.67,56.00 -21.00,60.00 C-21.33,64.00 -20.17,68.33 -20.00,70.00"/>
<path d="M8.00,13.00 C9.17,14.17 13.17,16.67 15.00,20.00 C16.83,23.33 18.50,28.67 19.00,33.00 C19.50,37.33 17.67,41.50 18.00,46.00 C18.33,50.50 20.67,56.00 21.00,60.00 C21.33,64.00 20.17,68.33 20.00,70.00"/>
<path d="M-60.00,80.00 C-58.67,80.67 -53.67,81.67 -52.00,84.00 C-50.33,86.33 -50.33,92.33 -50.00,94.00"/>
<path d="M60.00,80.00 C58.67,80.67 53.67,81.67 52.00,84.00 C50.33,86.33 50.33,92.33 50.00,94.00"/>
<path d="M-66.00,132.00 C-64.67,133.33 -60.33,137.67 -58.00,140.00 C-55.67,142.33 -53.00,145.00 -52.00,146.00"/>
<path d="M66.00,132.00 C64.67,133.33 60.33,137.67 58.00,140.00 C55.67,142.33 53.00,145.00 52.00,146.00"/>
<path d="M-50.00,52.00 C-49.17,53.00 -45.50,55.33 -45.00,58.00 C-44.50,60.67 -46.67,66.33 -47.00,68.00"/>
<path d="M50.00,52.00 C49.17,53.00 45.50,55.33 45.00,58.00 C44.50,60.67 46.67,66.33 47.00,68.00"/>
<path d="M-60.00,95.00 C-61.00,96.17 -65.00,100.83 -66.00,102.00"/>
<path d="M60.00,95.00 C61.00,96.17 65.00,100.83 66.00,102.00"/>
<path d="M-50.00,96.00 C-48.83,96.67 -45.00,98.33 -43.00,100.00 C-41.00,101.67 -38.83,105.00 -38.00,106.00"/>
<path d="M50.00,96.00 C48.83,96.67 45.00,98.33 43.00,100.00 C41.00,101.67 38.83,105.00 38.00,106.00"/>
<path d="M-22.00,82.00 C-20.83,82.83 -17.67,86.50 -15.00,87.00 C-12.33,87.50 -7.50,85.33 -6.00,85.00"/>
<path d="M22.00,82.00 C20.83,82.83 17.67,86.50 15.00,87.00 C12.33,87.50 7.50,85.33 6.00,85.00"/>
<path d="M-19.00,104.00 C-17.67,104.67 -12.33,107.33 -11.00,108.00"/>
<path d="M19.00,104.00 C17.67,104.67 12.33,107.33 11.00,108.00"/>
<path d="M-72.00,140.00 C-70.67,141.00 -65.33,145.00 -64.00,146.00"/>
<path d="M72.00,140.00 C70.67,141.00 65.33,145.00 64.00,146.00"/>
<path d="M-36.00,178.00 C-34.17,178.50 -28.67,180.83 -25.00,181.00 C-21.33,181.17 -15.83,179.33 -14.00,179.00"/>
<path d="M36.00,178.00 C34.17,178.50 28.67,180.83 25.00,181.00 C21.33,181.17 15.83,179.33 14.00,179.00"/>
<path d="M-57.00,186.00 C-55.33,185.50 -48.67,183.50 -47.00,183.00"/>
<path d="M57.00,186.00 C55.33,185.50 48.67,183.50 47.00,183.00"/>
<path d="M-9.00,26.00 C-8.50,27.67 -6.17,33.00 -6.00,36.00 C-5.83,39.00 -7.67,42.67 -8.00,44.00"/>
<path d="M9.00,26.00 C8.50,27.67 6.17,33.00 6.00,36.00 C5.83,39.00 7.67,42.67 8.00,44.00"/>
<path d="M-63.00,70.00 C-61.83,70.67 -57.17,73.33 -56.00,74.00"/>
<path d="M63.00,70.00 C61.83,70.67 57.17,73.33 56.00,74.00"/>
<path d="M-30.00,24.00 C-31.67,24.33 -37.33,26.33 -40.00,26.00 C-42.67,25.67 -45.00,22.67 -46.00,22.00"/>
<path d="M30.00,24.00 C31.67,24.33 37.33,26.33 40.00,26.00 C42.67,25.67 45.00,22.67 46.00,22.00"/>
<path d="M-58.00,160.00 C-56.67,160.83 -51.33,164.17 -50.00,165.00"/>
<path d="M58.00,160.00 C56.67,160.83 51.33,164.17 50.00,165.00"/>
</g>
<circle cx="88.40" cy="510.30" r="6.5" fill="rgb(80,170,100)"/><circle cx="88.40" cy="510.30" r="3.6" fill="rgb(232,232,255)"/>
<circle cx="74.40" cy="524.40" r="6.5" fill="rgb(110,185,100)"/><circle cx="74.40" cy="524.40" r="3.6" fill="rgb(212,212,255)"/>
<circle cx="52.50" cy="530.60" r="6.5" fill="rgb(30,140,100)"/><circle cx="52.50" cy="530.60" r="3.6" fill="rgb(252,252,255)"/>
<circle cx="100.90" cy="520.50" r="6.5" fill="rgb(25,140,100)"/><circle cx="100.90" cy="520.50" r="3.6" fill="rgb(240,240,255)"/>
<circle cx="63.40" cy="561.30" r="6.5" fill="rgb(85,170,100)"/><circle cx="63.40" cy="561.30" r="3.6" fill="rgb(235,235,255)"/>
<circle cx="43.05" cy="581.30" r="6.5" fill="rgb(190,225,100)"/><circle cx="43.05" cy="581.30" r="3.6" fill="rgb(180,180,255)"/>
<circle cx="54.25" cy="595.20" r="6.5" fill="rgb(160,210,100)"/><circle cx="54.25" cy="595.20" r="3.6" fill="rgb(190,190,255)"/>
<circle cx="51.95" cy="586.20" r="6.5" fill="rgb(150,205,100)"/><circle cx="51.95" cy="586.20" r="3.6" fill="rgb(205,205,255)"/>
<circle cx="48.85" cy="575.50" r="6.5" fill="rgb(150,205,100)"/><circle cx="48.85" cy="575.50" r="3.6" fill="rgb(225,225,255)"/>
<circle cx="59.45" cy="568.90" r="6.5" fill="rgb(30,140,100)"/><circle cx="59.45" cy="568.90" r="3.6" fill="rgb(255,228,228)"/>
<circle cx="77.25" cy="592.60" r="6.5" fill="rgb(230,245,100)"/><circle cx="77.25" cy="592.60" r="3.6" fill="rgb(225,225,255)"/>
<circle cx="67.05" cy="594.20" r="6.5" fill="rgb(30,140,100)"/><circle cx="67.05" cy="594.20" r="3.6" fill="rgb(255,228,228)"/>
<circle cx="98.55" cy="585.80" r="6.5" fill="rgb(30,140,100)"/><circle cx="98.55" cy="585.80" r="3.6" fill="rgb(250,250,255)"/>
<circle cx="42.75" cy="628.20" r="6.5" fill="rgb(248,250,80)"/><circle cx="42.75" cy="628.20" r="3.6" fill="rgb(200,200,255)"/>
<circle cx="52.15" cy="633.00" r="6.5" fill="rgb(140,200,100)"/><circle cx="52.15" cy="633.00" r="3.6" fill="rgb(245,245,255)"/>
<circle cx="78.75" cy="638.20" r="6.5" fill="rgb(80,170,100)"/><circle cx="78.75" cy="638.20" r="3.6" fill="rgb(255,245,245)"/>
<circle cx="68.45" cy="638.80" r="6.5" fill="rgb(248,250,80)"/><circle cx="68.45" cy="638.80" r="3.6" fill="rgb(195,195,255)"/>
<circle cx="98.55" cy="634.70" r="6.5" fill="rgb(140,200,100)"/><circle cx="98.55" cy="634.70" r="3.6" fill="rgb(245,245,255)"/>
<circle cx="52.15" cy="655.20" r="6.5" fill="rgb(140,200,100)"/><circle cx="52.15" cy="655.20" r="3.6" fill="rgb(225,225,255)"/>
<circle cx="80.15" cy="672.70" r="6.5" fill="rgb(180,220,100)"/><circle cx="80.15" cy="672.70" r="3.6" fill="rgb(205,205,255)"/>
<circle cx="87.75" cy="675.00" r="6.5" fill="rgb(150,205,100)"/><circle cx="87.75" cy="675.00" r="3.6" fill="rgb(180,180,255)"/>
<circle cx="96.55" cy="672.70" r="6.5" fill="rgb(170,215,100)"/><circle cx="96.55" cy="672.70" r="3.6" fill="rgb(190,190,255)"/>
<circle cx="132.90" cy="510.30" r="6.5" fill="rgb(100,180,100)"/><circle cx="132.90" cy="510.30" r="3.6" fill="rgb(140,140,255)"/>
<circle cx="146.90" cy="524.40" r="6.5" fill="rgb(90,175,100)"/><circle cx="146.90" cy="524.40" r="3.6" fill="rgb(245,245,255)"/>
<circle cx="168.80" cy="530.60" r="6.5" fill="rgb(110,185,100)"/><circle cx="168.80" cy="530.60" r="3.6" fill="rgb(220,220,255)"/>
<circle cx="120.40" cy="520.50" r="6.5" fill="rgb(30,140,100)"/><circle cx="120.40" cy="520.50" r="3.6" fill="rgb(235,235,255)"/>
<circle cx="157.90" cy="561.30" r="6.5" fill="rgb(120,190,100)"/><circle cx="157.90" cy="561.30" r="3.6" fill="rgb(180,180,255)"/>
<circle cx="178.25" cy="581.30" r="6.5" fill="rgb(180,220,100)"/><circle cx="178.25" cy="581.30" r="3.6" fill="rgb(130,130,255)"/>
<circle cx="167.05" cy="595.20" r="6.5" fill="rgb(180,220,100)"/><circle cx="167.05" cy="595.20" r="3.6" fill="rgb(200,200,255)"/>
<circle cx="169.35" cy="586.20" r="6.5" fill="rgb(130,195,100)"/><circle cx="169.35" cy="586.20" r="3.6" fill="rgb(175,175,255)"/>
<circle cx="172.45" cy="575.50" r="6.5" fill="rgb(130,195,100)"/><circle cx="172.45" cy="575.50" r="3.6" fill="rgb(180,180,255)"/>
<circle cx="161.85" cy="568.90" r="6.5" fill="rgb(30,140,100)"/><circle cx="161.85" cy="568.90" r="3.6" fill="rgb(230,230,255)"/>
<circle cx="144.05" cy="592.60" r="6.5" fill="rgb(215,235,100)"/><circle cx="144.05" cy="592.60" r="3.6" fill="rgb(230,230,255)"/>
<circle cx="154.25" cy="594.20" r="6.5" fill="rgb(30,140,100)"/><circle cx="154.25" cy="594.20" r="3.6" fill="rgb(252,252,255)"/>
<circle cx="122.75" cy="585.80" r="6.5" fill="rgb(30,140,100)"/><circle cx="122.75" cy="585.80" r="3.6" fill="rgb(255,235,235)"/>
<circle cx="178.55" cy="628.20" r="6.5" fill="rgb(240,248,90)"/><circle cx="178.55" cy="628.20" r="3.6" fill="rgb(190,190,255)"/>
<circle cx="169.15" cy="633.00" r="6.5" fill="rgb(170,215,100)"/><circle cx="169.15" cy="633.00" r="3.6" fill="rgb(175,175,255)"/>
<circle cx="142.55" cy="638.20" r="6.5" fill="rgb(150,205,100)"/><circle cx="142.55" cy="638.20" r="3.6" fill="rgb(230,230,255)"/>
<circle cx="152.85" cy="638.80" r="6.5" fill="rgb(220,240,100)"/><circle cx="152.85" cy="638.80" r="3.6" fill="rgb(200,200,255)"/>
<circle cx="122.75" cy="634.70" r="6.5" fill="rgb(140,200,100)"/><circle cx="122.75" cy="634.70" r="3.6" fill="rgb(248,248,255)"/>
<circle cx="169.15" cy="655.20" r="6.5" fill="rgb(100,180,100)"/><circle cx="169.15" cy="655.20" r="3.6" fill="rgb(210,210,255)"/>
<circle cx="141.15" cy="672.70" r="6.5" fill="rgb(190,225,100)"/><circle cx="141.15" cy="672.70" r="3.6" fill="rgb(210,210,255)"/>
<circle cx="133.55" cy="675.00" r="6.5" fill="rgb(220,240,100)"/><circle cx="133.55" cy="675.00" r="3.6" fill="rgb(235,235,255)"/>
<circle cx="124.75" cy="672.70" r="6.5" fill="rgb(200,230,100)"/><circle cx="124.75" cy="672.70" r="3.6" fill="rgb(200,200,255)"/>
<g transform="translate(294.15,491.20)" fill="none" stroke="#e7e7e7" stroke-width="3" stroke-linecap="round" stroke-linejoin="round" filter="url(#soft)">
<path d="M-3.00,7.80 C-4.17,7.43 -7.67,6.10 -10.00,5.60 C-12.33,5.10 -14.67,4.57 -17.00,4.80 C-19.33,5.03 -21.75,5.88 -24.00,7.00 C-26.25,8.12 -28.23,10.08 -30.50,11.50 C-32.77,12.92 -35.43,13.83 -37.60,15.50 C-39.77,17.17 -41.43,19.50 -43.50,21.50 C-45.57,23.50 -48.17,25.83 -50.00,27.50 C-51.83,29.17 -52.87,29.68 -54.50,31.50 C-56.13,33.32 -58.08,35.38 -59.80,38.40 C-61.52,41.42 -63.35,45.67 -64.80,49.60 C-66.25,53.53 -67.30,57.77 -68.50,62.00 C-69.70,66.23 -70.83,70.67 -72.00,75.00 C-73.17,79.33 -74.42,84.00 -75.50,88.00 C-76.58,92.00 -77.67,95.33 -78.50,99.00 C-79.33,102.67 -80.12,106.33 -80.50,110.00 C-80.88,113.67 -80.92,117.33 -80.80,121.00 C-80.68,124.67 -80.30,128.33 -79.80,132.00 C-79.30,135.67 -78.63,139.33 -77.80,143.00 C-76.97,146.67 -75.93,150.58 -74.80,154.00 C-73.67,157.42 -72.30,160.58 -71.00,163.50 C-69.70,166.42 -68.75,169.00 -67.00,171.50 C-65.25,174.00 -62.75,176.33 -60.50,178.50 C-58.25,180.67 -55.92,182.67 -53.50,184.50 C-51.08,186.33 -48.75,187.83 -46.00,189.50 C-43.25,191.17 -40.17,193.00 -37.00,194.50 C-33.83,196.00 -30.50,197.50 -27.00,198.50 C-23.50,199.50 -19.50,200.08 -16.00,200.50 C-12.50,200.92 -8.67,201.33 -6.00,201.00 C-3.33,200.67 -1.00,198.92 0.00,198.50"/><path d="M-0.30,3.00 C0.58,2.65 2.95,1.18 5.00,0.90 C7.05,0.62 9.67,0.65 12.00,1.30 C14.33,1.95 16.83,3.82 19.00,4.80 C21.17,5.78 23.08,6.25 25.00,7.20 C26.92,8.15 28.40,9.12 30.50,10.50 C32.60,11.88 35.43,13.67 37.60,15.50 C39.77,17.33 41.43,19.50 43.50,21.50 C45.57,23.50 48.17,25.83 50.00,27.50 C51.83,29.17 52.87,29.68 54.50,31.50 C56.13,33.32 58.08,35.38 59.80,38.40 C61.52,41.42 63.35,45.67 64.80,49.60 C66.25,53.53 67.30,57.77 68.50,62.00 C69.70,66.23 70.83,70.67 72.00,75.00 C73.17,79.33 74.42,84.00 75.50,88.00 C76.58,92.00 77.67,95.33 78.50,99.00 C79.33,102.67 80.12,106.33 80.50,110.00 C80.88,113.67 80.92,117.33 80.80,121.00 C80.68,124.67 80.30,128.33 79.80,132.00 C79.30,135.67 78.63,139.33 77.80,143.00 C76.97,146.67 75.93,150.58 74.80,154.00 C73.67,157.42 72.30,160.58 71.00,163.50 C69.70,166.42 68.75,169.00 67.00,171.50 C65.25,174.00 62.75,176.33 60.50,178.50 C58.25,180.67 55.92,182.67 53.50,184.50 C51.08,186.33 48.75,187.83 46.00,189.50 C43.25,191.17 40.17,193.00 37.00,194.50 C33.83,196.00 30.50,197.50 27.00,198.50 C23.50,199.50 19.50,200.08 16.00,200.50 C12.50,200.92 8.67,201.33 6.00,201.00 C3.33,200.67 1.00,198.92 0.00,198.50"/>
<path d="M-2,7 C2,20 -1,35 0.5,50 C2,65 -1,80 0.8,95 C2.5,110 0,125 1,140 C2,155 -1,170 0.5,185 L0,197" stroke-width="4"/>
<path d="M0.5,30 C-3,24 -7,20 -12,18 M0.5,30 C4,24 8,21 13,19 M0.8,62 C-4,56 -9,52 -15,51 M0.8,62 C5,56 10,53 16,52 M0.8,104 C-4,97 -8,93 -13,92 M0.8,104 C5,97 9,94 14,93 M1,150 C-5,158 -10,162 -16,164 M1,150 C6,158 11,162 17,164 M0.5,178 C-4,184 -8,188 -13,190 M0.5,178 C5,184 9,188 14,190" stroke-width="3"/>
<path d="M-5.30,10.60 C-7.50,10.83 -14.78,10.90 -18.50,12.00 C-22.22,13.10 -24.77,15.23 -27.60,17.20 C-30.43,19.17 -32.77,21.33 -35.50,23.80 C-38.23,26.27 -41.37,29.15 -44.00,32.00 C-46.63,34.85 -48.98,37.88 -51.30,40.90 C-53.62,43.92 -55.93,46.82 -57.90,50.10 C-59.87,53.38 -61.58,57.62 -63.10,60.60 C-64.62,63.58 -66.35,66.77 -67.00,68.00"/>
<path d="M5.30,10.60 C7.50,10.83 14.78,10.90 18.50,12.00 C22.22,13.10 24.77,15.23 27.60,17.20 C30.43,19.17 32.77,21.33 35.50,23.80 C38.23,26.27 41.37,29.15 44.00,32.00 C46.63,34.85 48.98,37.88 51.30,40.90 C53.62,43.92 55.93,46.82 57.90,50.10 C59.87,53.38 61.58,57.62 63.10,60.60 C64.62,63.58 66.35,66.77 67.00,68.00"/>
<path d="M-69.00,76.00 C-69.42,77.67 -70.92,82.33 -71.50,86.00 C-72.08,89.67 -72.42,94.33 -72.50,98.00 C-72.58,101.67 -72.08,106.33 -72.00,108.00"/>
<path d="M69.00,76.00 C69.42,77.67 70.92,82.33 71.50,86.00 C72.08,89.67 72.42,94.33 72.50,98.00 C72.58,101.67 72.08,106.33 72.00,108.00"/>
<path d="M-35.50,36.90 C-35.17,38.25 -34.15,42.37 -33.50,45.00 C-32.85,47.63 -31.92,51.42 -31.60,52.70"/>
<path d="M35.50,36.90 C35.17,38.25 34.15,42.37 33.50,45.00 C32.85,47.63 31.92,51.42 31.60,52.70"/>
<path d="M-51.30,44.80 C-50.42,44.58 -47.75,43.72 -46.00,43.50 C-44.25,43.28 -41.67,43.50 -40.80,43.50"/>
<path d="M51.30,44.80 C50.42,44.58 47.75,43.72 46.00,43.50 C44.25,43.28 41.67,43.50 40.80,43.50"/>
<path d="M-21.10,50.10 C-20.00,50.53 -16.25,53.15 -14.50,52.70 C-12.75,52.25 -11.25,48.28 -10.60,47.40"/>
<path d="M21.10,50.10 C20.00,50.53 16.25,53.15 14.50,52.70 C12.75,52.25 11.25,48.28 10.60,47.40"/>
<path d="M-14.50,52.70 C-14.72,54.33 -15.58,60.87 -15.80,62.50"/>
<path d="M14.50,52.70 C14.72,54.33 15.58,60.87 15.80,62.50"/>
<path d="M-42.00,60.00 C-41.83,61.67 -41.20,67.13 -41.00,70.00 C-40.80,72.87 -41.47,74.70 -40.80,77.20 C-40.13,79.70 -38.10,82.82 -37.00,85.00 C-35.90,87.18 -35.70,88.63 -34.20,90.30 C-32.70,91.97 -30.18,93.68 -28.00,95.00 C-25.82,96.32 -23.77,97.53 -21.10,98.20 C-18.43,98.87 -13.52,98.87 -12.00,99.00"/>
<path d="M42.00,60.00 C41.83,61.67 41.20,67.13 41.00,70.00 C40.80,72.87 41.47,74.70 40.80,77.20 C40.13,79.70 38.10,82.82 37.00,85.00 C35.90,87.18 35.70,88.63 34.20,90.30 C32.70,91.97 30.18,93.68 28.00,95.00 C25.82,96.32 23.77,97.53 21.10,98.20 C18.43,98.87 13.52,98.87 12.00,99.00"/>
<path d="M-29.00,74.60 C-27.50,74.33 -22.83,73.35 -20.00,73.00 C-17.17,72.65 -14.50,72.67 -12.00,72.50 C-9.50,72.33 -6.17,72.08 -5.00,72.00"/>
<path d="M29.00,74.60 C27.50,74.33 22.83,73.35 20.00,73.00 C17.17,72.65 14.50,72.67 12.00,72.50 C9.50,72.33 6.17,72.08 5.00,72.00"/>
<path d="M-79.00,114.00 C-77.50,113.50 -73.52,111.67 -70.00,111.00 C-66.48,110.33 -61.57,110.08 -57.90,110.00 C-54.23,109.92 -50.85,110.05 -48.00,110.50 C-45.15,110.95 -43.30,111.95 -40.80,112.70 C-38.30,113.45 -35.63,114.35 -33.00,115.00 C-30.37,115.65 -26.33,116.33 -25.00,116.60"/>
<path d="M79.00,114.00 C77.50,113.50 73.52,111.67 70.00,111.00 C66.48,110.33 61.57,110.08 57.90,110.00 C54.23,109.92 50.85,110.05 48.00,110.50 C45.15,110.95 43.30,111.95 40.80,112.70 C38.30,113.45 35.63,114.35 33.00,115.00 C30.37,115.65 26.33,116.33 25.00,116.60"/>
<path d="M-51.30,120.10 C-49.75,120.75 -45.72,122.25 -42.00,124.00 C-38.28,125.75 -33.37,128.18 -29.00,130.60 C-24.63,133.02 -19.97,136.10 -15.80,138.50 C-11.63,140.90 -5.97,143.92 -4.00,145.00"/>
<path d="M51.30,120.10 C49.75,120.75 45.72,122.25 42.00,124.00 C38.28,125.75 33.37,128.18 29.00,130.60 C24.63,133.02 19.97,136.10 15.80,138.50 C11.63,140.90 5.97,143.92 4.00,145.00"/>
<path d="M-32.90,128.00 C-32.08,129.67 -29.53,134.72 -28.00,138.00 C-26.47,141.28 -26.60,145.42 -23.70,147.70 C-20.80,149.98 -14.05,151.15 -10.60,151.70 C-7.15,152.25 -4.27,151.12 -3.00,151.00"/>
<path d="M32.90,128.00 C32.08,129.67 29.53,134.72 28.00,138.00 C26.47,141.28 26.60,145.42 23.70,147.70 C20.80,149.98 14.05,151.15 10.60,151.70 C7.15,152.25 4.27,151.12 3.00,151.00"/>
<path d="M-73.60,150.30 C-71.42,150.75 -65.32,151.80 -60.50,153.00 C-55.68,154.20 -49.95,156.08 -44.70,157.50 C-39.45,158.92 -34.03,160.58 -29.00,161.50 C-23.97,162.42 -16.92,162.75 -14.50,163.00"/>
<path d="M73.60,150.30 C71.42,150.75 65.32,151.80 60.50,153.00 C55.68,154.20 49.95,156.08 44.70,157.50 C39.45,158.92 34.03,160.58 29.00,161.50 C23.97,162.42 16.92,162.75 14.50,163.00"/>
<path d="M-64.50,124.00 C-64.27,125.55 -63.33,131.75 -63.10,133.30"/>
<path d="M64.50,124.00 C64.27,125.55 63.33,131.75 63.10,133.30"/>
<path d="M-40.80,134.60 C-41.02,135.47 -41.88,138.93 -42.10,139.80"/>
<path d="M40.80,134.60 C41.02,135.47 41.88,138.93 42.10,139.80"/>
<path d="M-60.50,169.30 C-58.32,170.62 -52.48,174.58 -47.40,177.20 C-42.32,179.82 -36.13,182.58 -30.00,185.00 C-23.87,187.42 -15.27,190.53 -10.60,191.70 C-5.93,192.87 -3.43,191.95 -2.00,192.00"/>
<path d="M60.50,169.30 C58.32,170.62 52.48,174.58 47.40,177.20 C42.32,179.82 36.13,182.58 30.00,185.00 C23.87,187.42 15.27,190.53 10.60,191.70 C5.93,192.87 3.43,191.95 2.00,192.00"/>
<path d="M-47.40,170.60 C-44.77,170.83 -36.87,172.00 -31.60,172.00 C-26.33,172.00 -20.62,171.70 -15.80,170.60 C-10.98,169.50 -4.88,166.27 -2.70,165.40"/>
<path d="M47.40,170.60 C44.77,170.83 36.87,172.00 31.60,172.00 C26.33,172.00 20.62,171.70 15.80,170.60 C10.98,169.50 4.88,166.27 2.70,165.40"/>
<path d="M-8.00,13.00 C-9.17,14.17 -13.17,16.67 -15.00,20.00 C-16.83,23.33 -18.50,28.67 -19.00,33.00 C-19.50,37.33 -17.67,41.50 -18.00,46.00 C-18.33,50.50 -20.67,56.00 -21.00,60.00 C-21.33,64.00 -20.17,68.33 -20.00,70.00"/>
<path d="M8.00,13.00 C9.17,14.17 13.17,16.67 15.00,20.00 C16.83,23.33 18.50,28.67 19.00,33.00 C19.50,37.33 17.67,41.50 18.00,46.00 C18.33,50.50 20.67,56.00 21.00,60.00 C21.33,64.00 20.17,68.33 20.00,70.00"/>
<path d="M-60.00,80.00 C-58.67,80.67 -53.67,81.67 -52.00,84.00 C-50.33,86.33 -50.33,92.33 -50.00,94.00"/>
<path d="M60.00,80.00 C58.67,80.67 53.67,81.67 52.00,84.00 C50.33,86.33 50.33,92.33 50.00,94.00"/>
<path d="M-66.00,132.00 C-64.67,133.33 -60.33,137.67 -58.00,140.00 C-55.67,142.33 -53.00,145.00 -52.00,146.00"/>
<path d="M66.00,132.00 C64.67,133.33 60.33,137.67 58.00,140.00 C55.67,142.33 53.00,145.00 52.00,146.00"/>
<path d="M-50.00,52.00 C-49.17,53.00 -45.50,55.33 -45.00,58.00 C-44.50,60.67 -46.67,66.33 -47.00,68.00"/>
<path d="M50.00,52.00 C49.17,53.00 45.50,55.33 45.00,58.00 C44.50,60.67 46.67,66.33 47.00,68.00"/>
<path d="M-60.00,95.00 C-61.00,96.17 -65.00,100.83 -66.00,102.00"/>
<path d="M60.00,95.00 C61.00,96.17 65.00,100.83 66.00,102.00"/>
<path d="M-50.00,96.00 C-48.83,96.67 -45.00,98.33 -43.00,100.00 C-41.00,101.67 -38.83,105.00 -38.00,106.00"/>
<path d="M50.00,96.00 C48.83,96.67 45.00,98.33 43.00,100.00 C41.00,101.67 38.83,105.00 38.00,106.00"/>
<path d="M-22.00,82.00 C-20.83,82.83 -17.67,86.50 -15.00,87.00 C-12.33,87.50 -7.50,85.33 -6.00,85.00"/>
<path d="M22.00,82.00 C20.83,82.83 17.67,86.50 15.00,87.00 C12.33,87.50 7.50,85.33 6.00,85.00"/>
<path d="M-19.00,104.00 C-17.67,104.67 -12.33,107.33 -11.00,108.00"/>
<path d="M19.00,104.00 C17.67,104.67 12.33,107.33 11.00,108.00"/>
<path d="M-72.00,140.00 C-70.67,141.00 -65.33,145.00 -64.00,146.00"/>
<path d="M72.00,140.00 C70.67,141.00 65.33,145.00 64.00,146.00"/>
<path d="M-36.00,178.00 C-34.17,178.50 -28.67,180.83 -25.00,181.00 C-21.33,181.17 -15.83,179.33 -14.00,179.00"/>
<path d="M36.00,178.00 C34.17,178.50 28.67,180.83 25.00,181.00 C21.33,181.17 15.83,179.33 14.00,179.00"/>
<path d="M-57.00,186.00 C-55.33,185.50 -48.67,183.50 -47.00,183.00"/>
<path d="M57.00,186.00 C55.33,185.50 48.67,183.50 47.00,183.00"/>
<path d="M-9.00,26.00 C-8.50,27.67 -6.17,33.00 -6.00,36.00 C-5.83,39.00 -7.67,42.67 -8.00,44.00"/>
<path d="M9.00,26.00 C8.50,27.67 6.17,33.00 6.00,36.00 C5.83,39.00 7.67,42.67 8.00,44.00"/>
<path d="M-63.00,70.00 C-61.83,70.67 -57.17,73.33 -56.00,74.00"/>
<path d="M63.00,70.00 C61.83,70.67 57.17,73.33 56.00,74.00"/>
<path d="M-30.00,24.00 C-31.67,24.33 -37.33,26.33 -40.00,26.00 C-42.67,25.67 -45.00,22.67 -46.00,22.00"/>
<path d="M30.00,24.00 C31.67,24.33 37.33,26.33 40.00,26.00 C42.67,25.67 45.00,22.67 46.00,22.00"/>
<path d="M-58.00,160.00 C-56.67,160.83 -51.33,164.17 -50.00,165.00"/>
<path d="M58.00,160.00 C56.67,160.83 51.33,164.17 50.00,165.00"/>
</g>
<circle cx="271.90" cy="510.30" r="6.5" fill="rgb(180,220,100)"/><circle cx="271.90" cy="510.30" r="3.6" fill="rgb(160,160,255)"/>
<circle cx="257.90" cy="524.40" r="6.5" fill="rgb(140,200,100)"/><circle cx="257.90" cy="524.40" r="3.6" fill="rgb(255,225,225)"/>
<circle cx="236.00" cy="530.60" r="6.5" fill="rgb(140,200,100)"/><circle cx="236.00" cy="530.60" r="3.6" fill="rgb(235,235,255)"/>
<circle cx="284.40" cy="520.50" r="6.5" fill="rgb(90,175,100)"/><circle cx="284.40" cy="520.50" r="3.6" fill="rgb(130,130,255)"/>
<circle cx="246.90" cy="561.30" r="6.5" fill="rgb(120,190,100)"/><circle cx="246.90" cy="561.30" r="3.6" fill="rgb(250,50,50)"/>
<circle cx="226.55" cy="581.30" r="6.5" fill="rgb(120,190,100)"/><circle cx="226.55" cy="581.30" r="3.6" fill="rgb(190,0,0)"/>
<circle cx="237.75" cy="595.20" r="6.5" fill="rgb(100,180,100)"/><circle cx="237.75" cy="595.20" r="3.6" fill="rgb(160,0,0)"/>
<circle cx="235.45" cy="586.20" r="6.5" fill="rgb(220,240,100)"/><circle cx="235.45" cy="586.20" r="3.6" fill="rgb(255,20,20)"/>
<circle cx="232.35" cy="575.50" r="6.5" fill="rgb(70,165,100)"/><circle cx="232.35" cy="575.50" r="3.6" fill="rgb(175,0,0)"/>
<circle cx="242.95" cy="568.90" r="6.5" fill="rgb(22,135,100)"/><circle cx="242.95" cy="568.90" r="3.6" fill="rgb(240,40,40)"/>
<circle cx="260.75" cy="592.60" r="6.5" fill="rgb(120,190,100)"/><circle cx="260.75" cy="592.60" r="3.6" fill="rgb(130,0,0)"/>
<circle cx="250.55" cy="594.20" r="6.5" fill="rgb(22,135,100)"/><circle cx="250.55" cy="594.20" r="3.6" fill="rgb(255,20,20)"/>
<circle cx="282.05" cy="585.80" r="6.5" fill="rgb(22,135,100)"/><circle cx="282.05" cy="585.80" r="3.6" fill="rgb(245,50,50)"/>
<circle cx="226.25" cy="628.20" r="6.5" fill="rgb(100,180,100)"/><circle cx="226.25" cy="628.20" r="3.6" fill="rgb(150,0,0)"/>
<circle cx="235.65" cy="633.00" r="6.5" fill="rgb(80,170,100)"/><circle cx="235.65" cy="633.00" r="3.6" fill="rgb(228,0,0)"/>
<circle cx="262.25" cy="638.20" r="6.5" fill="rgb(80,170,100)"/><circle cx="262.25" cy="638.20" r="3.6" fill="rgb(230,0,0)"/>
<circle cx="251.95" cy="638.80" r="6.5" fill="rgb(150,205,100)"/><circle cx="251.95" cy="638.80" r="3.6" fill="rgb(120,0,0)"/>
<circle cx="282.05" cy="634.70" r="6.5" fill="rgb(100,180,100)"/><circle cx="282.05" cy="634.70" r="3.6" fill="rgb(175,0,0)"/>
<circle cx="235.65" cy="655.20" r="6.5" fill="rgb(150,205,100)"/><circle cx="235.65" cy="655.20" r="3.6" fill="rgb(255,0,0)"/>
<circle cx="263.65" cy="672.70" r="6.5" fill="rgb(90,175,100)"/><circle cx="263.65" cy="672.70" r="3.6" fill="rgb(210,0,0)"/>
<circle cx="271.25" cy="675.00" r="6.5" fill="rgb(130,195,100)"/><circle cx="271.25" cy="675.00" r="3.6" fill="rgb(170,0,0)"/>
<circle cx="280.05" cy="672.70" r="6.5" fill="rgb(100,180,100)"/><circle cx="280.05" cy="672.70" r="3.6" fill="rgb(140,0,0)"/>
<circle cx="316.40" cy="510.30" r="6.5" fill="rgb(180,220,100)"/><circle cx="316.40" cy="510.30" r="3.6" fill="rgb(165,165,255)"/>
<circle cx="330.40" cy="524.40" r="6.5" fill="rgb(110,185,100)"/><circle cx="330.40" cy="524.40" r="3.6" fill="rgb(225,225,255)"/>
<circle cx="352.30" cy="530.60" r="6.5" fill="rgb(150,205,100)"/><circle cx="352.30" cy="530.60" r="3.6" fill="rgb(225,225,255)"/>
<circle cx="303.90" cy="520.50" r="6.5" fill="rgb(130,195,100)"/><circle cx="303.90" cy="520.50" r="3.6" fill="rgb(60,60,255)"/>
<circle cx="341.40" cy="561.30" r="6.5" fill="rgb(180,220,100)"/><circle cx="341.40" cy="561.30" r="3.6" fill="rgb(250,100,100)"/>
<circle cx="361.75" cy="581.30" r="6.5" fill="rgb(100,180,100)"/><circle cx="361.75" cy="581.30" r="3.6" fill="rgb(210,0,0)"/>
<circle cx="350.55" cy="595.20" r="6.5" fill="rgb(100,180,100)"/><circle cx="350.55" cy="595.20" r="3.6" fill="rgb(180,0,0)"/>
<circle cx="352.85" cy="586.20" r="6.5" fill="rgb(190,225,100)"/><circle cx="352.85" cy="586.20" r="3.6" fill="rgb(250,130,130)"/>
<circle cx="355.95" cy="575.50" r="6.5" fill="rgb(90,175,100)"/><circle cx="355.95" cy="575.50" r="3.6" fill="rgb(220,0,0)"/>
<circle cx="345.35" cy="568.90" r="6.5" fill="rgb(22,135,100)"/><circle cx="345.35" cy="568.90" r="3.6" fill="rgb(250,100,100)"/>
<circle cx="327.55" cy="592.60" r="6.5" fill="rgb(100,180,100)"/><circle cx="327.55" cy="592.60" r="3.6" fill="rgb(190,0,0)"/>
<circle cx="337.75" cy="594.20" r="6.5" fill="rgb(22,135,100)"/><circle cx="337.75" cy="594.20" r="3.6" fill="rgb(250,90,90)"/>
<circle cx="306.25" cy="585.80" r="6.5" fill="rgb(22,135,100)"/><circle cx="306.25" cy="585.80" r="3.6" fill="rgb(245,80,80)"/>
<circle cx="362.05" cy="628.20" r="6.5" fill="rgb(130,195,100)"/><circle cx="362.05" cy="628.20" r="3.6" fill="rgb(180,0,0)"/>
<circle cx="352.65" cy="633.00" r="6.5" fill="rgb(80,170,100)"/><circle cx="352.65" cy="633.00" r="3.6" fill="rgb(240,0,0)"/>
<circle cx="326.05" cy="638.20" r="6.5" fill="rgb(90,175,100)"/><circle cx="326.05" cy="638.20" r="3.6" fill="rgb(210,0,0)"/>
<circle cx="336.35" cy="638.80" r="6.5" fill="rgb(140,200,100)"/><circle cx="336.35" cy="638.80" r="3.6" fill="rgb(200,0,0)"/>
<circle cx="306.25" cy="634.70" r="6.5" fill="rgb(100,180,100)"/><circle cx="306.25" cy="634.70" r="3.6" fill="rgb(190,0,0)"/>
<circle cx="352.65" cy="655.20" r="6.5" fill="rgb(150,205,100)"/><circle cx="352.65" cy="655.20" r="3.6" fill="rgb(250,90,90)"/>
<circle cx="324.65" cy="672.70" r="6.5" fill="rgb(90,175,100)"/><circle cx="324.65" cy="672.70" r="3.6" fill="rgb(240,0,0)"/>
<circle cx="317.05" cy="675.00" r="6.5" fill="rgb(130,195,100)"/><circle cx="317.05" cy="675.00" r="3.6" fill="rgb(180,0,0)"/>
<circle cx="308.25" cy="672.70" r="6.5" fill="rgb(120,190,100)"/><circle cx="308.25" cy="672.70" r="3.6" fill="rgb(190,0,0)"/>
<g transform="translate(477.65,491.20)" fill="none" stroke="#e7e7e7" stroke-width="3" stroke-linecap="round" stroke-linejoin="round" filter="url(#soft)">
<path d="M-3.00,7.80 C-4.17,7.43 -7.67,6.10 -10.00,5.60 C-12.33,5.10 -14.67,4.57 -17.00,4.80 C-19.33,5.03 -21.75,5.88 -24.00,7.00 C-26.25,8.12 -28.23,10.08 -30.50,11.50 C-32.77,12.92 -35.43,13.83 -37.60,15.50 C-39.77,17.17 -41.43,19.50 -43.50,21.50 C-45.57,23.50 -48.17,25.83 -50.00,27.50 C-51.83,29.17 -52.87,29.68 -54.50,31.50 C-56.13,33.32 -58.08,35.38 -59.80,38.40 C-61.52,41.42 -63.35,45.67 -64.80,49.60 C-66.25,53.53 -67.30,57.77 -68.50,62.00 C-69.70,66.23 -70.83,70.67 -72.00,75.00 C-73.17,79.33 -74.42,84.00 -75.50,88.00 C-76.58,92.00 -77.67,95.33 -78.50,99.00 C-79.33,102.67 -80.12,106.33 -80.50,110.00 C-80.88,113.67 -80.92,117.33 -80.80,121.00 C-80.68,124.67 -80.30,128.33 -79.80,132.00 C-79.30,135.67 -78.63,139.33 -77.80,143.00 C-76.97,146.67 -75.93,150.58 -74.80,154.00 C-73.67,157.42 -72.30,160.58 -71.00,163.50 C-69.70,166.42 -68.75,169.00 -67.00,171.50 C-65.25,174.00 -62.75,176.33 -60.50,178.50 C-58.25,180.67 -55.92,182.67 -53.50,184.50 C-51.08,186.33 -48.75,187.83 -46.00,189.50 C-43.25,191.17 -40.17,193.00 -37.00,194.50 C-33.83,196.00 -30.50,197.50 -27.00,198.50 C-23.50,199.50 -19.50,200.08 -16.00,200.50 C-12.50,200.92 -8.67,201.33 -6.00,201.00 C-3.33,200.67 -1.00,198.92 0.00,198.50"/><path d="M-0.30,3.00 C0.58,2.65 2.95,1.18 5.00,0.90 C7.05,0.62 9.67,0.65 12.00,1.30 C14.33,1.95 16.83,3.82 19.00,4.80 C21.17,5.78 23.08,6.25 25.00,7.20 C26.92,8.15 28.40,9.12 30.50,10.50 C32.60,11.88 35.43,13.67 37.60,15.50 C39.77,17.33 41.43,19.50 43.50,21.50 C45.57,23.50 48.17,25.83 50.00,27.50 C51.83,29.17 52.87,29.68 54.50,31.50 C56.13,33.32 58.08,35.38 59.80,38.40 C61.52,41.42 63.35,45.67 64.80,49.60 C66.25,53.53 67.30,57.77 68.50,62.00 C69.70,66.23 70.83,70.67 72.00,75.00 C73.17,79.33 74.42,84.00 75.50,88.00 C76.58,92.00 77.67,95.33 78.50,99.00 C79.33,102.67 80.12,106.33 80.50,110.00 C80.88,113.67 80.92,117.33 80.80,121.00 C80.68,124.67 80.30,128.33 79.80,132.00 C79.30,135.67 78.63,139.33 77.80,143.00 C76.97,146.67 75.93,150.58 74.80,154.00 C73.67,157.42 72.30,160.58 71.00,163.50 C69.70,166.42 68.75,169.00 67.00,171.50 C65.25,174.00 62.75,176.33 60.50,178.50 C58.25,180.67 55.92,182.67 53.50,184.50 C51.08,186.33 48.75,187.83 46.00,189.50 C43.25,191.17 40.17,193.00 37.00,194.50 C33.83,196.00 30.50,197.50 27.00,198.50 C23.50,199.50 19.50,200.08 16.00,200.50 C12.50,200.92 8.67,201.33 6.00,201.00 C3.33,200.67 1.00,198.92 0.00,198.50"/>
<path d="M-2,7 C2,20 -1,35 0.5,50 C2,65 -1,80 0.8,95 C2.5,110 0,125 1,140 C2,155 -1,170 0.5,185 L0,197" stroke-width="4"/>
<path d="M0.5,30 C-3,24 -7,20 -12,18 M0.5,30 C4,24 8,21 13,19 M0.8,62 C-4,56 -9,52 -15,51 M0.8,62 C5,56 10,53 16,52 M0.8,104 C-4,97 -8,93 -13,92 M0.8,104 C5,97 9,94 14,93 M1,150 C-5,158 -10,162 -16,164 M1,150 C6,158 11,162 17,164 M0.5,178 C-4,184 -8,188 -13,190 M0.5,178 C5,184 9,188 14,190" stroke-width="3"/>
<path d="M-5.30,10.60 C-7.50,10.83 -14.78,10.90 -18.50,12.00 C-22.22,13.10 -24.77,15.23 -27.60,17.20 C-30.43,19.17 -32.77,21.33 -35.50,23.80 C-38.23,26.27 -41.37,29.15 -44.00,32.00 C-46.63,34.85 -48.98,37.88 -51.30,40.90 C-53.62,43.92 -55.93,46.82 -57.90,50.10 C-59.87,53.38 -61.58,57.62 -63.10,60.60 C-64.62,63.58 -66.35,66.77 -67.00,68.00"/>
<path d="M5.30,10.60 C7.50,10.83 14.78,10.90 18.50,12.00 C22.22,13.10 24.77,15.23 27.60,17.20 C30.43,19.17 32.77,21.33 35.50,23.80 C38.23,26.27 41.37,29.15 44.00,32.00 C46.63,34.85 48.98,37.88 51.30,40.90 C53.62,43.92 55.93,46.82 57.90,50.10 C59.87,53.38 61.58,57.62 63.10,60.60 C64.62,63.58 66.35,66.77 67.00,68.00"/>
<path d="M-69.00,76.00 C-69.42,77.67 -70.92,82.33 -71.50,86.00 C-72.08,89.67 -72.42,94.33 -72.50,98.00 C-72.58,101.67 -72.08,106.33 -72.00,108.00"/>
<path d="M69.00,76.00 C69.42,77.67 70.92,82.33 71.50,86.00 C72.08,89.67 72.42,94.33 72.50,98.00 C72.58,101.67 72.08,106.33 72.00,108.00"/>
<path d="M-35.50,36.90 C-35.17,38.25 -34.15,42.37 -33.50,45.00 C-32.85,47.63 -31.92,51.42 -31.60,52.70"/>
<path d="M35.50,36.90 C35.17,38.25 34.15,42.37 33.50,45.00 C32.85,47.63 31.92,51.42 31.60,52.70"/>
<path d="M-51.30,44.80 C-50.42,44.58 -47.75,43.72 -46.00,43.50 C-44.25,43.28 -41.67,43.50 -40.80,43.50"/>
<path d="M51.30,44.80 C50.42,44.58 47.75,43.72 46.00,43.50 C44.25,43.28 41.67,43.50 40.80,43.50"/>
<path d="M-21.10,50.10 C-20.00,50.53 -16.25,53.15 -14.50,52.70 C-12.75,52.25 -11.25,48.28 -10.60,47.40"/>
<path d="M21.10,50.10 C20.00,50.53 16.25,53.15 14.50,52.70 C12.75,52.25 11.25,48.28 10.60,47.40"/>
<path d="M-14.50,52.70 C-14.72,54.33 -15.58,60.87 -15.80,62.50"/>
<path d="M14.50,52.70 C14.72,54.33 15.58,60.87 15.80,62.50"/>
<path d="M-42.00,60.00 C-41.83,61.67 -41.20,67.13 -41.00,70.00 C-40.80,72.87 -41.47,74.70 -40.80,77.20 C-40.13,79.70 -38.10,82.82 -37.00,85.00 C-35.90,87.18 -35.70,88.63 -34.20,90.30 C-32.70,91.97 -30.18,93.68 -28.00,95.00 C-25.82,96.32 -23.77,97.53 -21.10,98.20 C-18.43,98.87 -13.52,98.87 -12.00,99.00"/>
<path d="M42.00,60.00 C41.83,61.67 41.20,67.13 41.00,70.00 C40.80,72.87 41.47,74.70 40.80,77.20 C40.13,79.70 38.10,82.82 37.00,85.00 C35.90,87.18 35.70,88.63 34.20,90.30 C32.70,91.97 30.18,93.68 28.00,95.00 C25.82,96.32 23.77,97.53 21.10,98.20 C18.43,98.87 13.52,98.87 12.00,99.00"/>
<path d="M-29.00,74.60 C-27.50,74.33 -22.83,73.35 -20.00,73.00 C-17.17,72.65 -14.50,72.67 -12.00,72.50 C-9.50,72.33 -6.17,72.08 -5.00,72.00"/>
<path d="M29.00,74.60 C27.50,74.33 22.83,73.35 20.00,73.00 C17.17,72.65 14.50,72.67 12.00,72.50 C9.50,72.33 6.17,72.08 5.00,72.00"/>
<path d="M-79.00,114.00 C-77.50,113.50 -73.52,111.67 -70.00,111.00 C-66.48,110.33 -61.57,110.08 -57.90,110.00 C-54.23,109.92 -50.85,110.05 -48.00,110.50 C-45.15,110.95 -43.30,111.95 -40.80,112.70 C-38.30,113.45 -35.63,114.35 -33.00,115.00 C-30.37,115.65 -26.33,116.33 -25.00,116.60"/>
<path d="M79.00,114.00 C77.50,113.50 73.52,111.67 70.00,111.00 C66.48,110.33 61.57,110.08 57.90,110.00 C54.23,109.92 50.85,110.05 48.00,110.50 C45.15,110.95 43.30,111.95 40.80,112.70 C38.30,113.45 35.63,114.35 33.00,115.00 C30.37,115.65 26.33,116.33 25.00,116.60"/>
<path d="M-51.30,120.10 C-49.75,120.75 -45.72,122.25 -42.00,124.00 C-38.28,125.75 -33.37,128.18 -29.00,130.60 C-24.63,133.02 -19.97,136.10 -15.80,138.50 C-11.63,140.90 -5.97,143.92 -4.00,145.00"/>
<path d="M51.30,120.10 C49.75,120.75 45.72,122.25 42.00,124.00 C38.28,125.75 33.37,128.18 29.00,130.60 C24.63,133.02 19.97,136.10 15.80,138.50 C11.63,140.90 5.97,143.92 4.00,145.00"/>
<path d="M-32.90,128.00 C-32.08,129.67 -29.53,134.72 -28.00,138.00 C-26.47,141.28 -26.60,145.42 -23.70,147.70 C-20.80,149.98 -14.05,151.15 -10.60,151.70 C-7.15,152.25 -4.27,151.12 -3.00,151.00"/>
<path d="M32.90,128.00 C32.08,129.67 29.53,134.72 28.00,138.00 C26.47,141.28 26.60,145.42 23.70,147.70 C20.80,149.98 14.05,151.15 10.60,151.70 C7.15,152.25 4.27,151.12 3.00,151.00"/>
<path d="M-73.60,150.30 C-71.42,150.75 -65.32,151.80 -60.50,153.00 C-55.68,154.20 -49.95,156.08 -44.70,157.50 C-39.45,158.92 -34.03,160.58 -29.00,161.50 C-23.97,162.42 -16.92,162.75 -14.50,163.00"/>
<path d="M73.60,150.30 C71.42,150.75 65.32,151.80 60.50,153.00 C55.68,154.20 49.95,156.08 44.70,157.50 C39.45,158.92 34.03,160.58 29.00,161.50 C23.97,162.42 16.92,162.75 14.50,163.00"/>
<path d="M-64.50,124.00 C-64.27,125.55 -63.33,131.75 -63.10,133.30"/>
<path d="M64.50,124.00 C64.27,125.55 63.33,131.75 63.10,133.30"/>
<path d="M-40.80,134.60 C-41.02,135.47 -41.88,138.93 -42.10,139.80"/>
<path d="M40.80,134.60 C41.02,135.47 41.88,138.93 42.10,139.80"/>
<path d="M-60.50,169.30 C-58.32,170.62 -52.48,174.58 -47.40,177.20 C-42.32,179.82 -36.13,182.58 -30.00,185.00 C-23.87,187.42 -15.27,190.53 -10.60,191.70 C-5.93,192.87 -3.43,191.95 -2.00,192.00"/>
<path d="M60.50,169.30 C58.32,170.62 52.48,174.58 47.40,177.20 C42.32,179.82 36.13,182.58 30.00,185.00 C23.87,187.42 15.27,190.53 10.60,191.70 C5.93,192.87 3.43,191.95 2.00,192.00"/>
<path d="M-47.40,170.60 C-44.77,170.83 -36.87,172.00 -31.60,172.00 C-26.33,172.00 -20.62,171.70 -15.80,170.60 C-10.98,169.50 -4.88,166.27 -2.70,165.40"/>
<path d="M47.40,170.60 C44.77,170.83 36.87,172.00 31.60,172.00 C26.33,172.00 20.62,171.70 15.80,170.60 C10.98,169.50 4.88,166.27 2.70,165.40"/>
<path d="M-8.00,13.00 C-9.17,14.17 -13.17,16.67 -15.00,20.00 C-16.83,23.33 -18.50,28.67 -19.00,33.00 C-19.50,37.33 -17.67,41.50 -18.00,46.00 C-18.33,50.50 -20.67,56.00 -21.00,60.00 C-21.33,64.00 -20.17,68.33 -20.00,70.00"/>
<path d="M8.00,13.00 C9.17,14.17 13.17,16.67 15.00,20.00 C16.83,23.33 18.50,28.67 19.00,33.00 C19.50,37.33 17.67,41.50 18.00,46.00 C18.33,50.50 20.67,56.00 21.00,60.00 C21.33,64.00 20.17,68.33 20.00,70.00"/>
<path d="M-60.00,80.00 C-58.67,80.67 -53.67,81.67 -52.00,84.00 C-50.33,86.33 -50.33,92.33 -50.00,94.00"/>
<path d="M60.00,80.00 C58.67,80.67 53.67,81.67 52.00,84.00 C50.33,86.33 50.33,92.33 50.00,94.00"/>
<path d="M-66.00,132.00 C-64.67,133.33 -60.33,137.67 -58.00,140.00 C-55.67,142.33 -53.00,145.00 -52.00,146.00"/>
<path d="M66.00,132.00 C64.67,133.33 60.33,137.67 58.00,140.00 C55.67,142.33 53.00,145.00 52.00,146.00"/>
<path d="M-50.00,52.00 C-49.17,53.00 -45.50,55.33 -45.00,58.00 C-44.50,60.67 -46.67,66.33 -47.00,68.00"/>
<path d="M50.00,52.00 C49.17,53.00 45.50,55.33 45.00,58.00 C44.50,60.67 46.67,66.33 47.00,68.00"/>
<path d="M-60.00,95.00 C-61.00,96.17 -65.00,100.83 -66.00,102.00"/>
<path d="M60.00,95.00 C61.00,96.17 65.00,100.83 66.00,102.00"/>
<path d="M-50.00,96.00 C-48.83,96.67 -45.00,98.33 -43.00,100.00 C-41.00,101.67 -38.83,105.00 -38.00,106.00"/>
<path d="M50.00,96.00 C48.83,96.67 45.00,98.33 43.00,100.00 C41.00,101.67 38.83,105.00 38.00,106.00"/>
<path d="M-22.00,82.00 C-20.83,82.83 -17.67,86.50 -15.00,87.00 C-12.33,87.50 -7.50,85.33 -6.00,85.00"/>
<path d="M22.00,82.00 C20.83,82.83 17.67,86.50 15.00,87.00 C12.33,87.50 7.50,85.33 6.00,85.00"/>
<path d="M-19.00,104.00 C-17.67,104.67 -12.33,107.33 -11.00,108.00"/>
<path d="M19.00,104.00 C17.67,104.67 12.33,107.33 11.00,108.00"/>
<path d="M-72.00,140.00 C-70.67,141.00 -65.33,145.00 -64.00,146.00"/>
<path d="M72.00,140.00 C70.67,141.00 65.33,145.00 64.00,146.00"/>
<path d="M-36.00,178.00 C-34.17,178.50 -28.67,180.83 -25.00,181.00 C-21.33,181.17 -15.83,179.33 -14.00,179.00"/>
<path d="M36.00,178.00 C34.17,178.50 28.67,180.83 25.00,181.00 C21.33,181.17 15.83,179.33 14.00,179.00"/>
<path d="M-57.00,186.00 C-55.33,185.50 -48.67,183.50 -47.00,183.00"/>
<path d="M57.00,186.00 C55.33,185.50 48.67,183.50 47.00,183.00"/>
<path d="M-9.00,26.00 C-8.50,27.67 -6.17,33.00 -6.00,36.00 C-5.83,39.00 -7.67,42.67 -8.00,44.00"/>
<path d="M9.00,26.00 C8.50,27.67 6.17,33.00 6.00,36.00 C5.83,39.00 7.67,42.67 8.00,44.00"/>
<path d="M-63.00,70.00 C-61.83,70.67 -57.17,73.33 -56.00,74.00"/>
<path d="M63.00,70.00 C61.83,70.67 57.17,73.33 56.00,74.00"/>
<path d="M-30.00,24.00 C-31.67,24.33 -37.33,26.33 -40.00,26.00 C-42.67,25.67 -45.00,22.67 -46.00,22.00"/>
<path d="M30.00,24.00 C31.67,24.33 37.33,26.33 40.00,26.00 C42.67,25.67 45.00,22.67 46.00,22.00"/>
<path d="M-58.00,160.00 C-56.67,160.83 -51.33,164.17 -50.00,165.00"/>
<path d="M58.00,160.00 C56.67,160.83 51.33,164.17 50.00,165.00"/>
</g>
<circle cx="455.40" cy="510.30" r="6.5" fill="rgb(180,220,100)"/><circle cx="455.40" cy="510.30" r="3.6" fill="rgb(145,145,255)"/>
<circle cx="441.40" cy="524.40" r="6.5" fill="rgb(100,180,100)"/><circle cx="441.40" cy="524.40" r="3.6" fill="rgb(230,230,255)"/>
<circle cx="419.50" cy="530.60" r="6.5" fill="rgb(110,185,100)"/><circle cx="419.50" cy="530.60" r="3.6" fill="rgb(230,230,255)"/>
<circle cx="467.90" cy="520.50" r="6.5" fill="rgb(110,185,100)"/><circle cx="467.90" cy="520.50" r="3.6" fill="rgb(120,120,255)"/>
<circle cx="430.40" cy="561.30" r="6.5" fill="rgb(170,215,100)"/><circle cx="430.40" cy="561.30" r="3.6" fill="rgb(245,70,70)"/>
<circle cx="410.05" cy="581.30" r="6.5" fill="rgb(120,190,100)"/><circle cx="410.05" cy="581.30" r="3.6" fill="rgb(210,0,0)"/>
<circle cx="421.25" cy="595.20" r="6.5" fill="rgb(100,180,100)"/><circle cx="421.25" cy="595.20" r="3.6" fill="rgb(180,0,0)"/>
<circle cx="418.95" cy="586.20" r="6.5" fill="rgb(220,240,100)"/><circle cx="418.95" cy="586.20" r="3.6" fill="rgb(250,60,60)"/>
<circle cx="415.85" cy="575.50" r="6.5" fill="rgb(80,170,100)"/><circle cx="415.85" cy="575.50" r="3.6" fill="rgb(180,0,0)"/>
<circle cx="426.45" cy="568.90" r="6.5" fill="rgb(22,135,100)"/><circle cx="426.45" cy="568.90" r="3.6" fill="rgb(245,40,40)"/>
<circle cx="444.25" cy="592.60" r="6.5" fill="rgb(110,185,100)"/><circle cx="444.25" cy="592.60" r="3.6" fill="rgb(130,0,0)"/>
<circle cx="434.05" cy="594.20" r="6.5" fill="rgb(22,135,100)"/><circle cx="434.05" cy="594.20" r="3.6" fill="rgb(255,0,0)"/>
<circle cx="465.55" cy="585.80" r="6.5" fill="rgb(22,135,100)"/><circle cx="465.55" cy="585.80" r="3.6" fill="rgb(250,50,50)"/>
<circle cx="409.75" cy="628.20" r="6.5" fill="rgb(100,180,100)"/><circle cx="409.75" cy="628.20" r="3.6" fill="rgb(170,0,0)"/>
<circle cx="419.15" cy="633.00" r="6.5" fill="rgb(80,170,100)"/><circle cx="419.15" cy="633.00" r="3.6" fill="rgb(230,0,0)"/>
<circle cx="445.75" cy="638.20" r="6.5" fill="rgb(80,170,100)"/><circle cx="445.75" cy="638.20" r="3.6" fill="rgb(230,0,0)"/>
<circle cx="435.45" cy="638.80" r="6.5" fill="rgb(150,205,100)"/><circle cx="435.45" cy="638.80" r="3.6" fill="rgb(140,0,0)"/>
<circle cx="465.55" cy="634.70" r="6.5" fill="rgb(90,175,100)"/><circle cx="465.55" cy="634.70" r="3.6" fill="rgb(180,0,0)"/>
<circle cx="419.15" cy="655.20" r="6.5" fill="rgb(150,205,100)"/><circle cx="419.15" cy="655.20" r="3.6" fill="rgb(250,20,20)"/>
<circle cx="447.15" cy="672.70" r="6.5" fill="rgb(90,175,100)"/><circle cx="447.15" cy="672.70" r="3.6" fill="rgb(230,0,0)"/>
<circle cx="454.75" cy="675.00" r="6.5" fill="rgb(130,195,100)"/><circle cx="454.75" cy="675.00" r="3.6" fill="rgb(200,0,0)"/>
<circle cx="463.55" cy="672.70" r="6.5" fill="rgb(100,180,100)"/><circle cx="463.55" cy="672.70" r="3.6" fill="rgb(170,0,0)"/>
<circle cx="499.90" cy="510.30" r="6.5" fill="rgb(210,235,100)"/><circle cx="499.90" cy="510.30" r="3.6" fill="rgb(40,40,255)"/>
<circle cx="513.90" cy="524.40" r="6.5" fill="rgb(100,180,100)"/><circle cx="513.90" cy="524.40" r="3.6" fill="rgb(210,210,255)"/>
<circle cx="535.80" cy="530.60" r="6.5" fill="rgb(140,200,100)"/><circle cx="535.80" cy="530.60" r="3.6" fill="rgb(200,200,255)"/>
<circle cx="487.40" cy="520.50" r="6.5" fill="rgb(140,200,100)"/><circle cx="487.40" cy="520.50" r="3.6" fill="rgb(40,40,255)"/>
<circle cx="524.90" cy="561.30" r="6.5" fill="rgb(170,215,100)"/><circle cx="524.90" cy="561.30" r="3.6" fill="rgb(255,170,170)"/>
<circle cx="545.25" cy="581.30" r="6.5" fill="rgb(100,180,100)"/><circle cx="545.25" cy="581.30" r="3.6" fill="rgb(240,10,10)"/>
<circle cx="534.05" cy="595.20" r="6.5" fill="rgb(100,180,100)"/><circle cx="534.05" cy="595.20" r="3.6" fill="rgb(200,0,0)"/>
<circle cx="536.35" cy="586.20" r="6.5" fill="rgb(200,230,100)"/><circle cx="536.35" cy="586.20" r="3.6" fill="rgb(255,210,210)"/>
<circle cx="539.45" cy="575.50" r="6.5" fill="rgb(90,175,100)"/><circle cx="539.45" cy="575.50" r="3.6" fill="rgb(245,0,0)"/>
<circle cx="528.85" cy="568.90" r="6.5" fill="rgb(22,135,100)"/><circle cx="528.85" cy="568.90" r="3.6" fill="rgb(250,120,120)"/>
<circle cx="511.05" cy="592.60" r="6.5" fill="rgb(120,190,100)"/><circle cx="511.05" cy="592.60" r="3.6" fill="rgb(200,0,0)"/>
<circle cx="521.25" cy="594.20" r="6.5" fill="rgb(22,135,100)"/><circle cx="521.25" cy="594.20" r="3.6" fill="rgb(250,80,80)"/>
<circle cx="489.75" cy="585.80" r="6.5" fill="rgb(22,135,100)"/><circle cx="489.75" cy="585.80" r="3.6" fill="rgb(250,60,60)"/>
<circle cx="545.55" cy="628.20" r="6.5" fill="rgb(130,195,100)"/><circle cx="545.55" cy="628.20" r="3.6" fill="rgb(210,0,0)"/>
<circle cx="536.15" cy="633.00" r="6.5" fill="rgb(90,175,100)"/><circle cx="536.15" cy="633.00" r="3.6" fill="rgb(245,20,20)"/>
<circle cx="509.55" cy="638.20" r="6.5" fill="rgb(90,175,100)"/><circle cx="509.55" cy="638.20" r="3.6" fill="rgb(220,0,0)"/>
<circle cx="519.85" cy="638.80" r="6.5" fill="rgb(140,200,100)"/><circle cx="519.85" cy="638.80" r="3.6" fill="rgb(210,0,0)"/>
<circle cx="489.75" cy="634.70" r="6.5" fill="rgb(90,175,100)"/><circle cx="489.75" cy="634.70" r="3.6" fill="rgb(190,0,0)"/>
<circle cx="536.15" cy="655.20" r="6.5" fill="rgb(140,200,100)"/><circle cx="536.15" cy="655.20" r="3.6" fill="rgb(250,140,140)"/>
<circle cx="508.15" cy="672.70" r="6.5" fill="rgb(90,175,100)"/><circle cx="508.15" cy="672.70" r="3.6" fill="rgb(250,0,0)"/>
<circle cx="500.55" cy="675.00" r="6.5" fill="rgb(130,195,100)"/><circle cx="500.55" cy="675.00" r="3.6" fill="rgb(190,0,0)"/>
<circle cx="491.75" cy="672.70" r="6.5" fill="rgb(120,190,100)"/><circle cx="491.75" cy="672.70" r="3.6" fill="rgb(200,0,0)"/>
<path d="M229.25,566.20L229.25,570.20M227.52,567.20L230.98,569.20M227.52,569.20L230.98,567.20M235.35,566.20L235.35,570.20M233.62,567.20L237.08,569.20M233.62,569.20L237.08,567.20" stroke="#1a1a1a" stroke-width="1.05" fill="none"/>
<path d="M216.55,587.00L216.55,591.00M214.82,588.00L218.28,590.00M214.82,590.00L218.28,588.00M222.65,587.00L222.65,591.00M220.92,588.00L224.38,590.00M220.92,590.00L224.38,588.00" stroke="#1a1a1a" stroke-width="1.05" fill="none"/>
<path d="M247.35,583.50L247.35,587.50M245.62,584.50L249.08,586.50M245.62,586.50L249.08,584.50M253.45,583.50L253.45,587.50M251.72,584.50L255.18,586.50M251.72,586.50L255.18,584.50" stroke="#1a1a1a" stroke-width="1.05" fill="none"/>
<path d="M231.60,602.10L231.60,606.10M229.87,603.10L233.33,605.10M229.87,605.10L233.33,603.10M237.70,602.10L237.70,606.10M235.97,603.10L239.43,605.10M235.97,605.10L239.43,603.10M243.80,602.10L243.80,606.10M242.07,603.10L245.53,605.10M242.07,605.10L245.53,603.10" stroke="#1a1a1a" stroke-width="1.05" fill="none"/>
<path d="M258.50,599.50L258.50,603.50M256.77,600.50L260.23,602.50M256.77,602.50L260.23,600.50M264.60,599.50L264.60,603.50M262.87,600.50L266.33,602.50M262.87,602.50L266.33,600.50M270.70,599.50L270.70,603.50M268.97,600.50L272.43,602.50M268.97,602.50L272.43,600.50" stroke="#1a1a1a" stroke-width="1.05" fill="none"/>
<path d="M219.60,618.30L219.60,622.30M217.87,619.30L221.33,621.30M217.87,621.30L221.33,619.30M225.70,618.30L225.70,622.30M223.97,619.30L227.43,621.30M223.97,621.30L227.43,619.30M231.80,618.30L231.80,622.30M230.07,619.30L233.53,621.30M230.07,621.30L233.53,619.30" stroke="#1a1a1a" stroke-width="1.05" fill="none"/>
<path d="M245.60,629.00L245.60,633.00M243.87,630.00L247.33,632.00M243.87,632.00L247.33,630.00M251.70,629.00L251.70,633.00M249.97,630.00L253.43,632.00M249.97,632.00L253.43,630.00M257.80,629.00L257.80,633.00M256.07,630.00L259.53,632.00M256.07,632.00L259.53,630.00" stroke="#1a1a1a" stroke-width="1.05" fill="none"/>
<path d="M276.50,624.70L276.50,628.70M274.77,625.70L278.23,627.70M274.77,627.70L278.23,625.70M282.60,624.70L282.60,628.70M280.87,625.70L284.33,627.70M280.87,627.70L284.33,625.70M288.70,624.70L288.70,628.70M286.97,625.70L290.43,627.70M286.97,627.70L290.43,625.70" stroke="#1a1a1a" stroke-width="1.05" fill="none"/>
<path d="M354.15,565.50L354.15,569.50M352.42,566.50L355.88,568.50M352.42,568.50L355.88,566.50M360.25,565.50L360.25,569.50M358.52,566.50L361.98,568.50M358.52,568.50L361.98,566.50" stroke="#1a1a1a" stroke-width="1.05" fill="none"/>
<path d="M324.55,582.50L324.55,586.50M322.82,583.50L326.28,585.50M322.82,585.50L326.28,583.50M330.65,582.50L330.65,586.50M328.92,583.50L332.38,585.50M328.92,585.50L332.38,583.50" stroke="#1a1a1a" stroke-width="1.05" fill="none"/>
<path d="M348.85,602.00L348.85,606.00M347.12,603.00L350.58,605.00M347.12,605.00L350.58,603.00M354.95,602.00L354.95,606.00M353.22,603.00L356.68,605.00M353.22,605.00L356.68,603.00" stroke="#1a1a1a" stroke-width="1.05" fill="none"/>
<path d="M303.35,625.00L303.35,629.00M301.62,626.00L305.08,628.00M301.62,628.00L305.08,626.00M309.45,625.00L309.45,629.00M307.72,626.00L311.18,628.00M307.72,628.00L311.18,626.00" stroke="#1a1a1a" stroke-width="1.05" fill="none"/>
<path d="M322.65,628.70L322.65,632.70M320.92,629.70L324.38,631.70M320.92,631.70L324.38,629.70M328.75,628.70L328.75,632.70M327.02,629.70L330.48,631.70M327.02,631.70L330.48,629.70" stroke="#1a1a1a" stroke-width="1.05" fill="none"/>
<path d="M333.45,645.60L333.45,649.60M331.72,646.60L335.18,648.60M331.72,648.60L335.18,646.60M339.55,645.60L339.55,649.60M337.82,646.60L341.28,648.60M337.82,648.60L341.28,646.60" stroke="#1a1a1a" stroke-width="1.05" fill="none"/>
<path d="M260.05,663.50L260.05,667.50M258.32,664.50L261.78,666.50M258.32,666.50L261.78,664.50M266.15,663.50L266.15,667.50M264.42,664.50L267.88,666.50M264.42,666.50L267.88,664.50" stroke="#1a1a1a" stroke-width="1.05" fill="none"/>
<path d="M274.90,663.50L274.90,667.50M273.17,664.50L276.63,666.50M273.17,666.50L276.63,664.50M281.00,663.50L281.00,667.50M279.27,664.50L282.73,666.50M279.27,666.50L282.73,664.50M287.10,663.50L287.10,667.50M285.37,664.50L288.83,666.50M285.37,666.50L288.83,664.50" stroke="#1a1a1a" stroke-width="1.05" fill="none"/>
<path d="M268.35,681.30L268.35,685.30M266.62,682.30L270.08,684.30M266.62,684.30L270.08,682.30M274.45,681.30L274.45,685.30M272.72,682.30L276.18,684.30M272.72,684.30L276.18,682.30" stroke="#1a1a1a" stroke-width="1.05" fill="none"/>
<path d="M303.85,663.10L303.85,667.10M302.12,664.10L305.58,666.10M302.12,666.10L305.58,664.10M309.95,663.10L309.95,667.10M308.22,664.10L311.68,666.10M308.22,666.10L311.68,664.10" stroke="#1a1a1a" stroke-width="1.05" fill="none"/>
<path d="M313.85,681.20L313.85,685.20M312.12,682.20L315.58,684.20M312.12,684.20L315.58,682.20M319.95,681.20L319.95,685.20M318.22,682.20L321.68,684.20M318.22,684.20L321.68,682.20" stroke="#1a1a1a" stroke-width="1.05" fill="none"/>
<path d="M406.60,565.60L406.60,569.60M404.87,566.60L408.33,568.60M404.87,568.60L408.33,566.60M412.70,565.60L412.70,569.60M410.97,566.60L414.43,568.60M410.97,568.60L414.43,566.60M418.80,565.60L418.80,569.60M417.07,566.60L420.53,568.60M417.07,568.60L420.53,566.60" stroke="#1a1a1a" stroke-width="1.05" fill="none"/>
<path d="M397.35,580.20L397.35,584.20M395.62,581.20L399.08,583.20M395.62,583.20L399.08,581.20M403.45,580.20L403.45,584.20M401.72,581.20L405.18,583.20M401.72,583.20L405.18,581.20" stroke="#1a1a1a" stroke-width="1.05" fill="none"/>
<path d="M430.25,584.30L430.25,588.30M428.52,585.30L431.98,587.30M428.52,587.30L431.98,585.30M436.35,584.30L436.35,588.30M434.62,585.30L438.08,587.30M434.62,587.30L438.08,585.30" stroke="#1a1a1a" stroke-width="1.05" fill="none"/>
<path d="M415.30,602.30L415.30,606.30M413.57,603.30L417.03,605.30M413.57,605.30L417.03,603.30M421.40,602.30L421.40,606.30M419.67,603.30L423.13,605.30M419.67,605.30L423.13,603.30M427.50,602.30L427.50,606.30M425.77,603.30L429.23,605.30M425.77,605.30L429.23,603.30" stroke="#1a1a1a" stroke-width="1.05" fill="none"/>
<path d="M442.90,599.50L442.90,603.50M441.17,600.50L444.63,602.50M441.17,602.50L444.63,600.50M449.00,599.50L449.00,603.50M447.27,600.50L450.73,602.50M447.27,602.50L450.73,600.50M455.10,599.50L455.10,603.50M453.37,600.50L456.83,602.50M453.37,602.50L456.83,600.50" stroke="#1a1a1a" stroke-width="1.05" fill="none"/>
<path d="M462.85,576.40L462.85,580.40M461.12,577.40L464.58,579.40M461.12,579.40L464.58,577.40M468.95,576.40L468.95,580.40M467.22,577.40L470.68,579.40M467.22,579.40L470.68,577.40" stroke="#1a1a1a" stroke-width="1.05" fill="none"/>
<path d="M404.10,616.70L404.10,620.70M402.37,617.70L405.83,619.70M402.37,619.70L405.83,617.70M410.20,616.70L410.20,620.70M408.47,617.70L411.93,619.70M408.47,619.70L411.93,617.70M416.30,616.70L416.30,620.70M414.57,617.70L418.03,619.70M414.57,619.70L418.03,617.70" stroke="#1a1a1a" stroke-width="1.05" fill="none"/>
<path d="M462.65,624.00L462.65,628.00M460.92,625.00L464.38,627.00M460.92,627.00L464.38,625.00M468.75,624.00L468.75,628.00M467.02,625.00L470.48,627.00M467.02,627.00L470.48,625.00" stroke="#1a1a1a" stroke-width="1.05" fill="none"/>
<path d="M443.35,662.70L443.35,666.70M441.62,663.70L445.08,665.70M441.62,665.70L445.08,663.70M449.45,662.70L449.45,666.70M447.72,663.70L451.18,665.70M447.72,665.70L451.18,663.70" stroke="#1a1a1a" stroke-width="1.05" fill="none"/>
<path d="M460.85,662.70L460.85,666.70M459.12,663.70L462.58,665.70M459.12,665.70L462.58,663.70M466.95,662.70L466.95,666.70M465.22,663.70L468.68,665.70M465.22,665.70L468.68,663.70" stroke="#1a1a1a" stroke-width="1.05" fill="none"/>
<path d="M538.55,564.80L538.55,568.80M536.82,565.80L540.28,567.80M536.82,567.80L540.28,565.80M544.65,564.80L544.65,568.80M542.92,565.80L546.38,567.80M542.92,567.80L546.38,565.80" stroke="#1a1a1a" stroke-width="1.05" fill="none"/>
<path d="M487.15,576.40L487.15,580.40M485.42,577.40L488.88,579.40M485.42,579.40L488.88,577.40M493.25,576.40L493.25,580.40M491.52,577.40L494.98,579.40M491.52,579.40L494.98,577.40" stroke="#1a1a1a" stroke-width="1.05" fill="none"/>
<path d="M508.25,583.40L508.25,587.40M506.52,584.40L509.98,586.40M506.52,586.40L509.98,584.40M514.35,583.40L514.35,587.40M512.62,584.40L516.08,586.40M512.62,586.40L516.08,584.40" stroke="#1a1a1a" stroke-width="1.05" fill="none"/>
<path d="M532.35,601.20L532.35,605.20M530.62,602.20L534.08,604.20M530.62,604.20L534.08,602.20M538.45,601.20L538.45,605.20M536.72,602.20L540.18,604.20M536.72,604.20L540.18,602.20" stroke="#1a1a1a" stroke-width="1.05" fill="none"/>
<path d="M507.45,628.40L507.45,632.40M505.72,629.40L509.18,631.40M505.72,631.40L509.18,629.40M513.55,628.40L513.55,632.40M511.82,629.40L515.28,631.40M511.82,631.40L515.28,629.40" stroke="#1a1a1a" stroke-width="1.05" fill="none"/>
<path d="M488.85,662.90L488.85,666.90M487.12,663.90L490.58,665.90M487.12,665.90L490.58,663.90M494.95,662.90L494.95,666.90M493.22,663.90L496.68,665.90M493.22,665.90L496.68,663.90" stroke="#1a1a1a" stroke-width="1.05" fill="none"/>
<path d="M505.25,662.30L505.25,666.30M503.52,663.30L506.98,665.30M503.52,665.30L506.98,663.30M511.35,662.30L511.35,666.30M509.62,663.30L513.08,665.30M509.62,665.30L513.08,663.30" stroke="#1a1a1a" stroke-width="1.05" fill="none"/>
<path d="M497.15,681.60L497.15,685.60M495.42,682.60L498.88,684.60M495.42,684.60L498.88,682.60M503.25,681.60L503.25,685.60M501.52,682.60L504.98,684.60M501.52,684.60L504.98,682.60" stroke="#1a1a1a" stroke-width="1.05" fill="none"/>
<rect x="572.2" y="505.9" width="9.5" height="180.4" fill="url(#gseismic)" stroke="#6a6a6a" stroke-width="0.5"/>
<rect x="629.2" y="505.9" width="10" height="180.4" fill="url(#gsummer)" stroke="#6a6a6a" stroke-width="0.5"/>
<line x1="581.7" y1="531.0" x2="584.1" y2="531.0" stroke="#6a6a6a" stroke-width="0.9"/>
<text x="584.89" y="534.60" font-size="10.0" font-weight="normal" font-style="normal" fill="#111" textLength="14.22" lengthAdjust="spacingAndGlyphs">0.2</text>
<line x1="581.7" y1="596.3" x2="584.1" y2="596.3" stroke="#6a6a6a" stroke-width="0.9"/>
<text x="584.90" y="599.90" font-size="10.0" font-weight="normal" font-style="normal" fill="#111" textLength="14.06" lengthAdjust="spacingAndGlyphs">0.0</text>
<line x1="581.7" y1="662.7" x2="584.1" y2="662.7" stroke="#6a6a6a" stroke-width="0.9"/>
<text x="584.75" y="666.30" font-size="10.0" font-weight="normal" font-style="normal" fill="#111" textLength="21.58" lengthAdjust="spacingAndGlyphs">−0.2</text>
<line x1="639.2" y1="553.1" x2="641.6" y2="553.1" stroke="#6a6a6a" stroke-width="0.9"/>
<text x="642.50" y="556.70" font-size="10.0" font-weight="normal" font-style="normal" fill="#111" textLength="19.62" lengthAdjust="spacingAndGlyphs">0.25</text>
<line x1="639.2" y1="608.6" x2="641.6" y2="608.6" stroke="#6a6a6a" stroke-width="0.9"/>
<text x="642.50" y="612.20" font-size="10.0" font-weight="normal" font-style="normal" fill="#111" textLength="19.57" lengthAdjust="spacingAndGlyphs">0.20</text>
<line x1="639.2" y1="664.2" x2="641.6" y2="664.2" stroke="#6a6a6a" stroke-width="0.9"/>
<text x="642.50" y="667.80" font-size="10.0" font-weight="normal" font-style="normal" fill="#111" textLength="19.62" lengthAdjust="spacingAndGlyphs">0.15</text>
<g transform="translate(620.6,596.6) rotate(-90)"><text font-size="12.5" fill="#111" text-anchor="middle"><tspan font-style="italic">mean</tspan> [ <tspan font-style="italic" text-decoration="overline">λ</tspan><tspan font-size="7" dy="2.5" font-style="italic">Ga</tspan><tspan dy="-2.5"> − </tspan><tspan font-style="italic" text-decoration="overline">λ</tspan><tspan font-size="7" dy="2.5" font-style="italic">Gb</tspan><tspan dy="-2.5"> ]</tspan></text></g>
<g transform="translate(673.6,597.5) rotate(-90)"><text font-size="10.5" fill="#111" text-anchor="middle"><tspan font-style="italic">std</tspan> [ <tspan font-style="italic" text-decoration="overline">λ</tspan><tspan font-size="6.5" dy="2" font-style="italic">Ga</tspan><tspan dy="-2"> ] + </tspan><tspan font-style="italic">std</tspan> [ <tspan font-style="italic" text-decoration="overline">λ</tspan><tspan font-size="6.5" dy="2" font-style="italic">Gb</tspan><tspan dy="-2"> ]</tspan></text></g>
<line x1="677.6" y1="551.2" x2="677.6" y2="643.7" stroke="#111" stroke-width="0.9"/>
<g transform="translate(684.7,597.3) rotate(-90)"><text font-size="9" fill="#111" text-anchor="middle">2</text></g>
<rect x="542.1" y="454.5" width="142.3" height="42.6" fill="#eeeeee" stroke="#8a8a8a" stroke-width="1"/>
<text x="542.83" y="466.20" font-size="11.3" font-weight="normal" font-style="normal" fill="#111" textLength="139.11" lengthAdjust="spacingAndGlyphs">Kolmogorov-Smirnov test:</text>
<text x="543.66" y="479.50" font-size="11.3" font-weight="normal" font-style="normal" fill="#111" textLength="7.47" lengthAdjust="spacingAndGlyphs">**</text>
<text x="558.92" y="479.50" font-size="11.3" font-weight="normal" font-style="normal" fill="#111" textLength="82.83" lengthAdjust="spacingAndGlyphs">: p-value &lt; 0.01</text>
<text x="543.63" y="492.60" font-size="11.3" font-weight="normal" font-style="normal" fill="#111" textLength="13.01" lengthAdjust="spacingAndGlyphs">***</text>
<text x="561.34" y="492.60" font-size="11.3" font-weight="normal" font-style="normal" fill="#111" textLength="88.22" lengthAdjust="spacingAndGlyphs">: p-value &lt; 0.001</text>
</svg></body></html>
